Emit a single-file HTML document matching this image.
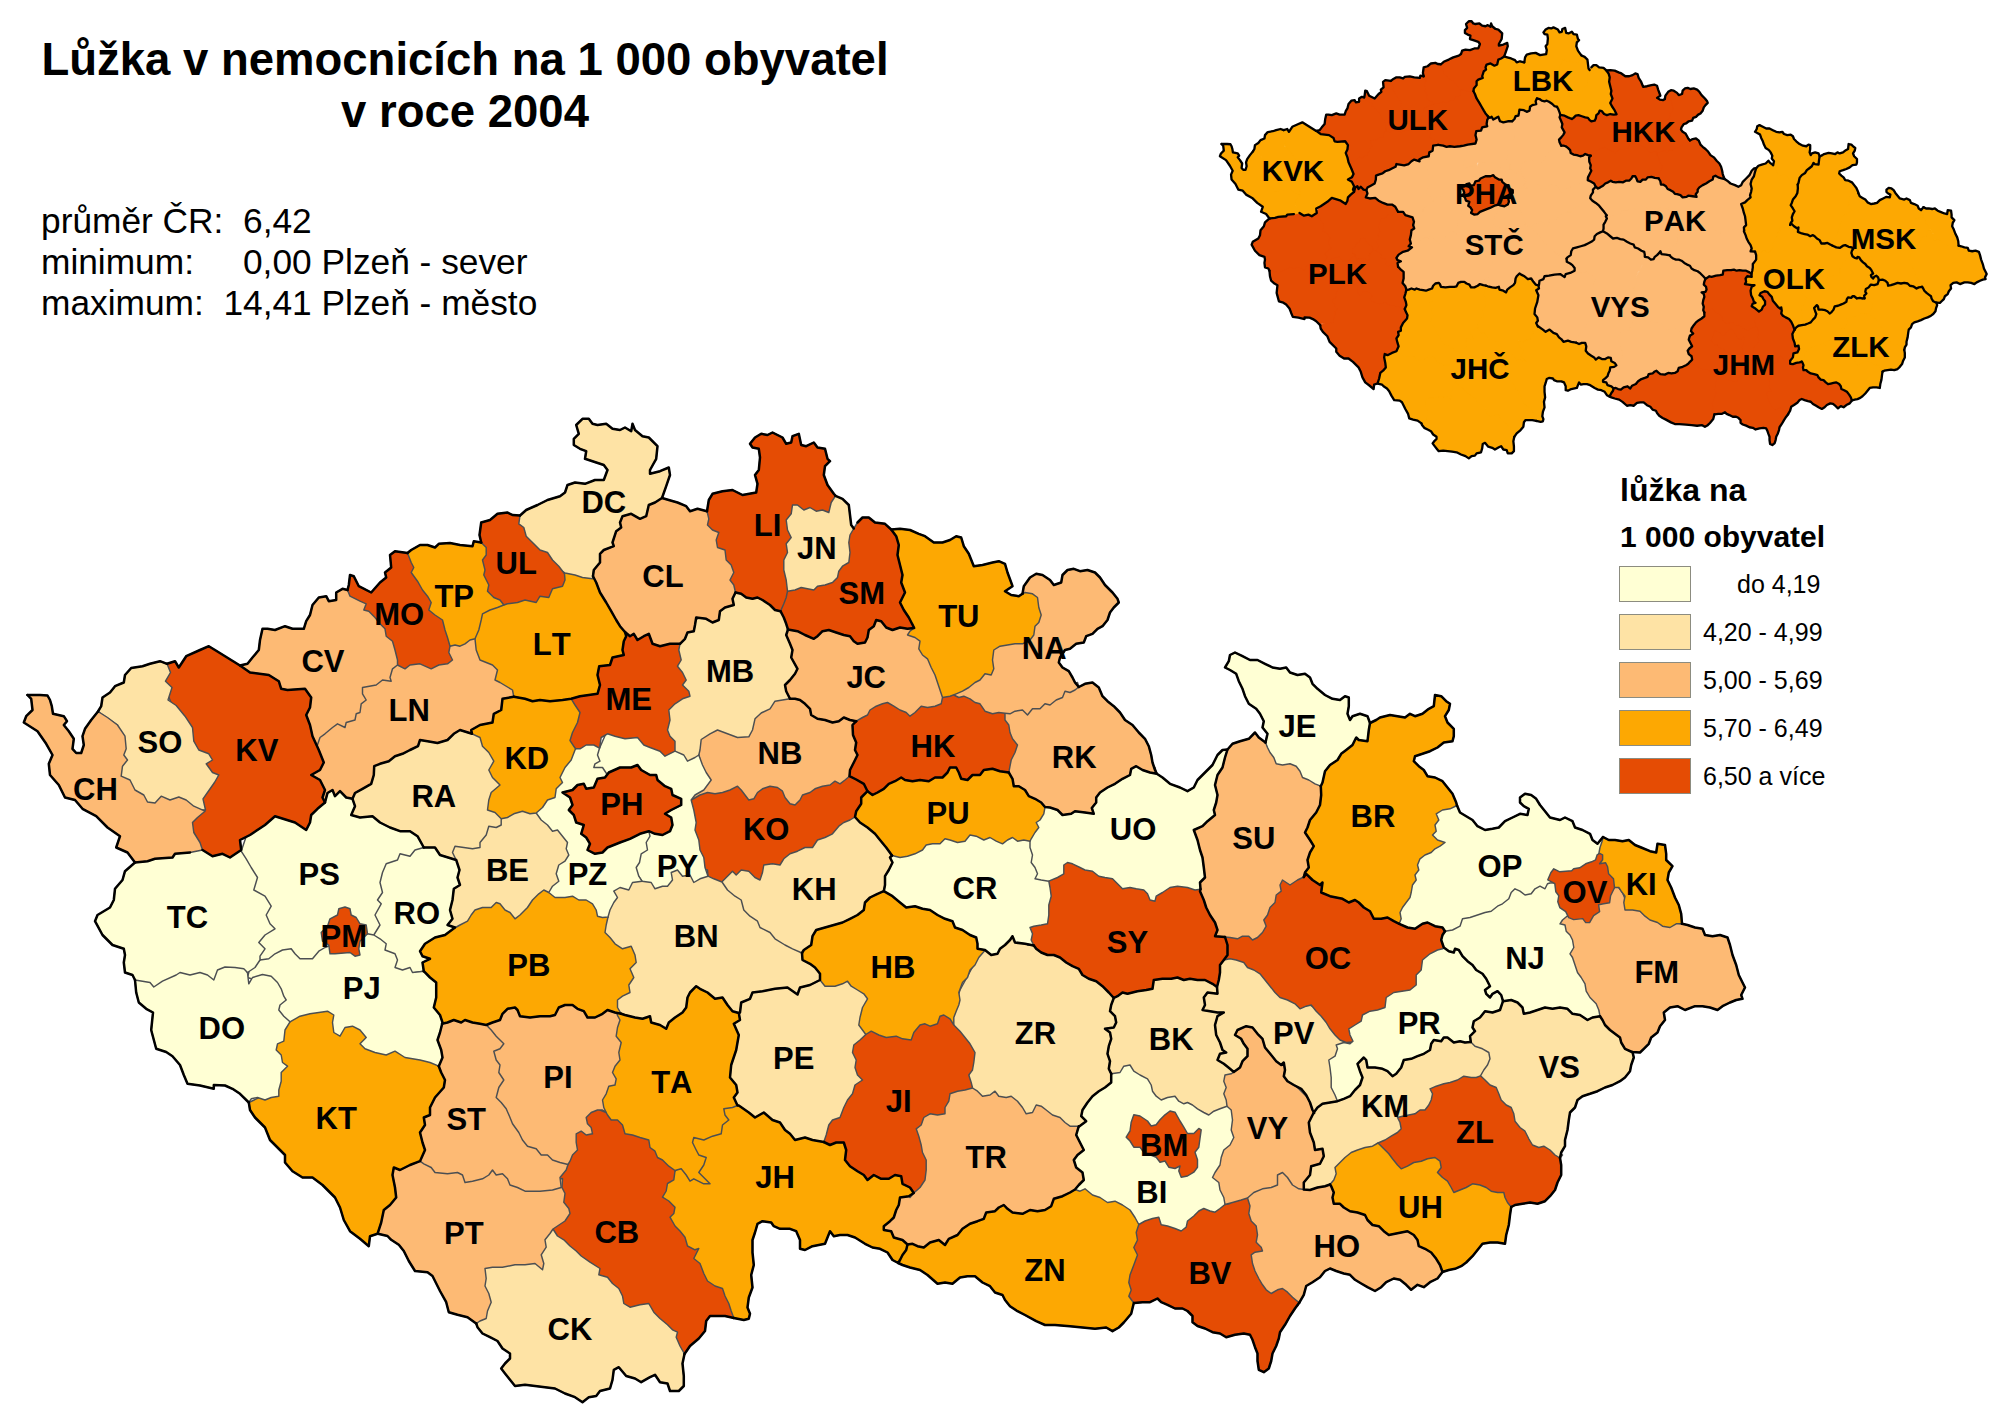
<!DOCTYPE html>
<html><head><meta charset="utf-8"><title>Lůžka v nemocnicích</title>
<style>
html,body{margin:0;padding:0;background:#fff;}
body{font-kerning:none;width:2008px;height:1415px;position:relative;overflow:hidden;font-family:"Liberation Sans",sans-serif;color:#000;}
#title{position:absolute;left:0;top:34.2px;width:930px;text-align:center;font-weight:bold;font-size:45.5px;line-height:52px;}
#info{position:absolute;left:41px;top:200px;font-size:35.3px;line-height:41px;white-space:pre;}
svg{position:absolute;left:0;top:0;}
.d{stroke:#4c4f52;stroke-width:1.45;stroke-linejoin:round;}
.k{fill:none;stroke:#000;stroke-width:2.5;stroke-linejoin:round;stroke-linecap:round;}
text{font-family:"Liberation Sans",sans-serif;font-weight:bold;text-anchor:middle;fill:#000;font-kerning:none;}
.k2{fill:none;stroke:#000;stroke-width:5.2;stroke-linejoin:round;stroke-linecap:round;}
.lt{position:absolute;left:1620px;font-weight:bold;white-space:pre;}
.sw{position:absolute;left:1619px;width:72px;height:36px;border:1px solid #8c8c80;box-sizing:border-box;}
.lb{position:absolute;left:1703px;font-size:25px;line-height:28px;white-space:pre;}
</style></head><body>
<div id="title">Lůžka v nemocnicích na 1 000 obyvatel<br>v roce 2004</div>
<div id="info">průměr ČR:  6,42
minimum:     0,00 Plzeň - sever
maximum:  14,41 Plzeň - město</div>
<svg width="2008" height="1415" viewBox="0 0 2008 1415">
<polygon class="d" fill="#fdba74" points="1299.2,1302.8 1303.8,1294.8 1306.2,1286.0 1312.5,1282.2 1320.0,1277.2 1325.0,1271.0 1330.0,1268.5 1336.2,1271.0 1343.8,1273.5 1350.0,1274.8 1355.0,1279.8 1361.2,1283.5 1367.5,1287.2 1375.0,1291.0 1381.2,1287.2 1386.2,1282.2 1393.8,1278.5 1400.0,1279.8 1406.2,1284.8 1411.2,1289.8 1417.5,1284.8 1423.8,1287.2 1430.0,1282.2 1437.5,1278.5 1442.5,1272.0 1445.0,1268.5 1435.0,1248.5 1422.5,1236.0 1400.0,1226.0 1380.0,1221.0 1362.5,1208.5 1340.0,1198.5 1335.0,1183.5 1325.0,1178.5 1305.0,1183.5 1297.5,1181.0 1282.5,1166.0 1270.0,1181.0 1250.0,1191.0 1245.0,1201.0 1245.0,1223.5 1252.5,1248.5 1247.5,1261.0 1257.5,1286.0 1272.5,1298.5 1287.5,1296.0 1297.5,1306.0"/>
<polygon class="d" fill="#e54c04" points="1138.8,1224.5 1150.0,1211.0 1175.0,1221.0 1200.0,1203.5 1220.0,1201.0 1225.0,1204.5 1237.5,1196.0 1247.5,1198.0 1250.0,1206.0 1248.8,1213.5 1251.2,1221.0 1256.2,1226.0 1257.5,1234.8 1256.2,1242.2 1261.2,1247.2 1262.5,1251.0 1255.0,1252.2 1251.2,1254.8 1252.5,1263.5 1255.0,1271.0 1258.8,1278.5 1262.5,1284.8 1266.2,1289.8 1271.2,1293.5 1277.5,1289.8 1282.5,1288.5 1287.5,1292.2 1292.5,1297.2 1299.2,1302.8 1295.0,1308.5 1290.0,1316.0 1285.0,1324.8 1280.0,1332.2 1278.8,1338.5 1276.2,1346.0 1272.5,1353.5 1271.2,1361.0 1268.8,1368.5 1263.8,1372.2 1258.8,1369.8 1257.5,1361.0 1257.5,1353.5 1255.0,1347.2 1252.5,1339.8 1250.0,1334.8 1243.8,1333.5 1235.0,1334.8 1226.2,1337.2 1220.0,1333.5 1212.5,1332.2 1205.0,1328.5 1197.5,1326.0 1192.5,1322.2 1192.5,1316.0 1187.5,1311.0 1182.5,1308.5 1175.0,1308.5 1167.5,1304.8 1161.2,1302.2 1157.5,1298.5 1150.0,1302.2 1142.5,1302.2 1134.2,1303.0 1125.0,1298.5 1125.0,1273.5 1130.0,1248.5 1132.5,1228.5"/>
<polygon class="d" fill="#ffffd4" points="1138.8,1224.5 1145.0,1221.0 1152.5,1218.5 1158.8,1217.2 1161.2,1224.8 1167.5,1226.0 1175.0,1228.5 1181.2,1231.0 1186.2,1227.2 1187.5,1221.0 1193.8,1216.0 1198.8,1211.0 1203.8,1208.5 1210.0,1211.0 1215.0,1212.2 1220.0,1208.5 1225.0,1204.5 1230.0,1203.5 1225.0,1186.0 1227.5,1161.0 1237.5,1136.0 1235.0,1111.0 1225.0,1101.0 1200.0,1106.0 1175.0,1091.0 1155.0,1086.0 1135.0,1061.0 1112.5,1068.5 1107.5,1071.0 1087.5,1091.0 1075.0,1123.5 1070.0,1136.0 1070.0,1161.0 1072.5,1186.0 1080.0,1196.0 1100.0,1203.5 1120.0,1211.0 1132.5,1223.5"/>
<polygon class="d" fill="#fdba74" points="1227.0,1106.2 1231.2,1110.0 1232.5,1120.0 1231.2,1130.0 1233.8,1137.5 1230.0,1145.0 1223.8,1150.0 1221.2,1157.5 1220.0,1165.0 1215.0,1172.5 1212.5,1177.5 1218.8,1182.5 1220.0,1190.0 1223.8,1197.5 1225.0,1204.5 1232.5,1202.5 1241.2,1200.0 1247.5,1198.0 1253.8,1192.5 1262.5,1188.8 1271.2,1187.5 1277.5,1185.0 1277.5,1175.0 1282.5,1172.5 1287.5,1177.5 1292.5,1185.0 1298.8,1188.8 1303.8,1189.5 1310.0,1187.5 1315.0,1172.5 1325.0,1165.0 1327.5,1152.5 1320.0,1145.0 1315.0,1130.0 1317.5,1115.0 1310.0,1100.0 1290.0,1080.0 1285.0,1060.0 1270.0,1050.0 1260.0,1030.0 1245.0,1022.5 1232.5,1035.0 1240.0,1050.0 1237.5,1062.5 1230.0,1070.0 1220.0,1075.0 1220.0,1105.0"/>
<polygon class="d" fill="#fee3a5" points="1111.2,1073.8 1111.2,1082.5 1105.0,1087.5 1098.8,1091.2 1092.5,1096.2 1087.5,1102.5 1082.5,1110.0 1081.2,1116.2 1086.2,1121.2 1079.5,1126.2 1075.0,1132.5 1050.0,1125.0 1025.0,1115.0 1000.0,1102.5 975.0,1095.0 967.5,1087.5 970.0,1062.5 962.5,1037.5 950.0,1025.0 950.0,1020.0 960.0,990.0 975.0,962.5 980.0,950.0 990.0,948.8 1000.0,942.5 1012.5,930.0 1032.5,940.0 1040.0,945.0 1062.5,955.0 1082.5,967.5 1105.0,982.5 1117.5,995.0 1120.0,1005.0 1120.0,1025.0 1115.0,1050.0 1117.5,1070.0"/>
<polygon class="d" fill="#fee3a5" points="1113.8,998.0 1111.2,1005.0 1110.0,1011.2 1115.0,1016.2 1116.2,1022.5 1113.8,1027.5 1105.0,1028.8 1110.0,1032.5 1111.2,1038.8 1108.8,1046.2 1107.5,1053.8 1110.0,1061.2 1108.8,1068.8 1111.2,1073.8 1120.0,1072.5 1123.8,1066.2 1130.0,1065.0 1133.8,1071.2 1140.0,1075.0 1147.5,1078.8 1151.2,1085.0 1152.5,1091.2 1156.2,1096.2 1161.2,1100.0 1167.5,1097.5 1175.0,1096.2 1178.8,1101.2 1183.8,1103.8 1187.5,1102.5 1192.5,1105.0 1197.5,1108.8 1203.8,1112.5 1208.8,1115.0 1213.8,1111.2 1220.0,1108.8 1227.0,1106.2 1226.2,1100.0 1223.8,1093.8 1226.2,1087.5 1223.8,1081.2 1225.0,1075.0 1231.2,1073.8 1233.8,1072.0 1235.0,1067.5 1230.0,1057.5 1232.5,1050.0 1225.0,1037.5 1222.5,1022.5 1227.5,1013.8 1225.0,1010.0 1212.5,1007.5 1210.0,1000.0 1222.5,995.0 1220.0,985.0 1217.5,982.5 1200.0,975.0 1175.0,973.8 1150.0,975.0 1147.5,986.2 1125.0,988.8 1115.0,993.8"/>
<polygon class="d" fill="#fee3a5" points="1217.0,987.0 1217.5,993.8 1207.5,992.5 1203.8,997.5 1205.0,1005.0 1202.5,1010.0 1210.0,1011.2 1217.5,1012.5 1223.8,1012.5 1217.5,1016.2 1215.0,1025.0 1216.2,1035.0 1220.0,1042.5 1222.5,1050.0 1226.2,1052.5 1220.0,1053.8 1217.5,1060.0 1223.8,1063.8 1230.0,1068.8 1233.8,1072.0 1240.0,1067.5 1242.5,1061.2 1247.5,1056.2 1247.5,1048.8 1243.8,1043.8 1241.2,1038.8 1235.0,1035.0 1237.5,1030.0 1246.2,1026.2 1252.5,1027.5 1257.5,1033.8 1262.5,1038.8 1265.0,1047.5 1271.2,1055.0 1276.2,1061.2 1281.2,1065.0 1283.8,1062.5 1285.0,1070.0 1283.8,1076.2 1287.5,1081.2 1293.8,1085.0 1301.2,1088.8 1306.2,1095.0 1310.0,1102.5 1312.5,1110.0 1314.2,1113.0 1325.0,1110.0 1340.0,1105.0 1342.5,1100.0 1337.5,1075.0 1337.5,1060.0 1345.0,1047.5 1355.0,1045.0 1350.0,1035.0 1325.0,1012.5 1300.0,1000.0 1275.0,985.0 1250.0,962.5 1225.0,955.0 1217.5,960.0 1215.0,985.0"/>
<polygon class="d" fill="#e54c04" points="1223.8,960.0 1230.0,958.8 1236.2,960.0 1243.8,962.5 1247.5,967.5 1253.8,970.0 1260.0,973.8 1265.0,980.0 1270.0,986.2 1275.0,992.5 1280.0,997.5 1287.5,1000.0 1295.0,1003.8 1300.0,1008.8 1306.2,1006.2 1311.2,1005.0 1316.2,1011.2 1321.2,1016.2 1326.2,1022.5 1330.0,1028.8 1335.0,1035.0 1340.0,1040.0 1346.2,1042.5 1353.0,1042.0 1357.5,1042.5 1365.0,1025.0 1390.0,1012.5 1400.0,997.5 1422.5,990.0 1425.0,970.0 1440.0,955.0 1447.5,947.5 1450.0,945.0 1450.0,930.0 1445.0,925.0 1425.0,917.5 1397.5,917.5 1375.0,910.0 1355.0,892.5 1325.0,882.5 1310.0,870.0 1300.0,870.0 1275.0,882.5 1265.0,905.0 1257.5,925.0 1245.0,930.0 1225.0,930.0 1220.0,937.5 1220.0,960.0"/>
<polygon class="d" fill="#e54c04" points="1033.8,945.5 1027.5,945.0 1025.0,930.0 1042.5,920.0 1045.0,900.0 1042.5,882.5 1050.0,875.0 1060.0,865.0 1067.5,857.5 1087.5,865.0 1112.5,872.5 1137.5,882.5 1152.5,892.5 1170.0,882.5 1195.0,885.0 1207.5,887.5 1217.5,912.5 1227.5,930.0 1225.0,937.0 1227.5,945.0 1227.5,955.0 1223.8,960.0 1220.0,965.0 1220.0,972.5 1218.8,980.0 1217.0,987.0 1212.5,983.8 1205.0,980.0 1197.5,980.0 1190.0,978.8 1183.8,980.0 1177.5,977.5 1171.2,978.8 1162.5,978.8 1153.8,980.0 1152.5,988.8 1146.2,990.0 1137.5,991.2 1127.5,993.8 1122.5,992.5 1117.5,996.2 1113.8,998.0 1108.8,992.5 1102.5,986.2 1096.2,981.2 1088.8,978.8 1082.5,975.0 1078.8,968.8 1072.5,966.2 1066.2,962.5 1060.0,957.5 1053.8,955.0 1047.5,955.0 1041.2,952.5 1036.2,948.8 1033.8,945.5"/>
<polygon class="d" fill="#ffffd4" points="1442.5,948.8 1450.0,945.0 1465.0,952.5 1480.0,965.0 1495.0,985.0 1505.0,997.5 1507.5,1007.5 1487.5,1020.0 1480.0,1030.0 1477.5,1042.5 1462.5,1050.0 1437.5,1050.0 1425.0,1065.0 1400.0,1080.0 1375.0,1075.0 1365.0,1075.0 1367.5,1087.5 1350.0,1102.5 1337.5,1105.0 1337.5,1101.2 1335.0,1095.0 1331.2,1087.5 1331.2,1077.5 1330.0,1067.5 1328.8,1060.0 1335.0,1056.2 1337.5,1048.8 1336.2,1045.0 1343.8,1042.5 1350.0,1043.8 1353.0,1041.2 1350.0,1035.0 1348.8,1028.8 1355.0,1025.0 1361.2,1021.2 1362.5,1015.0 1370.0,1011.2 1377.5,1010.0 1385.0,1007.5 1386.2,997.5 1393.8,992.5 1410.0,990.0 1416.2,985.0 1416.2,975.0 1421.2,970.0 1422.5,960.0 1430.0,953.8 1437.5,950.0"/>
<polygon class="d" fill="#fee3a5" points="1470.8,1042.0 1465.0,1042.5 1460.0,1041.2 1453.8,1042.5 1447.5,1037.5 1443.8,1037.5 1441.2,1041.2 1433.8,1040.0 1431.2,1043.8 1430.0,1050.0 1423.8,1053.8 1417.5,1056.2 1411.2,1058.8 1403.8,1060.0 1401.2,1067.5 1396.2,1073.8 1392.5,1076.2 1387.5,1071.2 1382.5,1068.8 1375.0,1067.5 1367.5,1067.5 1366.2,1060.0 1363.8,1057.5 1357.5,1063.8 1360.0,1071.2 1362.5,1077.5 1360.0,1085.0 1355.0,1090.0 1350.0,1096.2 1343.8,1098.8 1337.5,1101.2 1330.0,1102.5 1322.5,1103.8 1317.5,1107.5 1313.8,1112.5 1308.8,1122.5 1310.0,1132.5 1313.8,1142.5 1315.0,1150.0 1322.5,1148.8 1323.8,1156.2 1320.0,1163.8 1311.2,1166.2 1310.0,1175.0 1303.8,1182.5 1303.8,1189.5 1310.0,1190.0 1317.5,1187.5 1325.0,1186.2 1330.0,1184.5 1335.0,1187.5 1342.5,1172.5 1350.0,1160.0 1370.0,1152.5 1380.0,1147.5 1395.0,1142.5 1405.0,1130.0 1407.5,1120.0 1425.0,1115.0 1437.5,1100.0 1440.0,1090.0 1462.5,1082.5 1480.0,1080.0 1487.5,1072.5 1495.0,1057.5 1480.0,1042.5"/>
<polygon class="d" fill="#fda802" points="1378.0,1143.0 1385.0,1142.5 1400.0,1160.0 1412.5,1157.5 1435.0,1152.5 1447.5,1170.0 1455.0,1185.0 1472.5,1178.8 1490.0,1185.0 1507.5,1190.0 1515.0,1205.0 1511.2,1207.0 1510.0,1215.0 1508.8,1225.0 1506.2,1235.0 1505.0,1243.8 1497.5,1242.5 1490.0,1242.5 1482.5,1243.8 1477.5,1250.0 1472.5,1256.2 1466.2,1262.5 1461.2,1266.2 1455.0,1268.8 1448.8,1270.0 1442.5,1272.0 1440.0,1265.0 1436.2,1258.8 1431.2,1252.5 1425.0,1248.8 1418.8,1246.2 1417.5,1240.0 1413.8,1235.0 1407.5,1231.2 1401.2,1232.5 1395.0,1233.8 1388.8,1235.0 1383.8,1231.2 1378.8,1226.2 1372.5,1225.0 1367.5,1220.0 1365.0,1215.0 1357.5,1212.5 1350.0,1211.2 1343.8,1207.5 1340.0,1203.8 1333.8,1203.8 1332.5,1197.5 1333.8,1192.5 1331.2,1186.2 1330.0,1184.5 1333.8,1180.0 1336.2,1173.8 1335.0,1167.5 1340.0,1162.5 1345.0,1157.5 1351.2,1152.5 1357.5,1150.0 1365.0,1147.5 1372.5,1146.2"/>
<polygon class="d" fill="#e54c04" points="1480.5,1075.8 1487.5,1075.0 1505.0,1092.5 1520.0,1110.0 1525.0,1125.0 1537.5,1140.0 1555.0,1147.5 1562.5,1155.0 1560.0,1158.0 1561.2,1165.0 1561.2,1175.0 1557.5,1182.5 1555.0,1190.0 1550.0,1196.2 1545.0,1201.2 1537.5,1203.8 1530.0,1202.5 1522.5,1203.8 1515.0,1205.0 1511.2,1207.0 1507.5,1202.5 1505.0,1197.5 1503.8,1192.5 1497.5,1192.5 1491.2,1191.2 1486.2,1187.5 1480.0,1185.0 1472.5,1183.8 1466.2,1187.5 1460.0,1190.0 1453.8,1192.5 1451.2,1187.5 1447.5,1181.2 1442.5,1177.5 1437.5,1172.5 1441.2,1167.5 1440.0,1161.2 1435.0,1157.5 1427.5,1158.8 1421.2,1161.2 1413.8,1162.5 1407.5,1166.2 1401.2,1168.8 1397.5,1165.0 1392.5,1158.8 1388.8,1153.8 1383.8,1148.8 1378.0,1143.0 1385.0,1140.0 1391.2,1136.2 1397.5,1132.5 1401.2,1128.8 1400.0,1122.5 1397.5,1117.5 1402.5,1116.2 1408.8,1115.0 1415.0,1113.8 1420.0,1110.0 1425.0,1110.0 1428.8,1105.0 1431.2,1100.0 1432.5,1093.8 1430.0,1088.8 1436.2,1086.2 1443.8,1083.8 1450.0,1082.5 1457.5,1080.0 1463.8,1076.2 1471.2,1077.5 1476.2,1077.5"/>
<polygon class="d" fill="#fee3a5" points="1470.8,1042.0 1470.0,1036.2 1475.0,1031.2 1472.5,1027.5 1473.8,1021.2 1480.0,1017.5 1485.0,1011.2 1492.5,1012.5 1500.0,1010.0 1503.0,1001.2 1505.0,995.0 1525.0,1000.0 1550.0,1000.0 1570.0,1005.0 1587.5,1012.5 1600.0,1010.0 1612.5,1025.0 1625.0,1040.0 1632.5,1047.5 1632.5,1052.0 1633.8,1057.5 1631.2,1065.0 1630.0,1071.2 1625.0,1077.5 1620.0,1081.2 1612.5,1085.0 1605.0,1087.5 1597.5,1091.2 1590.0,1093.8 1582.5,1096.2 1577.5,1100.0 1575.0,1107.5 1570.0,1112.5 1568.8,1120.0 1567.5,1130.0 1565.0,1140.0 1565.0,1146.2 1561.2,1152.5 1560.0,1158.0 1555.0,1155.0 1550.0,1150.0 1543.8,1146.2 1538.8,1147.5 1532.5,1145.0 1528.8,1138.8 1525.0,1131.2 1520.0,1127.5 1515.0,1121.2 1513.8,1113.8 1511.2,1107.5 1506.2,1105.0 1501.2,1100.0 1498.8,1093.8 1496.2,1087.5 1490.0,1085.0 1485.0,1080.0 1480.5,1075.8 1483.8,1070.0 1487.5,1065.0 1490.0,1058.8 1488.8,1052.5 1482.5,1048.8 1475.0,1046.2"/>
<polygon class="d" fill="#ffffd4" points="1445.0,931.2 1450.0,922.5 1460.0,912.5 1490.0,905.0 1507.5,890.0 1525.0,887.5 1547.5,877.5 1557.5,885.0 1562.5,900.0 1570.0,910.0 1570.0,920.0 1580.0,950.0 1587.5,975.0 1597.5,995.0 1605.0,1012.5 1600.0,1016.2 1592.5,1017.5 1587.5,1020.0 1580.0,1015.0 1572.5,1013.8 1567.5,1008.8 1560.0,1007.5 1552.5,1008.8 1545.0,1007.5 1537.5,1010.0 1530.0,1012.5 1523.8,1013.8 1522.5,1007.5 1517.5,1002.5 1511.2,1000.0 1503.0,1001.2 1501.2,995.0 1497.5,991.2 1492.5,993.8 1490.0,997.5 1486.2,993.8 1485.0,990.0 1490.0,986.2 1486.2,978.8 1482.5,973.8 1476.2,970.0 1472.5,965.0 1467.5,961.2 1462.5,956.2 1458.8,950.0 1455.0,948.8 1453.8,952.5 1448.8,951.2 1443.8,947.5 1441.2,940.0 1442.5,935.0 1445.0,931.2"/>
<polygon class="d" fill="#fdba74" points="1682.0,923.8 1687.5,925.0 1695.0,927.5 1702.5,928.8 1705.0,935.0 1712.5,936.2 1720.0,935.0 1727.5,937.5 1730.0,945.0 1732.5,955.0 1736.2,965.0 1738.8,975.0 1742.5,982.5 1745.0,987.5 1741.2,995.0 1742.5,998.8 1736.2,1000.0 1730.0,1002.5 1722.5,1006.2 1717.5,1010.0 1710.0,1007.5 1702.5,1006.2 1695.0,1006.2 1685.0,1010.0 1677.5,1006.2 1670.0,1007.5 1663.8,1012.5 1665.0,1020.0 1660.0,1026.2 1657.5,1032.5 1651.2,1037.5 1648.8,1043.8 1643.8,1048.8 1640.0,1052.5 1632.0,1052.0 1625.0,1048.8 1621.2,1042.5 1620.0,1037.5 1615.0,1033.8 1610.0,1030.0 1605.0,1025.0 1602.5,1020.0 1600.0,1016.2 1598.8,1010.0 1596.2,1003.8 1590.0,997.5 1586.2,991.2 1585.0,983.8 1581.2,977.5 1577.5,972.5 1575.0,965.0 1572.5,957.5 1570.0,953.8 1573.8,947.5 1572.5,940.0 1570.0,935.0 1566.2,931.2 1565.0,925.0 1560.0,923.8 1562.5,920.0 1567.0,916.2 1587.5,910.0 1600.0,900.0 1607.5,885.0 1618.8,887.5 1622.5,892.5 1627.5,905.0 1632.5,906.2 1642.5,910.0 1657.5,917.5 1672.5,922.5"/>
<polygon class="d" fill="#fda802" points="1603.0,837.0 1608.8,840.0 1615.0,840.0 1622.5,841.2 1628.8,840.0 1635.0,845.0 1641.2,847.5 1650.0,851.2 1656.2,852.5 1657.5,843.8 1665.0,845.0 1666.2,853.8 1666.2,860.0 1672.5,866.2 1668.8,872.5 1667.5,880.0 1671.2,887.5 1675.0,897.5 1678.8,905.0 1681.2,913.8 1682.0,923.8 1676.2,923.8 1670.0,927.5 1662.5,926.2 1657.5,922.5 1650.0,920.0 1645.0,916.2 1640.0,911.2 1632.5,910.0 1625.0,910.0 1623.8,902.5 1625.0,896.2 1621.2,891.2 1618.8,887.5 1612.5,887.5 1605.0,875.0 1597.5,862.5 1596.2,845.0"/>
<polygon class="d" fill="#ffffd4" points="1457.0,805.5 1460.0,812.5 1466.2,816.2 1472.5,820.0 1477.5,826.2 1485.0,830.0 1492.5,828.8 1498.8,827.5 1505.0,821.2 1512.5,817.5 1520.0,813.8 1527.5,815.0 1528.8,808.8 1523.8,806.2 1520.0,802.5 1520.0,797.5 1525.0,793.8 1531.2,795.0 1536.2,798.8 1540.0,805.0 1545.0,811.2 1550.0,817.5 1560.0,820.0 1565.0,817.5 1572.5,821.2 1575.0,827.5 1582.5,830.0 1590.0,833.8 1592.5,840.0 1597.5,843.8 1603.0,837.0 1602.5,840.0 1600.0,847.5 1598.8,853.8 1597.5,858.8 1595.0,870.0 1575.0,880.0 1560.0,882.5 1550.0,883.0 1547.5,883.8 1545.0,888.8 1540.0,886.2 1535.0,888.8 1531.2,893.8 1525.0,895.0 1520.0,891.2 1515.0,888.8 1511.2,892.5 1508.8,898.8 1502.5,903.8 1497.5,906.2 1491.2,911.2 1485.0,912.5 1477.5,915.0 1470.0,917.5 1462.5,918.8 1460.0,926.2 1452.5,930.0 1445.0,931.2 1442.5,927.5 1435.0,926.2 1427.5,922.5 1422.5,923.8 1415.0,928.8 1407.5,927.5 1399.2,923.8 1396.2,922.5 1396.2,910.0 1405.0,895.0 1411.2,880.0 1415.0,860.0 1430.0,845.0 1431.2,832.5 1432.5,812.5 1447.5,806.2"/>
<polygon class="d" fill="#fda802" points="1370.0,723.0 1376.2,720.0 1380.0,717.5 1390.0,715.0 1397.5,716.2 1405.0,717.5 1410.0,713.8 1415.0,716.2 1422.5,713.8 1428.8,708.8 1433.8,706.2 1435.0,695.0 1441.2,696.2 1446.2,701.2 1450.0,703.8 1448.8,710.0 1445.0,716.2 1447.5,722.5 1453.8,728.8 1453.8,736.2 1452.5,741.2 1443.8,742.5 1437.5,747.5 1430.0,751.2 1422.5,753.8 1415.0,756.2 1413.8,761.2 1418.8,766.2 1423.8,770.0 1427.5,776.2 1435.0,777.5 1442.5,781.2 1447.5,787.5 1452.5,793.8 1456.2,802.5 1457.0,805.5 1450.0,808.8 1442.5,810.0 1436.2,813.8 1438.8,820.0 1435.0,825.0 1436.2,831.2 1432.5,835.0 1437.5,840.0 1445.0,842.5 1440.0,846.2 1435.0,848.8 1431.2,852.5 1425.0,855.0 1420.0,858.8 1417.5,865.0 1418.8,870.0 1415.0,875.0 1416.2,880.0 1412.5,885.0 1411.2,892.5 1410.0,897.5 1406.2,902.5 1402.5,907.5 1400.0,912.5 1401.2,918.8 1399.2,923.8 1393.8,921.2 1387.5,917.5 1381.2,918.8 1373.8,918.8 1370.0,911.2 1363.8,907.5 1358.8,902.5 1355.0,900.0 1348.8,902.5 1342.5,898.8 1336.2,897.5 1330.0,896.2 1321.2,892.5 1322.5,882.5 1320.0,885.0 1312.5,880.0 1306.2,873.8 1303.8,877.0 1300.0,875.0 1302.5,857.5 1305.0,845.0 1300.0,832.5 1307.5,815.0 1315.0,800.0 1317.5,787.5 1317.5,780.0 1322.5,767.5 1335.0,755.0 1350.0,740.0 1362.5,735.0 1365.0,725.0"/>
<polygon class="d" fill="#fdba74" points="1227.5,749.5 1232.5,743.8 1240.0,741.2 1248.8,738.8 1255.0,732.5 1258.8,737.5 1265.5,742.5 1272.5,745.0 1280.0,757.5 1297.5,760.0 1307.5,772.5 1320.0,780.0 1320.8,786.2 1321.2,795.0 1320.0,805.0 1316.2,812.5 1310.0,820.0 1307.5,827.5 1305.0,832.5 1310.0,840.0 1313.8,846.2 1310.0,852.5 1307.5,860.0 1308.8,867.5 1305.0,872.5 1303.8,877.0 1297.5,880.0 1290.0,885.0 1282.5,880.0 1280.0,885.0 1281.2,891.2 1276.2,895.0 1275.0,902.5 1270.0,907.5 1267.5,915.0 1263.8,920.0 1266.2,926.2 1262.5,932.5 1257.5,937.5 1252.5,940.0 1248.8,936.2 1242.5,936.2 1237.5,938.8 1230.0,937.5 1225.0,937.0 1215.0,936.2 1217.5,930.0 1215.0,922.5 1210.0,915.0 1206.2,907.5 1203.8,900.0 1200.0,891.2 1200.5,889.2 1197.5,885.0 1198.8,870.0 1195.0,845.0 1190.0,831.2 1205.0,817.5 1210.0,805.0 1210.0,785.0 1217.5,765.0 1223.8,752.5"/>
<polygon class="d" fill="#ffffd4" points="1265.5,742.5 1267.5,733.8 1262.5,727.5 1263.8,721.2 1260.0,713.8 1256.2,708.8 1248.8,703.8 1245.0,696.2 1242.5,688.8 1238.8,681.2 1236.2,673.8 1230.0,670.0 1225.0,667.5 1228.8,661.2 1230.0,655.0 1235.0,652.5 1242.5,656.2 1250.0,660.0 1257.5,660.0 1265.0,663.8 1272.5,667.5 1280.0,668.8 1286.2,667.5 1290.0,672.5 1297.5,675.0 1305.0,673.8 1310.0,677.5 1312.5,683.8 1317.5,688.8 1325.0,695.0 1332.5,698.8 1340.0,700.0 1345.0,696.2 1348.8,697.5 1348.8,706.2 1347.5,713.8 1350.0,720.0 1352.5,716.2 1360.0,713.8 1367.5,716.2 1370.0,723.0 1368.8,730.0 1367.5,741.2 1358.8,740.0 1356.2,737.5 1352.5,745.0 1346.2,750.0 1341.2,753.8 1337.5,760.0 1330.0,765.0 1325.0,771.2 1322.5,782.5 1320.8,786.2 1315.0,783.8 1308.8,780.0 1302.5,777.5 1300.0,771.2 1296.2,766.2 1290.0,763.8 1282.5,765.0 1276.2,763.8 1273.8,757.5 1270.0,752.5 1267.5,747.5"/>
<polygon class="d" fill="#e54c04" points="687.5,797.5 725.0,785.0 750.0,785.0 775.0,780.0 800.0,790.0 825.0,780.0 850.0,772.5 870.0,785.0 870.0,800.0 862.5,817.5 850.0,830.0 825.0,847.5 800.0,860.0 775.0,875.0 760.0,887.5 745.0,880.0 725.0,887.5 712.5,885.0 700.0,875.0 695.0,850.0 690.0,825.0"/>
<polygon class="d" fill="#fdba74" points="698.8,755.0 695.0,750.0 697.5,735.0 715.0,725.0 735.0,730.0 747.5,725.0 750.0,715.0 767.5,700.0 787.5,693.8 800.0,695.0 815.0,710.0 837.5,715.0 856.2,716.2 860.0,725.0 862.5,755.0 855.0,775.0 849.5,776.2 845.0,780.0 840.0,783.8 835.0,781.2 830.0,785.0 822.5,786.2 815.0,788.8 810.0,792.5 802.5,795.0 800.0,800.0 795.0,805.0 790.0,803.8 785.0,797.5 782.5,791.2 777.5,787.5 770.0,786.2 762.5,788.8 757.5,792.5 753.8,798.8 748.8,800.0 745.0,795.0 741.2,790.0 737.5,786.2 730.0,790.0 722.5,792.5 715.0,793.8 707.5,792.5 700.0,795.0 691.2,800.0 687.5,797.5 700.0,787.5 706.2,780.0 700.0,765.0 696.2,757.5"/>
<polygon class="d" fill="#fda802" points="802.0,953.0 800.0,947.5 807.5,932.5 825.0,922.5 850.0,912.5 860.0,902.5 875.0,890.0 885.0,887.5 900.0,897.5 925.0,905.0 950.0,915.0 962.5,925.0 980.0,935.0 987.5,947.5 984.2,951.2 978.8,957.5 975.0,965.0 970.0,970.0 967.5,977.5 962.5,982.5 958.8,992.5 960.0,1000.0 958.8,1005.0 956.2,1011.2 953.8,1017.5 953.8,1025.0 950.0,1032.5 925.0,1037.5 912.5,1047.5 875.0,1045.0 862.5,1040.0 855.0,1025.0 860.0,1005.0 850.0,992.5 825.0,992.5 817.5,985.0 812.5,975.0 797.5,957.5"/>
<polygon class="d" fill="#fee3a5" points="855.0,817.0 862.5,817.5 880.0,830.0 895.0,850.0 897.5,860.0 892.5,875.0 890.0,890.0 883.8,891.2 877.5,893.8 870.0,897.5 865.0,902.5 863.8,910.0 857.5,915.0 850.0,918.8 842.5,922.5 833.8,925.0 825.0,927.5 816.2,930.0 812.5,936.2 811.2,945.0 803.8,950.0 802.0,953.0 787.5,952.5 765.0,937.5 745.0,920.0 735.0,902.5 720.0,887.5 722.5,881.2 727.5,876.2 732.5,871.2 736.2,875.0 741.2,870.0 748.8,871.2 755.0,877.5 760.0,880.0 762.5,872.5 763.8,865.0 772.5,863.8 780.0,865.0 783.8,858.8 790.0,853.8 797.5,851.2 805.0,847.5 812.5,847.5 817.5,840.0 825.0,837.5 832.5,833.8 838.8,826.2 843.8,822.5 850.0,820.0"/>
<polygon class="d" fill="#ffffd4" points="1156.8,773.8 1162.5,777.5 1170.0,783.8 1180.0,787.5 1187.5,791.2 1193.8,787.5 1197.5,780.0 1205.0,772.5 1212.5,765.0 1217.5,755.0 1222.5,750.0 1227.5,749.5 1225.0,757.5 1222.5,767.5 1217.5,775.0 1215.0,785.0 1217.5,795.0 1216.2,802.5 1213.8,810.0 1215.0,815.0 1207.5,821.2 1202.5,826.2 1193.8,830.0 1197.5,840.0 1200.0,850.0 1202.5,857.5 1203.8,867.5 1205.0,877.5 1200.0,882.5 1200.5,889.2 1195.0,890.0 1187.5,887.5 1177.5,886.2 1170.0,887.5 1162.5,892.5 1156.2,896.2 1155.0,901.2 1150.0,900.0 1147.5,893.8 1143.8,890.0 1136.2,888.8 1130.0,887.5 1122.5,888.8 1117.5,883.8 1112.5,878.8 1105.0,877.5 1098.8,876.2 1092.5,871.2 1085.0,870.0 1080.0,867.5 1072.5,863.8 1067.5,862.5 1063.8,865.0 1063.8,873.8 1057.5,877.5 1048.8,881.2 1047.5,885.0 1032.5,882.5 1027.5,870.0 1025.0,850.0 1025.0,840.0 1032.5,825.0 1037.5,810.0 1047.5,802.5 1062.5,810.0 1085.0,807.5 1090.0,797.5 1105.0,785.0 1125.0,772.5 1135.0,760.0 1155.0,767.5"/>
<polygon class="d" fill="#ffffd4" points="892.0,855.5 912.5,847.5 950.0,832.5 1000.0,832.5 1027.5,835.0 1030.0,841.2 1030.0,847.5 1032.5,855.0 1031.2,862.5 1035.0,867.5 1037.5,873.8 1035.0,878.8 1041.2,880.0 1048.8,881.2 1050.0,887.5 1051.2,896.2 1048.8,905.0 1048.8,915.0 1047.5,923.8 1041.2,925.0 1033.8,926.2 1030.0,927.5 1032.5,933.8 1031.2,940.0 1033.8,945.5 1025.0,943.8 1015.0,942.5 1012.5,936.2 1010.0,940.0 1005.0,945.0 1000.0,948.8 997.5,953.8 991.2,955.0 985.0,950.0 977.5,948.8 977.5,943.8 976.2,937.5 970.0,935.0 962.5,930.0 955.0,927.5 952.5,921.2 945.0,918.8 937.5,915.0 930.0,910.0 922.5,908.8 915.0,906.2 906.2,907.5 900.0,902.5 892.5,896.2 883.8,891.2 885.0,885.0 885.0,876.2 888.8,870.0 892.5,862.5 890.0,857.5 892.0,855.5"/>
<polygon class="d" fill="#fda802" points="867.5,791.2 875.0,790.0 890.0,777.5 905.0,775.0 925.0,776.2 942.5,772.5 952.5,762.5 965.0,773.8 982.5,765.0 1000.0,766.2 1010.0,767.5 1017.5,775.0 1027.5,785.0 1037.5,795.0 1047.5,802.5 1045.0,807.0 1043.8,813.8 1040.0,820.0 1036.2,822.5 1038.8,827.5 1035.0,832.5 1031.2,838.8 1030.0,841.2 1023.8,840.0 1017.5,841.2 1012.5,837.5 1007.5,840.0 1002.5,843.8 996.2,841.2 990.0,837.5 983.8,840.0 976.2,836.2 970.0,835.0 965.0,841.2 957.5,842.5 950.0,840.0 945.0,838.8 940.0,843.8 932.5,843.8 926.2,845.0 922.5,850.0 915.0,853.8 907.5,856.2 900.0,857.5 892.0,855.5 886.2,847.5 880.0,840.0 875.0,833.8 867.5,827.5 860.0,822.5 855.0,817.0 856.2,811.2 861.2,803.8 861.2,797.5 867.5,791.2"/>
<polygon class="d" fill="#fdba74" points="1078.8,687.0 1085.0,683.8 1092.5,682.5 1098.8,687.5 1102.5,696.2 1107.5,701.2 1113.8,706.2 1120.0,712.5 1125.0,720.0 1132.5,725.0 1138.8,732.5 1145.0,738.8 1148.8,746.2 1151.2,755.0 1152.5,762.5 1155.0,770.0 1156.8,773.8 1150.0,772.5 1142.5,770.0 1136.2,766.2 1131.2,768.8 1130.0,775.0 1122.5,778.8 1115.0,783.8 1107.5,787.5 1100.0,792.5 1096.2,797.5 1096.2,802.5 1091.8,808.0 1093.8,813.8 1085.0,812.5 1075.0,811.2 1071.2,813.8 1062.5,815.0 1057.5,810.0 1050.0,807.5 1045.0,807.0 1041.2,802.5 1035.0,798.8 1028.8,796.2 1025.0,790.0 1018.8,786.2 1013.8,786.2 1012.5,778.8 1008.8,772.5 1002.5,770.0 1007.5,750.0 1002.5,725.0 1000.0,712.5 1005.0,707.5 1025.0,705.0 1050.0,697.5 1065.0,686.2 1077.5,682.5"/>
<polygon class="d" fill="#e54c04" points="856.2,721.2 860.0,715.0 875.0,700.0 890.0,697.5 910.0,710.0 925.0,702.5 940.0,692.5 957.5,690.0 975.0,697.5 987.5,707.5 1000.0,707.5 1005.0,713.2 1005.0,720.0 1008.8,725.0 1010.0,732.5 1012.5,738.8 1017.5,745.0 1015.0,752.5 1011.2,760.0 1010.0,766.2 1008.8,772.5 1000.0,771.2 992.5,768.8 983.8,770.0 980.0,775.0 972.5,775.0 967.5,780.0 961.2,778.8 958.8,772.5 956.2,767.5 950.0,767.5 947.5,772.5 942.5,777.5 935.0,777.5 928.8,781.2 920.0,780.0 912.5,781.2 905.0,780.0 901.2,777.5 895.0,781.2 888.8,783.8 883.8,788.8 877.5,792.5 872.5,795.0 867.5,791.2 863.8,783.8 856.2,779.5 849.5,776.2 850.0,770.0 853.8,762.5 857.5,755.0 855.0,750.0 856.2,742.5 853.0,735.0 852.5,725.0 856.2,721.2"/>
<polygon class="d" fill="#fdba74" points="1022.5,593.8 1023.8,586.2 1030.0,577.5 1036.2,573.8 1042.5,575.0 1050.0,580.0 1053.8,585.0 1061.2,582.5 1062.5,575.0 1067.5,570.0 1073.8,568.8 1080.0,571.2 1087.5,570.0 1095.0,572.5 1100.0,577.5 1105.0,585.0 1112.5,592.5 1117.5,598.8 1118.8,602.5 1113.8,607.5 1110.0,612.5 1107.5,620.0 1102.5,626.2 1097.5,628.8 1092.5,633.8 1086.2,636.2 1083.8,642.5 1076.2,643.8 1070.0,648.8 1065.0,650.0 1060.0,657.5 1058.8,662.5 1062.5,667.5 1068.8,671.2 1072.5,677.5 1075.0,682.5 1078.8,687.0 1075.0,690.0 1070.0,692.5 1065.0,691.2 1062.5,697.5 1056.2,700.0 1050.0,705.0 1045.0,703.8 1040.0,708.8 1032.5,708.8 1027.5,715.0 1022.5,710.0 1015.0,711.2 1010.0,713.8 1005.0,713.2 998.8,712.5 992.5,713.8 985.0,711.2 980.0,703.8 975.0,702.5 970.0,698.8 963.8,696.2 958.8,697.5 953.8,695.0 955.0,690.0 975.0,675.0 985.0,665.0 987.5,647.5 1012.5,637.5 1027.5,632.5 1032.5,615.0 1030.0,600.0 1020.0,597.5"/>
<polygon class="d" fill="#fda802" points="891.2,529.5 900.0,528.8 910.0,530.0 918.8,533.8 925.0,536.2 933.8,542.5 942.5,542.5 950.0,540.0 956.2,536.2 961.2,537.5 963.8,546.2 968.8,553.8 973.8,566.2 982.5,565.0 992.5,562.5 998.8,561.2 1005.0,563.8 1007.5,572.5 1011.2,582.5 1012.5,586.2 1005.0,591.2 1011.2,595.0 1018.8,596.2 1022.5,593.8 1025.0,592.5 1032.5,593.8 1037.5,597.5 1038.8,607.5 1041.2,615.0 1038.8,622.5 1035.0,626.2 1033.8,635.0 1030.0,640.0 1022.5,643.8 1015.0,643.8 1007.5,645.0 1000.0,646.2 993.8,650.0 992.5,660.0 993.8,668.8 991.2,675.0 985.0,673.8 980.0,680.0 975.0,682.5 968.8,687.5 962.5,691.2 956.2,693.8 950.0,696.2 942.5,697.5 937.5,697.5 930.0,677.5 915.0,650.0 905.0,635.0 907.5,625.0 897.5,607.5 897.5,575.0 892.5,550.0 887.5,532.5"/>
<polygon class="d" fill="#fdba74" points="788.0,629.5 797.5,625.0 812.5,632.5 825.0,625.0 850.0,630.0 862.5,635.0 870.0,622.5 882.5,615.0 900.0,622.5 912.5,623.8 914.2,628.0 910.0,631.2 907.5,635.0 915.0,637.5 920.0,641.2 918.8,648.8 922.5,655.0 927.5,658.8 931.2,667.5 935.0,675.0 937.5,682.5 940.0,690.0 942.5,697.5 941.2,703.8 935.0,706.2 927.5,707.5 921.2,706.2 915.0,712.5 910.0,716.2 906.2,712.5 900.0,710.0 893.8,706.2 887.5,702.5 882.5,703.8 876.2,706.2 870.0,710.0 867.5,715.0 862.5,717.5 856.2,721.2 850.0,720.0 843.8,717.5 838.8,721.2 832.5,722.5 825.0,720.0 817.5,718.8 811.2,715.0 810.0,708.8 805.0,703.8 800.0,700.0 795.0,698.8 790.0,698.8 785.0,697.5 780.0,685.0 790.0,670.0 786.2,650.0 782.5,632.5"/>
<polygon class="d" fill="#fee3a5" points="680.0,643.8 677.5,637.5 690.0,622.5 710.0,612.5 725.0,600.0 732.5,590.0 737.5,587.5 757.5,592.5 770.0,600.0 780.0,605.0 786.2,615.0 790.0,625.0 788.0,629.5 786.2,635.0 790.0,643.8 792.5,650.0 791.2,657.5 797.5,668.8 795.0,673.8 790.0,680.0 785.0,685.0 786.2,691.2 790.0,698.8 782.5,700.0 775.0,701.2 770.0,708.8 761.2,713.0 755.0,718.8 752.5,730.0 748.8,736.8 737.5,737.5 727.5,733.8 717.5,730.0 710.0,733.8 701.2,739.5 700.0,750.0 698.8,755.0 700.0,760.0 692.5,765.0 680.0,760.0 672.5,750.0 665.0,735.0 665.0,712.5 675.0,697.5 680.0,690.0 675.0,670.0 675.0,650.0"/>
<polygon class="d" fill="#e54c04" points="853.8,528.5 857.5,522.5 862.5,517.5 868.8,517.5 875.0,522.5 885.0,523.8 891.2,529.5 896.2,536.2 898.8,545.0 897.5,555.0 900.0,565.0 902.5,575.0 901.2,582.5 905.0,592.5 900.0,602.5 903.8,610.0 908.8,617.5 914.2,628.0 907.5,628.8 900.0,627.5 892.5,630.0 886.2,627.5 881.2,621.2 876.2,620.0 873.8,626.2 868.8,630.0 867.5,637.5 865.0,642.5 857.5,643.8 853.8,641.2 850.0,636.2 843.8,635.0 836.2,632.5 828.8,630.0 822.5,631.2 817.5,636.2 813.8,638.8 805.0,635.0 797.5,631.2 788.0,629.5 786.2,623.8 783.8,617.5 780.5,611.2 777.5,610.0 780.0,595.0 782.5,587.5 800.0,585.0 820.0,580.0 835.0,572.5 845.0,560.0 845.0,535.0 850.0,527.5"/>
<polygon class="d" fill="#fee3a5" points="835.5,495.8 842.5,498.8 848.8,505.0 850.0,515.0 851.2,525.0 853.8,528.5 850.0,535.0 848.8,542.5 850.0,552.5 848.8,562.5 842.5,566.2 838.8,571.2 837.5,577.5 832.5,582.5 825.0,585.0 817.5,586.2 813.8,590.0 807.5,588.8 801.2,587.5 795.0,590.0 787.5,591.2 782.5,590.0 780.0,562.5 782.5,530.0 787.5,505.0 800.0,500.0 812.5,503.8 825.0,506.2 830.0,497.5"/>
<polygon class="d" fill="#e54c04" points="707.0,511.2 708.8,500.0 712.5,493.8 722.5,491.2 732.5,490.0 742.5,495.0 756.2,492.5 757.5,483.8 755.0,475.0 758.8,470.0 760.0,457.5 758.8,448.8 752.5,447.5 750.0,443.8 755.0,437.5 761.2,433.8 767.5,435.0 772.5,432.5 782.5,437.5 786.2,443.8 791.2,442.5 792.5,436.2 798.8,433.8 801.2,445.0 806.2,446.2 813.8,442.5 817.5,447.5 825.0,448.8 827.5,458.8 830.0,461.2 825.0,466.2 823.8,475.0 827.5,485.0 833.8,493.8 835.5,495.8 831.2,502.5 828.8,512.5 822.5,510.0 816.2,511.2 810.0,507.5 803.8,510.0 797.5,505.0 792.5,505.0 791.2,513.8 786.2,520.0 787.5,530.0 791.2,537.5 786.2,543.8 787.5,552.5 783.8,560.0 783.8,570.0 786.2,580.0 787.5,591.2 786.2,597.5 783.8,603.8 780.5,611.2 775.0,610.0 770.0,605.0 762.5,600.0 757.5,597.5 752.5,598.8 746.2,597.5 741.2,593.8 735.5,592.5 727.5,592.5 725.0,575.0 720.0,557.5 711.2,545.0 710.0,535.0 702.5,525.0 702.5,512.5"/>
<polygon class="d" fill="#fdba74" points="662.0,498.0 668.8,500.0 677.5,502.5 686.2,506.2 690.0,511.2 697.5,508.8 707.0,511.2 708.8,518.8 707.5,525.0 712.5,530.0 718.8,532.5 716.2,540.0 717.5,547.5 725.0,550.0 726.2,560.0 731.2,565.0 733.8,572.5 730.0,580.0 733.8,585.0 735.5,592.5 732.5,598.8 733.8,605.0 725.0,607.5 720.0,611.2 718.8,620.0 712.5,622.5 706.2,618.8 696.2,617.5 695.0,625.0 693.8,631.2 687.5,632.5 685.0,638.8 680.0,643.8 675.0,650.0 650.0,650.0 630.0,642.5 617.5,632.5 600.0,605.0 587.5,577.5 590.0,570.0 595.0,550.0 610.0,535.0 615.0,517.5 635.0,507.5 650.0,497.5"/>
<polygon class="d" fill="#fda802" points="1075.0,1189.5 1080.0,1191.2 1085.0,1188.8 1092.5,1195.0 1100.0,1197.5 1107.5,1202.5 1115.0,1201.2 1122.5,1205.0 1130.0,1210.0 1135.0,1217.5 1138.8,1224.5 1136.2,1232.5 1137.5,1240.0 1133.8,1247.5 1137.5,1255.0 1133.8,1265.0 1130.0,1275.0 1128.8,1282.5 1131.2,1290.0 1128.8,1296.2 1133.8,1303.0 1131.2,1313.8 1123.8,1322.5 1118.8,1327.5 1112.5,1331.2 1106.2,1327.5 1095.0,1328.8 1082.5,1327.5 1070.0,1326.2 1055.0,1325.0 1045.0,1325.0 1036.2,1321.2 1025.0,1315.0 1017.5,1311.2 1010.0,1306.2 1005.0,1300.0 1002.5,1295.0 995.0,1292.5 990.0,1286.2 982.5,1282.5 975.0,1276.2 967.5,1276.2 960.0,1277.5 952.5,1283.8 945.0,1282.5 937.5,1283.8 927.5,1275.0 920.0,1270.0 910.0,1267.5 902.5,1265.0 898.2,1263.0 895.0,1255.0 900.0,1240.0 907.5,1237.5 925.0,1237.5 945.0,1235.0 960.0,1222.5 982.5,1210.0 1000.0,1200.0 1025.0,1205.0 1050.0,1195.0 1072.5,1185.0"/>
<polygon class="d" fill="#fdba74" points="972.5,1088.0 977.5,1091.2 982.5,1096.2 990.0,1095.0 995.0,1091.2 998.8,1096.2 1006.2,1097.5 1011.2,1096.2 1017.5,1101.2 1022.5,1107.5 1026.2,1113.8 1032.5,1112.5 1036.2,1105.0 1041.2,1106.2 1046.2,1110.0 1052.5,1115.0 1060.0,1117.5 1065.0,1122.5 1070.0,1126.2 1078.8,1126.2 1076.2,1135.0 1080.0,1142.5 1083.8,1150.0 1077.5,1155.0 1073.8,1160.0 1076.2,1167.5 1082.5,1172.5 1083.8,1180.0 1078.8,1185.0 1075.0,1189.5 1070.0,1192.5 1062.5,1196.2 1053.8,1198.8 1051.2,1206.2 1045.0,1210.0 1037.5,1211.2 1030.0,1210.0 1022.5,1213.8 1012.5,1212.5 1007.5,1208.8 1003.8,1205.0 998.8,1207.5 995.0,1211.2 986.2,1212.5 983.8,1218.8 977.5,1221.2 970.0,1223.8 962.5,1228.8 957.5,1235.0 948.8,1238.8 945.0,1245.0 938.8,1240.0 930.0,1242.5 923.8,1247.5 917.5,1246.2 912.5,1243.8 907.5,1244.5 900.0,1247.5 887.5,1240.0 875.0,1227.5 890.0,1207.5 895.0,1195.0 910.0,1190.0 917.5,1182.5 920.0,1162.5 912.5,1130.0 925.0,1110.0 942.5,1105.0 945.0,1090.0 970.0,1082.5"/>
<polygon class="d" fill="#e54c04" points="865.8,1034.5 871.2,1031.2 878.8,1035.0 886.2,1037.5 896.2,1036.2 902.5,1038.8 911.2,1040.0 913.8,1032.5 920.0,1025.0 925.0,1023.8 930.0,1026.2 937.5,1023.8 940.0,1016.2 943.8,1015.0 950.0,1018.8 953.8,1025.0 960.0,1031.2 965.0,1037.5 970.0,1043.8 975.0,1052.5 973.8,1062.5 972.5,1070.0 968.8,1075.0 971.2,1082.5 972.5,1088.0 965.0,1090.0 957.5,1091.2 950.0,1093.8 948.8,1101.2 945.0,1107.5 945.0,1113.8 937.5,1115.0 930.0,1113.8 923.8,1117.5 921.2,1125.0 916.2,1128.8 918.8,1136.2 921.2,1145.0 922.5,1152.5 926.2,1160.0 926.2,1170.0 925.0,1180.0 920.0,1187.5 913.8,1193.0 910.0,1197.5 900.0,1187.5 875.0,1186.2 862.5,1182.5 842.5,1170.0 840.0,1155.0 825.0,1150.0 820.0,1140.0 825.0,1120.0 837.5,1110.0 845.0,1095.0 850.0,1075.0 850.0,1050.0 860.0,1032.5"/>
<polygon class="d" fill="#fda802" points="737.5,1105.5 750.0,1105.0 765.0,1107.5 785.0,1120.0 800.0,1132.5 822.5,1135.0 823.8,1142.0 830.0,1145.0 836.2,1142.5 843.8,1142.5 846.2,1150.0 845.0,1160.0 850.0,1166.2 857.5,1171.2 863.8,1175.0 867.5,1180.0 873.8,1175.0 881.2,1178.8 888.8,1178.8 895.0,1175.0 901.2,1176.2 902.5,1183.8 910.0,1187.5 913.8,1193.0 908.8,1196.2 900.0,1197.5 898.8,1205.0 896.2,1210.0 893.8,1217.5 890.0,1221.2 883.8,1226.2 883.8,1230.0 891.2,1231.2 893.8,1237.5 902.5,1240.0 907.5,1244.5 906.2,1250.0 902.5,1255.0 900.0,1260.0 898.2,1263.0 892.5,1260.0 887.5,1252.5 880.0,1248.8 872.5,1247.5 865.0,1243.8 855.0,1237.5 847.5,1235.0 840.0,1235.0 833.8,1236.2 830.0,1231.2 827.5,1237.5 825.0,1243.8 812.5,1246.2 805.0,1250.0 800.0,1248.8 800.0,1240.0 796.2,1231.2 790.0,1228.8 780.0,1228.8 773.8,1226.2 771.2,1222.5 762.5,1221.2 757.5,1223.8 755.0,1232.5 752.5,1240.0 752.5,1252.5 753.8,1265.0 751.2,1275.0 752.5,1287.5 748.8,1297.5 747.5,1307.5 750.0,1313.8 748.8,1318.8 743.8,1320.0 733.8,1318.0 725.0,1312.5 715.0,1295.0 695.0,1272.5 680.0,1245.0 665.0,1220.0 657.5,1195.0 665.0,1175.0 675.0,1171.0 682.5,1165.0 695.0,1162.5 690.0,1140.0 712.5,1130.0 717.5,1112.5 735.0,1102.5"/>
<polygon class="d" fill="#fee3a5" points="476.2,1323.5 475.0,1318.5 480.0,1298.5 480.0,1266.0 500.0,1258.5 535.0,1256.0 540.0,1241.0 547.5,1226.0 565.0,1233.5 590.0,1256.0 612.5,1276.0 625.0,1298.5 650.0,1298.5 675.0,1326.0 686.2,1346.0 684.5,1354.0 682.5,1363.5 683.8,1376.0 683.8,1386.0 678.8,1391.0 670.0,1391.0 667.5,1383.5 660.0,1382.2 655.0,1374.8 650.0,1377.2 641.2,1382.2 635.0,1378.5 626.2,1376.0 618.8,1367.2 613.8,1369.8 612.5,1379.8 610.0,1388.5 600.0,1391.0 596.2,1396.0 588.8,1397.2 582.5,1402.2 575.0,1397.2 565.0,1393.5 555.0,1388.5 545.0,1387.2 535.0,1386.0 525.0,1384.8 515.0,1386.0 510.0,1379.8 505.0,1373.5 501.2,1368.5 505.0,1363.5 510.0,1358.5 510.0,1353.5 502.5,1348.5 497.5,1341.0 490.0,1337.2 482.5,1333.5 477.5,1327.2 476.2,1323.5"/>
<polygon class="d" fill="#e54c04" points="606.2,1112.5 610.0,1108.5 625.0,1126.0 650.0,1136.0 662.5,1156.0 677.5,1166.0 675.0,1171.0 673.8,1179.8 667.5,1183.5 666.2,1191.0 662.5,1197.2 668.8,1201.0 675.0,1207.2 673.8,1213.5 670.0,1217.2 675.0,1226.0 680.0,1231.0 685.0,1237.2 687.5,1246.0 695.0,1249.8 698.8,1248.5 693.8,1258.5 700.0,1263.5 703.8,1273.5 707.5,1281.0 715.0,1286.0 722.5,1288.5 725.0,1296.0 728.8,1303.5 731.2,1311.0 733.8,1318.0 725.0,1316.0 710.0,1316.0 706.2,1321.0 705.0,1331.0 698.8,1338.5 690.0,1346.0 684.5,1354.0 680.0,1346.0 676.2,1337.2 677.5,1332.2 672.5,1329.8 667.5,1324.8 660.0,1318.5 653.8,1312.2 648.8,1303.5 640.0,1304.8 630.0,1307.2 623.8,1303.5 622.5,1296.0 618.8,1288.5 612.5,1283.5 607.5,1277.2 598.8,1274.8 600.0,1268.5 590.0,1262.2 581.2,1256.0 576.2,1251.0 570.0,1246.0 563.8,1239.8 557.5,1236.0 553.0,1229.0 550.0,1226.0 560.0,1216.0 557.5,1206.0 555.0,1191.0 555.0,1178.5 560.0,1166.0 565.0,1161.0 570.0,1146.0 572.5,1128.5 582.5,1123.5 582.5,1111.0 600.0,1103.5"/>
<polygon class="d" fill="#fdba74" points="420.0,1161.2 425.0,1156.0 450.0,1161.0 462.5,1166.0 490.0,1161.0 512.5,1176.0 537.5,1181.0 562.5,1178.5 562.0,1187.5 565.0,1193.5 563.8,1202.2 568.8,1208.5 570.0,1213.5 565.0,1221.0 557.5,1226.0 553.0,1229.0 550.0,1233.5 545.0,1239.8 546.2,1247.2 541.2,1254.8 543.8,1263.5 542.5,1269.8 535.0,1263.5 525.0,1264.8 515.0,1264.8 502.5,1267.2 492.5,1267.2 485.0,1268.5 486.2,1278.5 485.0,1286.0 488.8,1293.5 491.2,1302.2 487.5,1311.0 486.2,1318.5 480.0,1321.0 476.2,1323.5 467.5,1317.2 457.5,1314.8 448.8,1312.2 446.2,1302.2 440.0,1291.0 432.5,1276.0 427.5,1272.2 415.0,1271.0 408.8,1261.0 403.8,1251.0 398.8,1244.8 391.2,1239.8 387.5,1236.0 378.0,1233.8 372.5,1231.0 375.0,1211.0 385.0,1196.0 387.5,1171.0 407.5,1158.5"/>
<polygon class="d" fill="#fee3a5" points="820.0,980.0 825.0,986.2 835.0,986.2 842.5,983.8 847.5,981.2 851.2,986.2 857.5,990.0 863.8,993.8 867.5,998.8 862.5,1007.5 860.0,1017.5 858.8,1025.0 862.5,1030.0 865.8,1034.5 860.0,1040.0 853.8,1045.0 852.5,1052.5 856.2,1060.0 855.0,1067.5 857.5,1075.0 862.5,1080.0 855.0,1085.0 852.5,1093.8 847.5,1100.0 843.8,1107.5 840.0,1117.5 832.5,1120.0 828.8,1125.0 826.2,1135.0 823.8,1142.0 812.5,1140.0 805.0,1137.5 795.0,1140.0 790.0,1133.8 785.0,1130.0 780.0,1122.5 772.5,1120.0 763.8,1112.5 755.0,1117.5 748.8,1112.5 738.8,1105.5 727.5,1100.0 725.0,1075.0 730.0,1050.0 730.0,1025.0 735.0,1010.0 737.5,1000.0 750.0,990.0 775.0,982.5 797.5,985.0 810.0,977.5"/>
<polygon class="d" fill="#fee3a5" points="608.0,917.0 600.0,915.0 605.0,895.0 615.0,882.5 632.5,875.0 650.0,875.0 662.5,877.5 670.0,865.0 690.0,867.5 707.5,870.0 708.0,876.2 713.8,878.8 722.0,882.0 727.5,890.0 735.0,896.2 741.2,900.0 743.8,910.0 750.0,916.2 757.5,921.2 760.0,927.5 770.0,932.5 775.0,938.8 785.0,945.0 792.5,948.8 802.0,953.0 802.5,960.0 810.0,963.8 815.0,967.5 820.0,973.8 820.0,980.0 810.0,985.0 800.0,987.5 797.5,994.5 787.5,987.5 775.0,988.8 762.5,991.2 752.5,992.5 750.0,998.8 741.2,1002.5 740.0,1012.5 738.8,1013.0 725.0,1010.0 697.5,995.0 675.0,1035.0 650.0,1032.5 621.2,1017.5 612.5,1010.0 612.5,997.5 622.5,987.5 625.0,970.0 627.5,955.0 615.0,950.0 600.0,935.0 602.5,920.0"/>
<polygon class="d" fill="#fda802" points="621.2,1013.8 625.0,1015.0 635.0,1017.5 642.5,1018.8 650.0,1016.2 651.2,1022.5 660.0,1025.0 666.2,1028.8 668.8,1022.5 675.0,1017.5 682.5,1012.5 686.2,1007.5 687.5,997.5 690.0,992.5 696.2,986.2 700.0,988.8 707.5,992.5 715.0,998.8 722.5,997.5 727.5,1005.0 732.5,1011.2 738.8,1013.0 740.0,1020.0 733.8,1023.8 738.8,1035.0 736.2,1050.0 731.2,1065.0 730.0,1077.5 736.2,1085.0 737.5,1092.5 733.8,1097.5 737.5,1105.5 732.5,1107.5 723.8,1108.8 725.0,1115.0 728.8,1120.0 722.5,1125.0 721.2,1133.8 712.5,1136.2 703.8,1140.0 693.8,1137.5 692.5,1142.5 696.2,1150.0 698.8,1155.0 706.2,1157.5 703.8,1165.0 698.8,1172.5 703.8,1177.5 710.0,1183.8 703.8,1183.8 693.8,1178.8 690.0,1181.2 686.2,1175.0 681.2,1168.8 675.0,1170.5 668.8,1166.2 662.5,1160.0 657.5,1157.5 655.0,1151.2 650.0,1147.5 648.8,1140.0 640.0,1137.5 632.5,1135.0 625.0,1133.8 622.5,1125.0 617.5,1120.0 611.2,1120.0 607.5,1115.0 606.2,1112.5 600.0,1110.0 597.5,1095.0 605.0,1082.5 610.0,1072.5 612.5,1050.0 612.5,1025.0 615.0,1010.0"/>
<polygon class="d" fill="#fdba74" points="487.5,1026.2 487.5,1017.5 500.0,1007.5 517.5,1002.5 540.0,1010.0 562.5,997.5 587.5,1005.0 615.0,1005.0 617.5,1015.5 620.0,1020.0 617.5,1027.5 616.2,1036.2 621.2,1042.5 618.8,1052.5 620.0,1060.0 615.0,1066.2 612.5,1072.5 616.2,1078.8 615.0,1085.0 608.8,1086.2 606.2,1093.8 602.5,1100.0 603.8,1107.5 606.2,1112.5 602.5,1110.0 597.5,1110.0 591.2,1112.5 586.2,1117.5 587.5,1123.8 591.2,1127.5 592.5,1133.8 586.2,1135.0 581.2,1131.2 576.2,1133.8 576.2,1142.5 577.5,1150.0 572.5,1155.0 570.0,1161.2 568.0,1164.5 555.0,1167.5 525.0,1152.5 510.0,1130.0 500.0,1110.0 490.0,1095.0 492.5,1075.0 490.0,1052.5 495.0,1042.5 490.0,1032.5"/>
<polygon class="d" fill="#fdba74" points="442.0,1023.8 462.5,1015.0 485.0,1017.5 487.5,1026.2 491.2,1030.0 496.2,1036.2 500.0,1040.0 503.8,1043.8 500.0,1048.8 493.8,1051.2 496.2,1060.0 500.0,1065.0 498.8,1072.5 503.8,1080.0 498.8,1087.5 496.2,1097.5 501.2,1102.5 506.2,1108.8 510.0,1117.5 512.5,1123.8 518.8,1132.5 522.5,1140.0 527.5,1146.2 536.2,1148.8 541.2,1155.0 547.5,1155.0 552.5,1160.0 560.0,1162.5 568.0,1164.5 566.2,1170.0 560.0,1177.5 561.2,1187.5 552.5,1190.0 540.0,1191.2 525.0,1191.2 517.5,1187.5 510.0,1185.0 507.5,1178.8 502.5,1173.8 496.2,1175.0 492.5,1170.0 488.8,1175.0 482.5,1178.8 472.5,1181.2 465.0,1182.5 462.5,1175.0 457.5,1172.5 447.5,1173.8 435.0,1172.5 431.2,1167.5 423.8,1163.8 420.0,1161.2 415.0,1160.0 417.5,1137.5 420.0,1115.0 427.5,1095.0 437.5,1080.0 435.0,1067.5 432.5,1040.0 435.0,1025.0"/>
<polygon class="d" fill="#fda802" points="455.5,927.5 457.5,920.0 470.0,907.5 495.0,897.5 515.0,910.0 530.0,895.0 547.5,887.5 562.5,890.0 590.0,895.0 600.0,910.0 608.0,912.5 608.0,917.0 606.2,925.0 605.0,932.5 610.0,937.5 615.0,943.8 622.5,948.8 631.2,946.2 635.0,955.0 636.2,962.5 630.0,968.8 633.8,977.5 628.8,985.0 630.0,992.5 622.5,996.2 617.5,1000.0 617.5,1007.5 621.2,1013.8 615.0,1012.5 607.5,1010.0 602.5,1013.8 595.0,1017.5 587.5,1017.5 583.8,1011.2 577.5,1008.8 572.5,1005.0 565.0,1005.0 558.8,1007.5 555.0,1015.0 550.0,1016.2 540.0,1016.2 530.0,1017.5 520.0,1016.2 517.5,1010.0 515.0,1007.5 507.5,1008.8 502.5,1013.8 500.0,1020.0 492.5,1022.5 486.2,1025.0 480.0,1023.8 472.5,1022.5 465.0,1020.0 461.2,1022.5 453.8,1020.0 447.5,1022.5 442.0,1023.8 435.0,1022.5 430.0,1010.0 430.0,985.0 420.0,972.5 417.5,967.5 415.0,950.0 430.0,935.0 450.0,925.0"/>
<polygon class="d" fill="#fee3a5" points="501.2,818.8 512.5,810.0 535.0,810.0 550.0,817.5 565.0,832.5 575.0,850.0 570.0,867.5 562.5,882.5 553.8,891.2 548.8,892.5 543.8,890.0 538.8,893.8 532.5,900.0 527.5,907.5 520.0,915.0 515.0,918.8 510.0,912.5 505.0,910.0 500.0,903.8 496.2,902.5 491.2,907.5 482.5,907.5 475.0,910.0 471.2,915.0 467.5,921.2 460.0,925.0 455.5,927.5 442.5,925.0 445.0,900.0 450.0,875.0 447.5,855.0 450.0,845.0 475.0,842.5 482.5,830.0 497.5,817.5"/>
<polygon class="d" fill="#ffffd4" points="599.5,748.2 607.5,730.0 637.5,732.5 662.5,747.5 675.0,751.2 683.8,755.0 687.5,761.2 695.0,757.5 698.8,755.0 702.5,765.0 706.2,772.5 711.2,780.0 707.5,785.0 703.8,790.0 695.0,795.0 691.2,800.0 693.8,810.0 696.2,822.5 695.0,830.0 698.8,840.0 700.0,850.0 703.8,857.5 705.0,867.5 708.0,876.2 700.0,878.8 693.8,882.5 690.0,875.0 682.5,876.2 677.5,870.0 671.2,872.5 672.5,880.0 667.5,886.2 662.5,886.2 655.0,888.8 651.2,882.5 642.0,881.2 632.5,867.5 640.0,847.5 640.0,835.0 625.0,812.5 612.5,780.0 592.5,770.0 590.0,760.0 592.5,748.8"/>
<polygon class="d" fill="#ffffd4" points="575.5,748.8 587.5,740.0 600.0,742.5 599.5,748.2 597.5,755.0 600.0,761.2 595.0,763.8 593.8,767.5 602.5,767.5 607.5,775.0 625.0,800.0 648.8,831.2 650.0,836.2 646.2,842.5 647.5,850.0 641.2,853.8 639.5,862.5 636.2,867.5 638.8,876.2 642.0,881.2 632.5,882.5 628.8,890.0 620.0,887.5 613.8,891.2 617.5,897.5 613.8,902.5 610.0,910.0 608.0,917.0 602.5,917.5 597.5,916.2 596.2,910.0 592.5,903.8 586.2,900.0 578.8,900.0 572.5,896.2 565.0,897.5 555.0,897.5 548.8,892.5 552.5,886.2 558.8,881.2 556.2,873.8 558.8,865.0 565.0,861.2 568.8,855.0 566.2,848.8 567.5,842.5 562.5,836.2 557.5,830.0 552.5,831.2 547.5,825.0 541.2,820.0 536.2,813.0 532.5,810.0 545.0,795.0 552.5,782.5 557.5,767.5 567.5,752.5"/>
<polygon class="d" fill="#e54c04" points="625.0,632.0 630.0,636.2 633.8,633.8 637.5,640.0 643.8,636.2 648.8,633.8 652.5,643.8 660.0,646.2 670.0,643.8 680.0,643.8 678.8,650.0 681.2,660.0 677.5,666.2 682.5,672.5 686.2,680.0 682.5,685.0 688.8,691.2 690.0,696.2 682.5,698.8 675.0,703.8 668.8,710.0 670.0,720.0 667.5,730.0 670.0,736.2 675.0,741.2 675.0,751.2 665.0,756.2 660.0,751.2 650.0,747.5 643.8,745.0 637.5,737.5 625.0,738.8 615.0,736.2 607.5,733.8 601.2,737.5 599.5,748.2 593.8,745.0 586.2,745.0 580.0,748.8 575.5,748.8 567.5,740.0 570.0,725.0 567.5,702.5 575.0,692.5 592.5,690.0 592.5,667.5 605.0,657.5 617.5,650.0 620.0,635.0"/>
<polygon class="d" fill="#fda802" points="571.2,698.8 575.0,705.0 580.0,712.5 577.5,722.5 572.5,732.5 570.0,740.5 575.5,748.8 571.2,760.0 565.0,767.5 560.0,777.5 562.5,782.5 556.2,788.8 555.0,797.5 547.5,800.0 542.5,807.5 536.2,813.0 530.0,813.8 522.5,811.2 513.8,813.8 507.5,817.5 501.2,818.8 482.5,810.0 482.5,775.0 475.0,750.0 467.5,730.0 487.5,717.5 497.5,697.5 513.8,692.5 540.0,695.0 571.2,695.0"/>
<polygon class="d" fill="#fee3a5" points="472.0,733.8 480.0,737.5 482.5,746.2 488.8,752.5 493.8,761.2 488.8,770.0 492.5,777.5 500.0,785.0 491.2,792.5 488.8,800.0 487.5,810.0 495.0,812.5 501.2,818.8 501.2,825.0 496.2,827.5 488.8,826.2 486.2,835.0 480.0,842.5 480.0,847.5 472.5,848.8 463.8,847.5 455.0,846.2 452.5,852.5 456.2,860.0 450.0,865.0 425.0,855.0 415.0,845.0 400.0,837.5 375.0,825.0 350.0,820.0 347.5,805.0 350.0,790.0 367.5,775.0 375.0,757.5 400.0,747.5 425.0,735.0 450.0,725.0"/>
<polygon class="d" fill="#fdba74" points="513.8,696.8 502.5,698.8 501.2,710.0 493.8,713.8 492.5,722.5 480.0,725.0 471.2,730.0 472.0,733.8 460.0,730.0 453.8,733.8 447.5,740.0 437.5,743.0 427.5,741.2 420.0,740.0 418.0,746.2 410.0,750.0 402.5,753.8 395.0,756.2 388.8,761.2 380.0,763.8 374.2,766.2 373.8,775.0 371.2,783.8 362.5,788.8 355.0,793.0 352.5,798.8 340.0,805.0 325.0,807.5 312.5,800.0 307.5,750.0 325.0,725.0 350.0,705.0 357.5,682.5 385.0,672.5 395.0,660.0 412.5,657.5 445.0,655.0 450.0,642.5 462.5,637.5 475.0,635.0 485.0,650.0 500.0,665.0 505.0,680.0 515.0,690.0"/>
<polygon class="d" fill="#fda802" points="593.0,576.2 596.2,582.5 600.0,592.5 606.2,602.5 611.2,611.2 616.2,620.0 620.0,626.2 625.0,632.0 626.2,636.2 623.8,641.2 622.5,650.0 623.8,655.0 612.5,657.5 610.0,665.0 599.2,666.2 597.5,675.0 600.0,685.0 597.5,693.8 580.0,696.2 571.2,698.8 562.5,700.0 550.0,701.2 540.0,700.0 532.5,701.2 525.0,698.8 513.8,696.8 512.5,690.0 500.0,682.5 495.0,680.0 497.5,670.0 492.5,665.0 480.0,660.0 476.2,650.0 475.0,638.8 475.0,625.0 480.0,610.0 500.0,600.0 525.0,595.0 550.0,582.5 562.5,571.2 575.0,570.0 592.5,572.5"/>
<polygon class="d" fill="#fee3a5" points="520.0,515.5 526.2,510.0 537.5,505.0 547.5,500.0 560.0,496.2 565.0,492.5 567.5,485.0 575.0,482.5 585.0,483.8 595.0,480.0 603.8,480.0 607.5,470.0 603.8,465.0 592.5,461.2 585.0,458.8 586.2,451.2 580.0,448.8 573.8,445.0 573.8,438.8 578.8,433.8 576.2,425.0 582.5,418.8 588.8,418.8 592.5,423.8 597.5,425.0 606.2,423.8 612.5,428.8 620.0,430.0 625.0,427.5 631.2,431.2 632.5,423.8 635.0,430.0 642.5,436.2 648.8,437.5 657.5,446.2 656.2,458.8 650.0,470.0 650.0,473.8 660.0,471.2 668.8,467.5 670.0,475.0 666.2,486.2 662.0,498.0 655.0,502.5 648.8,505.0 646.2,516.2 640.0,518.8 631.2,513.8 622.5,516.2 620.0,522.5 621.2,527.5 616.2,531.2 612.5,542.5 613.8,546.2 603.8,550.0 600.0,553.8 600.0,562.5 593.8,570.0 593.0,576.2 592.5,578.8 582.5,577.5 575.0,575.0 565.0,573.0 550.0,565.0 522.5,540.0 515.0,520.0"/>
<polygon class="d" fill="#e54c04" points="481.2,542.5 479.5,535.0 481.2,522.5 490.0,520.0 497.5,513.8 507.5,512.5 512.5,515.0 520.0,515.5 518.8,523.8 523.8,527.5 526.2,536.2 532.5,542.5 540.0,550.0 547.5,552.5 552.5,560.0 558.8,566.2 564.5,573.8 565.0,580.0 562.5,586.2 552.5,588.8 548.8,597.5 540.0,596.2 536.2,602.5 525.0,600.0 517.5,602.5 507.5,603.8 503.8,605.0 497.5,605.0 485.0,597.5 480.0,575.0 478.8,560.0 482.5,547.5"/>
<polygon class="d" fill="#fda802" points="407.5,553.0 411.2,550.0 420.0,545.0 427.5,545.0 435.0,547.5 438.8,543.8 450.0,543.0 460.0,545.0 472.5,546.2 473.8,541.2 481.2,542.5 486.2,547.5 486.2,555.0 482.5,560.0 485.0,570.0 483.8,575.0 488.8,585.0 487.5,591.2 493.8,597.5 500.0,600.0 503.8,605.0 497.5,607.5 490.0,610.0 482.5,613.8 481.2,620.0 478.8,630.0 475.0,638.8 470.0,640.0 465.0,643.8 460.0,646.2 455.0,645.0 450.0,646.2 442.5,635.0 425.0,610.0 410.0,580.0 407.5,562.5"/>
<polygon class="d" fill="#e54c04" points="347.5,590.0 348.8,585.0 350.0,575.0 353.8,576.2 358.8,586.2 371.2,592.5 380.0,582.5 386.2,577.5 385.0,572.5 391.2,567.5 390.0,555.0 395.0,551.2 407.5,553.0 411.2,562.5 413.8,567.5 411.2,572.5 417.5,581.2 422.5,590.0 427.5,596.2 431.2,602.5 428.8,610.0 435.0,615.0 442.5,620.0 445.0,630.0 447.5,637.5 450.0,646.2 448.8,652.5 452.5,660.0 447.5,663.8 438.8,665.0 431.2,668.8 420.0,663.8 410.0,665.0 405.0,668.8 397.5,665.0 385.0,650.0 375.0,630.0 357.5,610.0 347.5,597.5"/>
<polygon class="d" fill="#fdba74" points="240.0,665.5 247.5,663.8 252.5,657.5 258.8,650.0 260.0,640.0 262.5,628.8 267.5,628.8 275.0,630.0 285.0,626.2 292.5,628.8 303.8,628.8 306.2,621.2 310.0,615.0 312.5,605.0 318.8,597.5 326.2,596.2 328.8,601.2 336.2,600.0 336.2,592.5 342.5,588.8 347.5,590.0 350.0,596.2 360.0,601.2 366.2,603.8 363.8,610.0 368.8,611.2 375.0,617.5 380.0,623.8 385.0,628.8 386.2,636.2 392.5,641.2 395.0,650.0 397.5,660.0 397.5,665.0 392.5,668.8 390.0,677.5 391.2,681.2 382.5,680.0 376.2,685.0 362.5,687.5 362.5,693.8 366.2,700.0 361.2,703.8 360.0,712.5 356.2,713.8 355.0,720.0 346.2,722.5 345.0,727.5 337.5,723.8 332.5,727.5 325.0,733.8 320.0,737.5 317.0,746.2 300.0,725.0 300.0,700.0 275.0,687.5 245.0,675.0"/>
<polygon class="d" fill="#ffffd4" points="423.8,847.5 435.0,847.5 440.0,855.0 456.2,860.0 459.5,870.0 457.5,877.5 460.0,885.0 453.8,888.8 452.5,900.0 450.0,910.0 452.5,918.8 447.5,925.0 455.0,927.5 445.0,935.0 435.0,937.5 425.0,943.8 420.0,951.2 422.5,956.2 430.0,958.8 422.5,962.5 423.8,971.2 400.0,975.0 380.0,950.0 370.0,935.0 370.0,900.0 375.0,870.0 400.0,847.5"/>
<polygon class="d" fill="#ffffd4" points="241.2,851.2 250.0,825.0 275.0,810.0 303.8,822.5 320.0,800.0 325.0,802.5 327.5,793.0 332.5,790.0 335.0,796.2 340.0,791.2 346.2,797.5 352.5,798.8 355.0,806.2 351.2,815.0 360.0,817.5 372.5,816.2 380.0,822.5 390.0,827.5 400.0,831.2 410.0,831.2 417.5,836.2 423.8,847.5 415.0,850.0 410.0,856.2 400.0,853.8 397.5,860.0 386.2,863.8 382.5,872.5 380.0,882.5 382.5,892.5 377.5,900.0 381.2,903.8 375.0,915.0 380.0,925.0 373.8,935.0 350.0,950.0 312.5,965.0 275.0,962.5 260.0,960.0 250.0,925.0 245.0,875.0"/>
<polygon class="d" fill="#ffffd4" points="260.0,960.0 268.8,958.8 275.0,953.8 282.5,950.0 291.2,948.8 295.0,953.8 300.0,958.8 312.5,958.8 318.8,951.2 325.0,947.5 350.0,937.5 367.5,933.8 373.8,935.0 380.0,938.8 386.2,943.8 385.0,950.0 395.0,953.8 397.5,960.0 395.0,967.5 402.5,970.0 410.0,967.5 412.5,972.5 423.8,971.2 430.0,977.5 436.2,982.5 436.2,997.5 433.8,1007.5 440.0,1015.0 442.5,1022.5 440.0,1032.5 437.5,1040.0 441.2,1050.0 442.5,1057.5 438.8,1066.2 400.0,1065.0 362.5,1055.0 350.0,1040.0 336.2,1042.5 325.0,1020.0 300.0,1022.5 290.0,1025.0 275.0,1017.5 272.5,995.0 262.5,982.5 247.5,977.5 250.0,967.5"/>
<polygon class="d" fill="#fda802" points="290.0,1021.8 300.0,1016.2 310.0,1013.8 318.8,1012.5 327.5,1011.2 333.8,1015.0 332.5,1022.5 333.8,1032.5 340.0,1036.2 345.0,1027.5 352.5,1026.2 360.0,1030.0 366.2,1037.5 360.0,1043.8 365.0,1048.8 375.0,1052.5 386.2,1055.0 395.0,1051.2 405.0,1057.5 420.0,1060.0 430.0,1062.5 438.8,1066.2 441.2,1072.5 445.0,1080.0 443.8,1087.5 435.0,1097.5 430.0,1107.5 430.0,1115.0 423.8,1117.5 425.0,1125.0 420.0,1132.5 422.5,1142.5 425.0,1150.0 420.0,1161.2 410.0,1165.0 400.0,1170.0 393.8,1167.5 392.5,1175.0 395.0,1187.5 396.2,1197.5 390.0,1205.0 383.8,1210.0 381.2,1222.5 377.5,1233.8 370.0,1236.2 368.8,1246.2 360.0,1238.8 350.0,1231.2 343.8,1220.0 340.0,1207.5 335.0,1197.5 322.5,1185.0 312.5,1177.5 302.5,1177.5 292.5,1171.2 285.0,1162.5 285.0,1155.0 270.0,1140.0 265.0,1127.5 255.0,1117.5 250.0,1110.0 248.8,1102.5 270.0,1092.5 272.5,1050.0 282.5,1025.0"/>
<polygon class="d" fill="#ffffd4" points="135.0,980.0 150.0,975.0 175.0,967.5 215.0,965.0 243.8,966.2 247.5,973.0 248.8,983.8 252.5,977.5 262.5,974.5 271.2,976.2 277.5,982.5 281.2,988.8 283.8,996.2 286.2,1000.0 280.0,1005.0 278.8,1010.0 283.8,1016.2 290.0,1021.8 285.0,1030.0 283.8,1041.2 277.5,1043.8 276.2,1050.0 281.2,1055.0 282.5,1062.5 287.5,1066.2 281.2,1072.5 281.2,1081.2 278.8,1090.0 278.8,1096.2 271.2,1097.5 265.0,1100.0 257.5,1097.5 251.2,1098.8 248.8,1102.5 240.0,1093.8 232.5,1088.8 225.0,1085.5 213.8,1085.0 213.8,1088.8 200.0,1085.5 187.5,1083.8 183.8,1075.0 180.0,1065.0 172.5,1056.2 166.2,1052.0 156.2,1048.8 152.5,1035.0 151.2,1030.0 153.0,1012.5 146.2,1008.8 138.8,1002.5 136.2,992.5 135.0,980.0"/>
<polygon class="d" fill="#ffffd4" points="135.0,862.5 150.0,850.0 200.0,845.0 225.0,847.5 241.2,851.2 246.2,858.8 251.2,867.5 257.5,877.5 253.8,890.0 265.0,896.2 271.2,906.2 266.2,915.0 270.0,923.8 275.0,928.8 265.0,935.0 258.8,942.5 265.0,948.8 260.0,956.2 260.0,960.0 255.0,967.5 247.5,972.5 243.8,968.8 235.0,967.5 225.0,967.0 217.5,970.0 213.8,980.0 207.5,975.0 200.0,972.5 190.0,975.0 180.0,972.5 176.2,975.0 162.5,981.2 153.8,987.0 150.0,982.5 135.0,980.0 132.5,975.0 125.0,972.5 123.8,962.5 125.0,955.0 123.8,948.8 112.5,945.0 102.5,935.0 95.0,921.2 97.5,915.0 110.0,907.5 113.8,900.0 115.0,888.8 122.5,880.0 125.0,871.2 135.0,862.5"/>
<polygon class="d" fill="#e54c04" points="167.0,663.8 175.0,661.2 178.8,667.5 186.2,656.2 200.0,650.0 208.8,646.2 215.0,650.0 240.0,665.5 250.0,672.5 268.8,675.0 278.8,681.2 281.2,688.8 287.5,690.0 305.0,688.8 311.2,697.5 310.0,707.5 306.2,715.0 310.0,725.0 312.5,736.2 318.8,750.0 323.8,762.5 320.0,770.0 311.2,775.0 320.0,780.0 325.0,790.0 322.5,797.5 325.0,802.5 317.5,808.8 311.2,815.0 310.0,822.5 306.2,830.0 295.0,822.5 275.0,816.2 265.0,825.0 250.0,835.0 240.0,840.0 241.2,850.0 230.0,857.5 222.5,853.8 212.5,856.2 202.5,850.0 190.0,825.0 200.0,800.0 197.5,755.0 175.0,712.5 160.0,675.0"/>
<polygon class="d" fill="#fee3a5" points="98.0,711.5 101.2,706.2 102.5,697.5 110.0,692.5 115.0,686.2 123.8,682.5 125.0,675.0 131.2,668.0 142.5,666.2 150.0,663.8 160.0,661.2 167.0,663.8 170.5,672.5 165.5,681.2 172.0,687.5 168.0,700.0 176.2,705.5 185.0,716.2 192.5,727.5 193.8,741.2 198.8,750.0 208.8,753.8 212.5,760.0 206.2,763.8 212.5,772.5 218.8,775.0 214.5,782.5 207.5,792.5 203.0,798.8 205.5,810.0 175.0,810.0 140.0,805.0 115.0,775.0 117.5,725.0"/>
<polygon class="d" fill="#fdba74" points="27.5,695.0 40.0,695.0 47.5,695.5 50.0,700.0 51.8,706.2 53.0,713.8 63.8,716.2 67.0,721.2 63.8,725.0 68.8,731.2 73.8,738.8 72.5,748.8 76.2,753.0 81.2,753.0 83.8,745.0 82.5,736.2 85.0,728.8 91.2,720.0 98.0,711.5 107.5,717.5 117.5,725.0 125.0,736.2 126.2,748.8 123.8,755.0 127.5,760.0 122.5,766.2 121.2,776.2 130.0,780.0 135.0,790.0 143.8,795.0 147.5,802.0 155.0,803.0 161.2,796.2 170.0,800.0 178.8,797.0 186.2,800.0 193.8,806.2 200.0,808.8 205.0,811.2 197.5,817.5 192.5,822.5 193.8,832.5 200.0,842.5 202.5,850.0 190.0,852.5 175.0,853.8 172.5,857.5 155.0,858.8 147.5,861.2 135.0,862.5 127.5,852.5 116.2,847.5 120.0,836.2 107.5,827.5 96.2,816.2 82.5,808.8 75.0,800.0 65.0,797.5 58.8,785.0 50.0,775.0 48.8,763.8 52.5,755.0 46.2,743.8 37.5,731.2 23.8,722.5 26.2,716.2 32.5,710.0 31.2,698.8 27.5,695.0"/>
<polygon class="d" fill="#e54c04" points="321.2,932.5 327.5,926.2 330.0,918.8 337.5,915.0 338.8,908.8 345.0,907.0 350.0,908.8 351.2,915.0 356.2,917.5 360.0,923.8 366.2,925.0 367.5,933.8 360.0,941.2 358.8,948.8 360.0,955.0 355.0,956.2 350.0,952.5 335.0,953.8 330.0,953.8 328.8,945.0 322.5,941.2"/>
<polygon class="d" fill="#e54c04" points="562.5,792.5 572.5,790.0 577.5,785.0 583.8,783.8 586.2,788.8 593.8,787.5 597.5,778.8 605.0,777.5 608.8,772.5 620.0,767.5 631.2,767.5 637.5,765.0 641.2,770.0 650.0,775.0 656.2,775.0 657.5,780.0 665.0,786.2 671.2,788.8 672.5,795.0 681.2,798.8 681.2,805.0 671.2,810.0 665.0,813.8 671.2,817.5 672.5,825.0 670.0,831.2 662.5,835.0 655.0,833.8 648.8,831.2 640.0,833.8 630.0,838.8 620.0,842.5 607.5,847.5 602.5,852.5 595.0,853.8 587.5,850.0 590.0,843.8 586.2,837.5 581.2,833.8 583.8,825.0 576.2,822.5 573.8,815.0 568.8,810.0 572.5,805.0 570.0,797.5 562.5,792.5"/>
<polygon class="d" fill="#e54c04" points="1547.8,879.8 1550.8,872.8 1553.8,868.8 1559.8,871.8 1571.7,870.8 1573.7,868.8 1579.7,867.8 1585.7,863.8 1591.6,861.8 1595.6,859.8 1597.1,854.9 1599.6,853.4 1602.6,854.9 1602.6,859.8 1599.6,863.8 1605.6,862.8 1607.6,866.8 1608.6,873.8 1613.5,878.8 1614.5,887.7 1610.6,895.7 1609.6,902.7 1603.6,903.7 1598.6,904.7 1599.6,911.6 1593.6,915.6 1589.6,922.6 1585.7,922.6 1582.7,918.6 1573.7,919.6 1568.7,917.6 1565.7,911.6 1559.8,907.6 1557.8,901.7 1558.8,895.7 1555.8,891.7 1554.8,883.7"/>
<polygon class="d" fill="#e54c04" points="1126.2,1137.2 1130.0,1131.0 1131.2,1122.2 1133.8,1114.8 1140.0,1116.0 1147.5,1121.0 1151.2,1126.0 1156.2,1124.8 1160.0,1119.8 1165.0,1114.8 1170.0,1111.0 1175.0,1112.2 1180.0,1121.0 1183.8,1127.2 1187.5,1133.5 1193.8,1133.5 1198.8,1128.5 1201.2,1129.8 1200.0,1138.5 1198.8,1147.2 1195.0,1152.2 1197.5,1159.8 1197.5,1167.2 1193.8,1172.2 1187.5,1176.0 1181.2,1177.2 1178.8,1171.0 1180.0,1166.0 1175.0,1168.5 1168.8,1167.2 1165.0,1161.0 1160.0,1162.2 1156.2,1157.2 1150.0,1154.8 1143.8,1152.2 1140.0,1147.2 1133.8,1147.2 1130.0,1141.0"/>
<polyline class="k" points="562.5,792.5 572.5,790.0 577.5,785.0 583.8,783.8 586.2,788.8 593.8,787.5 597.5,778.8 605.0,777.5 608.8,772.5 620.0,767.5 631.2,767.5 637.5,765.0 641.2,770.0 650.0,775.0 656.2,775.0 657.5,780.0 665.0,786.2 671.2,788.8 672.5,795.0 681.2,798.8 681.2,805.0 671.2,810.0 665.0,813.8 671.2,817.5 672.5,825.0 670.0,831.2 662.5,835.0 655.0,833.8 648.8,831.2 640.0,833.8 630.0,838.8 620.0,842.5 607.5,847.5 602.5,852.5 595.0,853.8 587.5,850.0 590.0,843.8 586.2,837.5 581.2,833.8 583.8,825.0 576.2,822.5 573.8,815.0 568.8,810.0 572.5,805.0 570.0,797.5 562.5,792.5"/>
<polyline class="k" points="27.5,695.0 40.0,695.0 47.5,695.5 50.0,700.0 51.8,706.2 53.0,713.8 63.8,716.2 67.0,721.2 63.8,725.0 68.8,731.2 73.8,738.8 72.5,748.8 76.2,753.0 81.2,753.0 83.8,745.0 82.5,736.2 85.0,728.8 91.2,720.0 98.0,711.5"/>
<polyline class="k" points="190.0,852.5 175.0,853.8 172.5,857.5 155.0,858.8 147.5,861.2 135.0,862.5 127.5,852.5 116.2,847.5 120.0,836.2 107.5,827.5 96.2,816.2 82.5,808.8 75.0,800.0 65.0,797.5 58.8,785.0 50.0,775.0 48.8,763.8 52.5,755.0 46.2,743.8 37.5,731.2 23.8,722.5 26.2,716.2 32.5,710.0 31.2,698.8 27.5,695.0"/>
<polyline class="k" points="98.0,711.5 101.2,706.2 102.5,697.5 110.0,692.5 115.0,686.2 123.8,682.5 125.0,675.0 131.2,668.0 142.5,666.2 150.0,663.8 160.0,661.2 167.0,663.8"/>
<polyline class="k" points="167.0,663.8 175.0,661.2 178.8,667.5 186.2,656.2 200.0,650.0 208.8,646.2 215.0,650.0 240.0,665.5 250.0,672.5 268.8,675.0 278.8,681.2 281.2,688.8 287.5,690.0 305.0,688.8 311.2,697.5 310.0,707.5 306.2,715.0 310.0,725.0 312.5,736.2 318.8,750.0 323.8,762.5 320.0,770.0 311.2,775.0 320.0,780.0 325.0,790.0 322.5,797.5 325.0,802.5 317.5,808.8 311.2,815.0 310.0,822.5 306.2,830.0 295.0,822.5 275.0,816.2 265.0,825.0 250.0,835.0 240.0,840.0 241.2,850.0 230.0,857.5 222.5,853.8 212.5,856.2 202.5,850.0"/>
<polyline class="k" points="135.0,980.0 132.5,975.0 125.0,972.5 123.8,962.5 125.0,955.0 123.8,948.8 112.5,945.0 102.5,935.0 95.0,921.2 97.5,915.0 110.0,907.5 113.8,900.0 115.0,888.8 122.5,880.0 125.0,871.2 135.0,862.5"/>
<polyline class="k" points="248.8,1102.5 240.0,1093.8 232.5,1088.8 225.0,1085.5 213.8,1085.0 213.8,1088.8 200.0,1085.5 187.5,1083.8 183.8,1075.0 180.0,1065.0 172.5,1056.2 166.2,1052.0 156.2,1048.8 152.5,1035.0 151.2,1030.0 153.0,1012.5 146.2,1008.8 138.8,1002.5 136.2,992.5 135.0,980.0"/>
<polyline class="k" points="438.8,1066.2 441.2,1072.5 445.0,1080.0 443.8,1087.5 435.0,1097.5 430.0,1107.5 430.0,1115.0 423.8,1117.5 425.0,1125.0 420.0,1132.5 422.5,1142.5 425.0,1150.0 420.0,1161.2 410.0,1165.0 400.0,1170.0 393.8,1167.5 392.5,1175.0 395.0,1187.5 396.2,1197.5 390.0,1205.0 383.8,1210.0 381.2,1222.5 377.5,1233.8 370.0,1236.2 368.8,1246.2 360.0,1238.8 350.0,1231.2 343.8,1220.0 340.0,1207.5 335.0,1197.5 322.5,1185.0 312.5,1177.5 302.5,1177.5 292.5,1171.2 285.0,1162.5 285.0,1155.0 270.0,1140.0 265.0,1127.5 255.0,1117.5 250.0,1110.0 248.8,1102.5"/>
<polyline class="k" points="423.8,971.2 430.0,977.5 436.2,982.5 436.2,997.5 433.8,1007.5 440.0,1015.0 442.5,1022.5 440.0,1032.5 437.5,1040.0 441.2,1050.0 442.5,1057.5 438.8,1066.2"/>
<polyline class="k" points="325.0,802.5 327.5,793.0 332.5,790.0 335.0,796.2 340.0,791.2 346.2,797.5 352.5,798.8 355.0,806.2 351.2,815.0 360.0,817.5 372.5,816.2 380.0,822.5 390.0,827.5 400.0,831.2 410.0,831.2 417.5,836.2 423.8,847.5"/>
<polyline class="k" points="423.8,847.5 435.0,847.5 440.0,855.0 456.2,860.0 459.5,870.0 457.5,877.5 460.0,885.0 453.8,888.8 452.5,900.0 450.0,910.0 452.5,918.8 447.5,925.0 455.0,927.5 445.0,935.0 435.0,937.5 425.0,943.8 420.0,951.2 422.5,956.2 430.0,958.8 422.5,962.5 423.8,971.2"/>
<polyline class="k" points="240.0,665.5 247.5,663.8 252.5,657.5 258.8,650.0 260.0,640.0 262.5,628.8 267.5,628.8 275.0,630.0 285.0,626.2 292.5,628.8 303.8,628.8 306.2,621.2 310.0,615.0 312.5,605.0 318.8,597.5 326.2,596.2 328.8,601.2 336.2,600.0 336.2,592.5 342.5,588.8 347.5,590.0"/>
<polyline class="k" points="347.5,590.0 348.8,585.0 350.0,575.0 353.8,576.2 358.8,586.2 371.2,592.5 380.0,582.5 386.2,577.5 385.0,572.5 391.2,567.5 390.0,555.0 395.0,551.2 407.5,553.0"/>
<polyline class="k" points="407.5,553.0 411.2,550.0 420.0,545.0 427.5,545.0 435.0,547.5 438.8,543.8 450.0,543.0 460.0,545.0 472.5,546.2 473.8,541.2 481.2,542.5"/>
<polyline class="k" points="481.2,542.5 479.5,535.0 481.2,522.5 490.0,520.0 497.5,513.8 507.5,512.5 512.5,515.0 520.0,515.5"/>
<polyline class="k" points="520.0,515.5 526.2,510.0 537.5,505.0 547.5,500.0 560.0,496.2 565.0,492.5 567.5,485.0 575.0,482.5 585.0,483.8 595.0,480.0 603.8,480.0 607.5,470.0 603.8,465.0 592.5,461.2 585.0,458.8 586.2,451.2 580.0,448.8 573.8,445.0 573.8,438.8 578.8,433.8 576.2,425.0 582.5,418.8 588.8,418.8 592.5,423.8 597.5,425.0 606.2,423.8 612.5,428.8 620.0,430.0 625.0,427.5 631.2,431.2 632.5,423.8 635.0,430.0 642.5,436.2 648.8,437.5 657.5,446.2 656.2,458.8 650.0,470.0 650.0,473.8 660.0,471.2 668.8,467.5 670.0,475.0 666.2,486.2 662.0,498.0 655.0,502.5 648.8,505.0 646.2,516.2 640.0,518.8 631.2,513.8 622.5,516.2 620.0,522.5 621.2,527.5 616.2,531.2 612.5,542.5 613.8,546.2 603.8,550.0 600.0,553.8 600.0,562.5 593.8,570.0 593.0,576.2"/>
<polyline class="k" points="593.0,576.2 596.2,582.5 600.0,592.5 606.2,602.5 611.2,611.2 616.2,620.0 620.0,626.2 625.0,632.0 626.2,636.2 623.8,641.2 622.5,650.0 623.8,655.0 612.5,657.5 610.0,665.0 599.2,666.2 597.5,675.0 600.0,685.0 597.5,693.8 580.0,696.2 571.2,698.8 562.5,700.0 550.0,701.2 540.0,700.0 532.5,701.2 525.0,698.8 513.8,696.8"/>
<polyline class="k" points="513.8,696.8 502.5,698.8 501.2,710.0 493.8,713.8 492.5,722.5 480.0,725.0 471.2,730.0 472.0,733.8 460.0,730.0 453.8,733.8 447.5,740.0 437.5,743.0 427.5,741.2 420.0,740.0 418.0,746.2 410.0,750.0 402.5,753.8 395.0,756.2 388.8,761.2 380.0,763.8 374.2,766.2 373.8,775.0 371.2,783.8 362.5,788.8 355.0,793.0 352.5,798.8"/>
<polyline class="k" points="625.0,632.0 630.0,636.2 633.8,633.8 637.5,640.0 643.8,636.2 648.8,633.8 652.5,643.8 660.0,646.2 670.0,643.8 680.0,643.8"/>
<polyline class="k" points="621.2,1013.8 615.0,1012.5 607.5,1010.0 602.5,1013.8 595.0,1017.5 587.5,1017.5 583.8,1011.2 577.5,1008.8 572.5,1005.0 565.0,1005.0 558.8,1007.5 555.0,1015.0 550.0,1016.2 540.0,1016.2 530.0,1017.5 520.0,1016.2 517.5,1010.0 515.0,1007.5 507.5,1008.8 502.5,1013.8 500.0,1020.0 492.5,1022.5 486.2,1025.0 480.0,1023.8 472.5,1022.5 465.0,1020.0 461.2,1022.5 453.8,1020.0 447.5,1022.5 442.0,1023.8"/>
<polyline class="k" points="621.2,1013.8 625.0,1015.0 635.0,1017.5 642.5,1018.8 650.0,1016.2 651.2,1022.5 660.0,1025.0 666.2,1028.8 668.8,1022.5 675.0,1017.5 682.5,1012.5 686.2,1007.5 687.5,997.5 690.0,992.5 696.2,986.2 700.0,988.8 707.5,992.5 715.0,998.8 722.5,997.5 727.5,1005.0 732.5,1011.2 738.8,1013.0 740.0,1020.0 733.8,1023.8 738.8,1035.0 736.2,1050.0 731.2,1065.0 730.0,1077.5 736.2,1085.0 737.5,1092.5 733.8,1097.5 737.5,1105.5"/>
<polyline class="k" points="802.0,953.0 802.5,960.0 810.0,963.8 815.0,967.5 820.0,973.8 820.0,980.0 810.0,985.0 800.0,987.5 797.5,994.5 787.5,987.5 775.0,988.8 762.5,991.2 752.5,992.5 750.0,998.8 741.2,1002.5 740.0,1012.5 738.8,1013.0"/>
<polyline class="k" points="823.8,1142.0 812.5,1140.0 805.0,1137.5 795.0,1140.0 790.0,1133.8 785.0,1130.0 780.0,1122.5 772.5,1120.0 763.8,1112.5 755.0,1117.5 748.8,1112.5 738.8,1105.5"/>
<polyline class="k" points="476.2,1323.5 467.5,1317.2 457.5,1314.8 448.8,1312.2 446.2,1302.2 440.0,1291.0 432.5,1276.0 427.5,1272.2 415.0,1271.0 408.8,1261.0 403.8,1251.0 398.8,1244.8 391.2,1239.8 387.5,1236.0 378.0,1233.8"/>
<polyline class="k" points="733.8,1318.0 725.0,1316.0 710.0,1316.0 706.2,1321.0 705.0,1331.0 698.8,1338.5 690.0,1346.0 684.5,1354.0"/>
<polyline class="k" points="684.5,1354.0 682.5,1363.5 683.8,1376.0 683.8,1386.0 678.8,1391.0 670.0,1391.0 667.5,1383.5 660.0,1382.2 655.0,1374.8 650.0,1377.2 641.2,1382.2 635.0,1378.5 626.2,1376.0 618.8,1367.2 613.8,1369.8 612.5,1379.8 610.0,1388.5 600.0,1391.0 596.2,1396.0 588.8,1397.2 582.5,1402.2 575.0,1397.2 565.0,1393.5 555.0,1388.5 545.0,1387.2 535.0,1386.0 525.0,1384.8 515.0,1386.0 510.0,1379.8 505.0,1373.5 501.2,1368.5 505.0,1363.5 510.0,1358.5 510.0,1353.5 502.5,1348.5 497.5,1341.0 490.0,1337.2 482.5,1333.5 477.5,1327.2 476.2,1323.5"/>
<polyline class="k" points="823.8,1142.0 830.0,1145.0 836.2,1142.5 843.8,1142.5 846.2,1150.0 845.0,1160.0 850.0,1166.2 857.5,1171.2 863.8,1175.0 867.5,1180.0 873.8,1175.0 881.2,1178.8 888.8,1178.8 895.0,1175.0 901.2,1176.2 902.5,1183.8 910.0,1187.5 913.8,1193.0 908.8,1196.2 900.0,1197.5 898.8,1205.0 896.2,1210.0 893.8,1217.5 890.0,1221.2 883.8,1226.2 883.8,1230.0 891.2,1231.2 893.8,1237.5 902.5,1240.0 907.5,1244.5 906.2,1250.0 902.5,1255.0 900.0,1260.0 898.2,1263.0 892.5,1260.0 887.5,1252.5 880.0,1248.8 872.5,1247.5 865.0,1243.8 855.0,1237.5 847.5,1235.0 840.0,1235.0 833.8,1236.2 830.0,1231.2 827.5,1237.5 825.0,1243.8 812.5,1246.2 805.0,1250.0 800.0,1248.8 800.0,1240.0 796.2,1231.2 790.0,1228.8 780.0,1228.8 773.8,1226.2 771.2,1222.5 762.5,1221.2 757.5,1223.8 755.0,1232.5 752.5,1240.0 752.5,1252.5 753.8,1265.0 751.2,1275.0 752.5,1287.5 748.8,1297.5 747.5,1307.5 750.0,1313.8 748.8,1318.8 743.8,1320.0 733.8,1318.0"/>
<polyline class="k" points="1078.8,1126.2 1076.2,1135.0 1080.0,1142.5 1083.8,1150.0 1077.5,1155.0 1073.8,1160.0 1076.2,1167.5 1082.5,1172.5 1083.8,1180.0 1078.8,1185.0 1075.0,1189.5 1070.0,1192.5 1062.5,1196.2 1053.8,1198.8 1051.2,1206.2 1045.0,1210.0 1037.5,1211.2 1030.0,1210.0 1022.5,1213.8 1012.5,1212.5 1007.5,1208.8 1003.8,1205.0 998.8,1207.5 995.0,1211.2 986.2,1212.5 983.8,1218.8 977.5,1221.2 970.0,1223.8 962.5,1228.8 957.5,1235.0 948.8,1238.8 945.0,1245.0 938.8,1240.0 930.0,1242.5 923.8,1247.5 917.5,1246.2 912.5,1243.8 907.5,1244.5"/>
<polyline class="k" points="1133.8,1303.0 1131.2,1313.8 1123.8,1322.5 1118.8,1327.5 1112.5,1331.2 1106.2,1327.5 1095.0,1328.8 1082.5,1327.5 1070.0,1326.2 1055.0,1325.0 1045.0,1325.0 1036.2,1321.2 1025.0,1315.0 1017.5,1311.2 1010.0,1306.2 1005.0,1300.0 1002.5,1295.0 995.0,1292.5 990.0,1286.2 982.5,1282.5 975.0,1276.2 967.5,1276.2 960.0,1277.5 952.5,1283.8 945.0,1282.5 937.5,1283.8 927.5,1275.0 920.0,1270.0 910.0,1267.5 902.5,1265.0 898.2,1263.0"/>
<polyline class="k" points="662.0,498.0 668.8,500.0 677.5,502.5 686.2,506.2 690.0,511.2 697.5,508.8 707.0,511.2"/>
<polyline class="k" points="735.5,592.5 732.5,598.8 733.8,605.0 725.0,607.5 720.0,611.2 718.8,620.0 712.5,622.5 706.2,618.8 696.2,617.5 695.0,625.0 693.8,631.2 687.5,632.5 685.0,638.8 680.0,643.8"/>
<polyline class="k" points="707.0,511.2 708.8,500.0 712.5,493.8 722.5,491.2 732.5,490.0 742.5,495.0 756.2,492.5 757.5,483.8 755.0,475.0 758.8,470.0 760.0,457.5 758.8,448.8 752.5,447.5 750.0,443.8 755.0,437.5 761.2,433.8 767.5,435.0 772.5,432.5 782.5,437.5 786.2,443.8 791.2,442.5 792.5,436.2 798.8,433.8 801.2,445.0 806.2,446.2 813.8,442.5 817.5,447.5 825.0,448.8 827.5,458.8 830.0,461.2 825.0,466.2 823.8,475.0 827.5,485.0 833.8,493.8 835.5,495.8"/>
<polyline class="k" points="780.5,611.2 775.0,610.0 770.0,605.0 762.5,600.0 757.5,597.5 752.5,598.8 746.2,597.5 741.2,593.8 735.5,592.5"/>
<polyline class="k" points="835.5,495.8 842.5,498.8 848.8,505.0 850.0,515.0 851.2,525.0 853.8,528.5"/>
<polyline class="k" points="857.5,522.5 862.5,517.5 868.8,517.5 875.0,522.5 885.0,523.8 891.2,529.5 896.2,536.2 898.8,545.0 897.5,555.0 900.0,565.0 902.5,575.0 901.2,582.5 905.0,592.5 900.0,602.5 903.8,610.0 908.8,617.5 914.2,628.0 907.5,628.8 900.0,627.5 892.5,630.0 886.2,627.5 881.2,621.2 876.2,620.0 873.8,626.2 868.8,630.0 867.5,637.5 865.0,642.5 857.5,643.8 853.8,641.2 850.0,636.2 843.8,635.0 836.2,632.5 828.8,630.0 822.5,631.2 817.5,636.2 813.8,638.8 805.0,635.0 797.5,631.2 788.0,629.5 786.2,623.8 783.8,617.5 780.5,611.2"/>
<polyline class="k" points="788.0,629.5 786.2,635.0 790.0,643.8 792.5,650.0 791.2,657.5 797.5,668.8 795.0,673.8 790.0,680.0 785.0,685.0 786.2,691.2 790.0,698.8"/>
<polyline class="k" points="856.2,721.2 850.0,720.0 843.8,717.5 838.8,721.2 832.5,722.5 825.0,720.0 817.5,718.8 811.2,715.0 810.0,708.8 805.0,703.8 800.0,700.0 795.0,698.8 790.0,698.8"/>
<polyline class="k" points="891.2,529.5 900.0,528.8 910.0,530.0 918.8,533.8 925.0,536.2 933.8,542.5 942.5,542.5 950.0,540.0 956.2,536.2 961.2,537.5 963.8,546.2 968.8,553.8 973.8,566.2 982.5,565.0 992.5,562.5 998.8,561.2 1005.0,563.8 1007.5,572.5 1011.2,582.5 1012.5,586.2 1005.0,591.2 1011.2,595.0 1018.8,596.2 1022.5,593.8"/>
<polyline class="k" points="1022.5,593.8 1023.8,586.2 1030.0,577.5 1036.2,573.8 1042.5,575.0 1050.0,580.0 1053.8,585.0 1061.2,582.5 1062.5,575.0 1067.5,570.0 1073.8,568.8 1080.0,571.2 1087.5,570.0 1095.0,572.5 1100.0,577.5 1105.0,585.0 1112.5,592.5 1117.5,598.8 1118.8,602.5 1113.8,607.5 1110.0,612.5 1107.5,620.0 1102.5,626.2 1097.5,628.8 1092.5,633.8 1086.2,636.2 1083.8,642.5 1076.2,643.8 1070.0,648.8 1065.0,650.0 1060.0,657.5 1058.8,662.5 1062.5,667.5 1068.8,671.2 1072.5,677.5 1075.0,682.5 1078.8,687.0"/>
<polyline class="k" points="1008.8,772.5 1000.0,771.2 992.5,768.8 983.8,770.0 980.0,775.0 972.5,775.0 967.5,780.0 961.2,778.8 958.8,772.5 956.2,767.5 950.0,767.5 947.5,772.5 942.5,777.5 935.0,777.5 928.8,781.2 920.0,780.0 912.5,781.2 905.0,780.0 901.2,777.5 895.0,781.2 888.8,783.8 883.8,788.8 877.5,792.5 872.5,795.0 867.5,791.2 863.8,783.8 856.2,779.5 849.5,776.2 850.0,770.0 853.8,762.5 857.5,755.0 855.0,750.0 856.2,742.5 853.0,735.0 852.5,725.0 856.2,721.2"/>
<polyline class="k" points="1078.8,687.0 1085.0,683.8 1092.5,682.5 1098.8,687.5 1102.5,696.2 1107.5,701.2 1113.8,706.2 1120.0,712.5 1125.0,720.0 1132.5,725.0 1138.8,732.5 1145.0,738.8 1148.8,746.2 1151.2,755.0 1152.5,762.5 1155.0,770.0 1156.8,773.8 1150.0,772.5 1142.5,770.0 1136.2,766.2 1131.2,768.8 1130.0,775.0 1122.5,778.8 1115.0,783.8 1107.5,787.5 1100.0,792.5 1096.2,797.5 1096.2,802.5 1091.8,808.0 1093.8,813.8 1085.0,812.5 1075.0,811.2 1071.2,813.8 1062.5,815.0 1057.5,810.0 1050.0,807.5 1045.0,807.0 1041.2,802.5 1035.0,798.8 1028.8,796.2 1025.0,790.0 1018.8,786.2 1013.8,786.2 1012.5,778.8 1008.8,772.5"/>
<polyline class="k" points="892.0,855.5 886.2,847.5 880.0,840.0 875.0,833.8 867.5,827.5 860.0,822.5 855.0,817.0 856.2,811.2 861.2,803.8 861.2,797.5 867.5,791.2"/>
<polyline class="k" points="1033.8,945.5 1025.0,943.8 1015.0,942.5 1012.5,936.2 1010.0,940.0 1005.0,945.0 1000.0,948.8 997.5,953.8 991.2,955.0 985.0,950.0 977.5,948.8 977.5,943.8 976.2,937.5 970.0,935.0 962.5,930.0 955.0,927.5 952.5,921.2 945.0,918.8 937.5,915.0 930.0,910.0 922.5,908.8 915.0,906.2 906.2,907.5 900.0,902.5 892.5,896.2 883.8,891.2 885.0,885.0 885.0,876.2 888.8,870.0 892.5,862.5 890.0,857.5 892.0,855.5"/>
<polyline class="k" points="1156.8,773.8 1162.5,777.5 1170.0,783.8 1180.0,787.5 1187.5,791.2 1193.8,787.5 1197.5,780.0 1205.0,772.5 1212.5,765.0 1217.5,755.0 1222.5,750.0 1227.5,749.5 1225.0,757.5 1222.5,767.5 1217.5,775.0 1215.0,785.0 1217.5,795.0 1216.2,802.5 1213.8,810.0 1215.0,815.0 1207.5,821.2 1202.5,826.2 1193.8,830.0 1197.5,840.0 1200.0,850.0 1202.5,857.5 1203.8,867.5 1205.0,877.5 1200.0,882.5 1200.5,889.2"/>
<polyline class="k" points="883.8,891.2 877.5,893.8 870.0,897.5 865.0,902.5 863.8,910.0 857.5,915.0 850.0,918.8 842.5,922.5 833.8,925.0 825.0,927.5 816.2,930.0 812.5,936.2 811.2,945.0 803.8,950.0 802.0,953.0"/>
<polyline class="k" points="1265.5,742.5 1267.5,733.8 1262.5,727.5 1263.8,721.2 1260.0,713.8 1256.2,708.8 1248.8,703.8 1245.0,696.2 1242.5,688.8 1238.8,681.2 1236.2,673.8 1230.0,670.0 1225.0,667.5 1228.8,661.2 1230.0,655.0 1235.0,652.5 1242.5,656.2 1250.0,660.0 1257.5,660.0 1265.0,663.8 1272.5,667.5 1280.0,668.8 1286.2,667.5 1290.0,672.5 1297.5,675.0 1305.0,673.8 1310.0,677.5 1312.5,683.8 1317.5,688.8 1325.0,695.0 1332.5,698.8 1340.0,700.0 1345.0,696.2 1348.8,697.5 1348.8,706.2 1347.5,713.8 1350.0,720.0 1352.5,716.2 1360.0,713.8 1367.5,716.2 1370.0,723.0 1368.8,730.0 1367.5,741.2 1358.8,740.0 1356.2,737.5 1352.5,745.0 1346.2,750.0 1341.2,753.8 1337.5,760.0 1330.0,765.0 1325.0,771.2 1322.5,782.5 1320.8,786.2"/>
<polyline class="k" points="1227.5,749.5 1232.5,743.8 1240.0,741.2 1248.8,738.8 1255.0,732.5 1258.8,737.5 1265.5,742.5"/>
<polyline class="k" points="1320.8,786.2 1321.2,795.0 1320.0,805.0 1316.2,812.5 1310.0,820.0 1307.5,827.5 1305.0,832.5 1310.0,840.0 1313.8,846.2 1310.0,852.5 1307.5,860.0 1308.8,867.5 1305.0,872.5 1303.8,877.0"/>
<polyline class="k" points="1225.0,937.0 1215.0,936.2 1217.5,930.0 1215.0,922.5 1210.0,915.0 1206.2,907.5 1203.8,900.0 1200.0,891.2 1200.5,889.2"/>
<polyline class="k" points="1370.0,723.0 1376.2,720.0 1380.0,717.5 1390.0,715.0 1397.5,716.2 1405.0,717.5 1410.0,713.8 1415.0,716.2 1422.5,713.8 1428.8,708.8 1433.8,706.2 1435.0,695.0 1441.2,696.2 1446.2,701.2 1450.0,703.8 1448.8,710.0 1445.0,716.2 1447.5,722.5 1453.8,728.8 1453.8,736.2 1452.5,741.2 1443.8,742.5 1437.5,747.5 1430.0,751.2 1422.5,753.8 1415.0,756.2 1413.8,761.2 1418.8,766.2 1423.8,770.0 1427.5,776.2 1435.0,777.5 1442.5,781.2 1447.5,787.5 1452.5,793.8 1456.2,802.5 1457.0,805.5"/>
<polyline class="k" points="1399.2,923.8 1393.8,921.2 1387.5,917.5 1381.2,918.8 1373.8,918.8 1370.0,911.2 1363.8,907.5 1358.8,902.5 1355.0,900.0 1348.8,902.5 1342.5,898.8 1336.2,897.5 1330.0,896.2 1321.2,892.5 1322.5,882.5 1320.0,885.0 1312.5,880.0 1306.2,873.8 1303.8,877.0"/>
<polyline class="k" points="1457.0,805.5 1460.0,812.5 1466.2,816.2 1472.5,820.0 1477.5,826.2 1485.0,830.0 1492.5,828.8 1498.8,827.5 1505.0,821.2 1512.5,817.5 1520.0,813.8 1527.5,815.0 1528.8,808.8 1523.8,806.2 1520.0,802.5 1520.0,797.5 1525.0,793.8 1531.2,795.0 1536.2,798.8 1540.0,805.0 1545.0,811.2 1550.0,817.5 1560.0,820.0 1565.0,817.5 1572.5,821.2 1575.0,827.5 1582.5,830.0 1590.0,833.8 1592.5,840.0 1597.5,843.8 1603.0,837.0"/>
<polyline class="k" points="1445.0,931.2 1442.5,927.5 1435.0,926.2 1427.5,922.5 1422.5,923.8 1415.0,928.8 1407.5,927.5 1399.2,923.8"/>
<polyline class="k" points="1603.0,837.0 1608.8,840.0 1615.0,840.0 1622.5,841.2 1628.8,840.0 1635.0,845.0 1641.2,847.5 1650.0,851.2 1656.2,852.5 1657.5,843.8 1665.0,845.0 1666.2,853.8 1666.2,860.0 1672.5,866.2 1668.8,872.5 1667.5,880.0 1671.2,887.5 1675.0,897.5 1678.8,905.0 1681.2,913.8 1682.0,923.8"/>
<polyline class="k" points="1682.0,923.8 1687.5,925.0 1695.0,927.5 1702.5,928.8 1705.0,935.0 1712.5,936.2 1720.0,935.0 1727.5,937.5 1730.0,945.0 1732.5,955.0 1736.2,965.0 1738.8,975.0 1742.5,982.5 1745.0,987.5 1741.2,995.0 1742.5,998.8 1736.2,1000.0 1730.0,1002.5 1722.5,1006.2 1717.5,1010.0 1710.0,1007.5 1702.5,1006.2 1695.0,1006.2 1685.0,1010.0 1677.5,1006.2 1670.0,1007.5 1663.8,1012.5 1665.0,1020.0 1660.0,1026.2 1657.5,1032.5 1651.2,1037.5 1648.8,1043.8 1643.8,1048.8 1640.0,1052.5 1632.0,1052.0 1625.0,1048.8 1621.2,1042.5 1620.0,1037.5 1615.0,1033.8 1610.0,1030.0 1605.0,1025.0 1602.5,1020.0 1600.0,1016.2"/>
<polyline class="k" points="1600.0,1016.2 1592.5,1017.5 1587.5,1020.0 1580.0,1015.0 1572.5,1013.8 1567.5,1008.8 1560.0,1007.5 1552.5,1008.8 1545.0,1007.5 1537.5,1010.0 1530.0,1012.5 1523.8,1013.8 1522.5,1007.5 1517.5,1002.5 1511.2,1000.0 1503.0,1001.2 1501.2,995.0 1497.5,991.2 1492.5,993.8 1490.0,997.5 1486.2,993.8 1485.0,990.0 1490.0,986.2 1486.2,978.8 1482.5,973.8 1476.2,970.0 1472.5,965.0 1467.5,961.2 1462.5,956.2 1458.8,950.0 1455.0,948.8 1453.8,952.5 1448.8,951.2 1443.8,947.5 1441.2,940.0 1442.5,935.0 1445.0,931.2"/>
<polyline class="k" points="1470.8,1042.0 1470.0,1036.2 1475.0,1031.2 1472.5,1027.5 1473.8,1021.2 1480.0,1017.5 1485.0,1011.2 1492.5,1012.5 1500.0,1010.0 1503.0,1001.2"/>
<polyline class="k" points="1632.5,1052.0 1633.8,1057.5 1631.2,1065.0 1630.0,1071.2 1625.0,1077.5 1620.0,1081.2 1612.5,1085.0 1605.0,1087.5 1597.5,1091.2 1590.0,1093.8 1582.5,1096.2 1577.5,1100.0 1575.0,1107.5 1570.0,1112.5 1568.8,1120.0 1567.5,1130.0 1565.0,1140.0 1565.0,1146.2 1561.2,1152.5 1560.0,1158.0"/>
<polyline class="k" points="1560.0,1158.0 1561.2,1165.0 1561.2,1175.0 1557.5,1182.5 1555.0,1190.0 1550.0,1196.2 1545.0,1201.2 1537.5,1203.8 1530.0,1202.5 1522.5,1203.8 1515.0,1205.0 1511.2,1207.0"/>
<polyline class="k" points="1511.2,1207.0 1510.0,1215.0 1508.8,1225.0 1506.2,1235.0 1505.0,1243.8 1497.5,1242.5 1490.0,1242.5 1482.5,1243.8 1477.5,1250.0 1472.5,1256.2 1466.2,1262.5 1461.2,1266.2 1455.0,1268.8 1448.8,1270.0 1442.5,1272.0 1440.0,1265.0 1436.2,1258.8 1431.2,1252.5 1425.0,1248.8 1418.8,1246.2 1417.5,1240.0 1413.8,1235.0 1407.5,1231.2 1401.2,1232.5 1395.0,1233.8 1388.8,1235.0 1383.8,1231.2 1378.8,1226.2 1372.5,1225.0 1367.5,1220.0 1365.0,1215.0 1357.5,1212.5 1350.0,1211.2 1343.8,1207.5 1340.0,1203.8 1333.8,1203.8 1332.5,1197.5 1333.8,1192.5 1331.2,1186.2 1330.0,1184.5"/>
<polyline class="k" points="1470.8,1042.0 1465.0,1042.5 1460.0,1041.2 1453.8,1042.5 1447.5,1037.5 1443.8,1037.5 1441.2,1041.2 1433.8,1040.0 1431.2,1043.8 1430.0,1050.0 1423.8,1053.8 1417.5,1056.2 1411.2,1058.8 1403.8,1060.0 1401.2,1067.5 1396.2,1073.8 1392.5,1076.2 1387.5,1071.2 1382.5,1068.8 1375.0,1067.5 1367.5,1067.5 1366.2,1060.0 1363.8,1057.5 1357.5,1063.8 1360.0,1071.2 1362.5,1077.5 1360.0,1085.0 1355.0,1090.0 1350.0,1096.2 1343.8,1098.8 1337.5,1101.2 1330.0,1102.5 1322.5,1103.8 1317.5,1107.5 1313.8,1112.5 1308.8,1122.5 1310.0,1132.5 1313.8,1142.5 1315.0,1150.0 1322.5,1148.8 1323.8,1156.2 1320.0,1163.8 1311.2,1166.2 1310.0,1175.0 1303.8,1182.5 1303.8,1189.5 1310.0,1190.0 1317.5,1187.5 1325.0,1186.2 1330.0,1184.5"/>
<polyline class="k" points="1225.0,937.0 1227.5,945.0 1227.5,955.0 1223.8,960.0 1220.0,965.0 1220.0,972.5 1218.8,980.0 1217.0,987.0 1212.5,983.8 1205.0,980.0 1197.5,980.0 1190.0,978.8 1183.8,980.0 1177.5,977.5 1171.2,978.8 1162.5,978.8 1153.8,980.0 1152.5,988.8 1146.2,990.0 1137.5,991.2 1127.5,993.8 1122.5,992.5 1117.5,996.2 1113.8,998.0 1108.8,992.5 1102.5,986.2 1096.2,981.2 1088.8,978.8 1082.5,975.0 1078.8,968.8 1072.5,966.2 1066.2,962.5 1060.0,957.5 1053.8,955.0 1047.5,955.0 1041.2,952.5 1036.2,948.8 1033.8,945.5"/>
<polyline class="k" points="1217.0,987.0 1217.5,993.8 1207.5,992.5 1203.8,997.5 1205.0,1005.0 1202.5,1010.0 1210.0,1011.2 1217.5,1012.5 1223.8,1012.5 1217.5,1016.2 1215.0,1025.0 1216.2,1035.0 1220.0,1042.5 1222.5,1050.0 1226.2,1052.5 1220.0,1053.8 1217.5,1060.0 1223.8,1063.8 1230.0,1068.8 1233.8,1072.0 1240.0,1067.5 1242.5,1061.2 1247.5,1056.2 1247.5,1048.8 1243.8,1043.8 1241.2,1038.8 1235.0,1035.0 1237.5,1030.0 1246.2,1026.2 1252.5,1027.5 1257.5,1033.8 1262.5,1038.8 1265.0,1047.5 1271.2,1055.0 1276.2,1061.2 1281.2,1065.0 1283.8,1062.5 1285.0,1070.0 1283.8,1076.2 1287.5,1081.2 1293.8,1085.0 1301.2,1088.8 1306.2,1095.0 1310.0,1102.5 1312.5,1110.0 1314.2,1113.0"/>
<polyline class="k" points="1113.8,998.0 1111.2,1005.0 1110.0,1011.2 1115.0,1016.2 1116.2,1022.5 1113.8,1027.5 1105.0,1028.8 1110.0,1032.5 1111.2,1038.8 1108.8,1046.2 1107.5,1053.8 1110.0,1061.2 1108.8,1068.8 1111.2,1073.8"/>
<polyline class="k" points="1111.2,1073.8 1111.2,1082.5 1105.0,1087.5 1098.8,1091.2 1092.5,1096.2 1087.5,1102.5 1082.5,1110.0 1081.2,1116.2 1086.2,1121.2 1079.5,1126.2"/>
<polyline class="k" points="1299.2,1302.8 1295.0,1308.5 1290.0,1316.0 1285.0,1324.8 1280.0,1332.2 1278.8,1338.5 1276.2,1346.0 1272.5,1353.5 1271.2,1361.0 1268.8,1368.5 1263.8,1372.2 1258.8,1369.8 1257.5,1361.0 1257.5,1353.5 1255.0,1347.2 1252.5,1339.8 1250.0,1334.8 1243.8,1333.5 1235.0,1334.8 1226.2,1337.2 1220.0,1333.5 1212.5,1332.2 1205.0,1328.5 1197.5,1326.0 1192.5,1322.2 1192.5,1316.0 1187.5,1311.0 1182.5,1308.5 1175.0,1308.5 1167.5,1304.8 1161.2,1302.2 1157.5,1298.5 1150.0,1302.2 1142.5,1302.2 1134.2,1303.0"/>
<polyline class="k" points="1299.2,1302.8 1303.8,1294.8 1306.2,1286.0 1312.5,1282.2 1320.0,1277.2 1325.0,1271.0 1330.0,1268.5 1336.2,1271.0 1343.8,1273.5 1350.0,1274.8 1355.0,1279.8 1361.2,1283.5 1367.5,1287.2 1375.0,1291.0 1381.2,1287.2 1386.2,1282.2 1393.8,1278.5 1400.0,1279.8 1406.2,1284.8 1411.2,1289.8 1417.5,1284.8 1423.8,1287.2 1430.0,1282.2 1437.5,1278.5 1442.5,1272.0"/>
<g transform="matrix(0.4455 0 0 0.4445 1209.3 -164.9)">
<polygon fill="#e54c04" stroke="#e54c04" stroke-width="2" points="1299.2,1302.8 1303.8,1294.8 1306.2,1286.0 1312.5,1282.2 1320.0,1277.2 1325.0,1271.0 1330.0,1268.5 1336.2,1271.0 1343.8,1273.5 1350.0,1274.8 1355.0,1279.8 1361.2,1283.5 1367.5,1287.2 1375.0,1291.0 1381.2,1287.2 1386.2,1282.2 1393.8,1278.5 1400.0,1279.8 1406.2,1284.8 1411.2,1289.8 1417.5,1284.8 1423.8,1287.2 1430.0,1282.2 1437.5,1278.5 1442.5,1272.0 1445.0,1268.5 1435.0,1248.5 1422.5,1236.0 1400.0,1226.0 1380.0,1221.0 1362.5,1208.5 1340.0,1198.5 1335.0,1183.5 1325.0,1178.5 1305.0,1183.5 1297.5,1181.0 1282.5,1166.0 1270.0,1181.0 1250.0,1191.0 1245.0,1201.0 1245.0,1223.5 1252.5,1248.5 1247.5,1261.0 1257.5,1286.0 1272.5,1298.5 1287.5,1296.0 1297.5,1306.0"/>
<polygon fill="#e54c04" stroke="#e54c04" stroke-width="2" points="1138.8,1224.5 1150.0,1211.0 1175.0,1221.0 1200.0,1203.5 1220.0,1201.0 1225.0,1204.5 1237.5,1196.0 1247.5,1198.0 1250.0,1206.0 1248.8,1213.5 1251.2,1221.0 1256.2,1226.0 1257.5,1234.8 1256.2,1242.2 1261.2,1247.2 1262.5,1251.0 1255.0,1252.2 1251.2,1254.8 1252.5,1263.5 1255.0,1271.0 1258.8,1278.5 1262.5,1284.8 1266.2,1289.8 1271.2,1293.5 1277.5,1289.8 1282.5,1288.5 1287.5,1292.2 1292.5,1297.2 1299.2,1302.8 1295.0,1308.5 1290.0,1316.0 1285.0,1324.8 1280.0,1332.2 1278.8,1338.5 1276.2,1346.0 1272.5,1353.5 1271.2,1361.0 1268.8,1368.5 1263.8,1372.2 1258.8,1369.8 1257.5,1361.0 1257.5,1353.5 1255.0,1347.2 1252.5,1339.8 1250.0,1334.8 1243.8,1333.5 1235.0,1334.8 1226.2,1337.2 1220.0,1333.5 1212.5,1332.2 1205.0,1328.5 1197.5,1326.0 1192.5,1322.2 1192.5,1316.0 1187.5,1311.0 1182.5,1308.5 1175.0,1308.5 1167.5,1304.8 1161.2,1302.2 1157.5,1298.5 1150.0,1302.2 1142.5,1302.2 1134.2,1303.0 1125.0,1298.5 1125.0,1273.5 1130.0,1248.5 1132.5,1228.5"/>
<polygon fill="#e54c04" stroke="#e54c04" stroke-width="2" points="1138.8,1224.5 1145.0,1221.0 1152.5,1218.5 1158.8,1217.2 1161.2,1224.8 1167.5,1226.0 1175.0,1228.5 1181.2,1231.0 1186.2,1227.2 1187.5,1221.0 1193.8,1216.0 1198.8,1211.0 1203.8,1208.5 1210.0,1211.0 1215.0,1212.2 1220.0,1208.5 1225.0,1204.5 1230.0,1203.5 1225.0,1186.0 1227.5,1161.0 1237.5,1136.0 1235.0,1111.0 1225.0,1101.0 1200.0,1106.0 1175.0,1091.0 1155.0,1086.0 1135.0,1061.0 1112.5,1068.5 1107.5,1071.0 1087.5,1091.0 1075.0,1123.5 1070.0,1136.0 1070.0,1161.0 1072.5,1186.0 1080.0,1196.0 1100.0,1203.5 1120.0,1211.0 1132.5,1223.5"/>
<polygon fill="#e54c04" stroke="#e54c04" stroke-width="2" points="1227.0,1106.2 1231.2,1110.0 1232.5,1120.0 1231.2,1130.0 1233.8,1137.5 1230.0,1145.0 1223.8,1150.0 1221.2,1157.5 1220.0,1165.0 1215.0,1172.5 1212.5,1177.5 1218.8,1182.5 1220.0,1190.0 1223.8,1197.5 1225.0,1204.5 1232.5,1202.5 1241.2,1200.0 1247.5,1198.0 1253.8,1192.5 1262.5,1188.8 1271.2,1187.5 1277.5,1185.0 1277.5,1175.0 1282.5,1172.5 1287.5,1177.5 1292.5,1185.0 1298.8,1188.8 1303.8,1189.5 1310.0,1187.5 1315.0,1172.5 1325.0,1165.0 1327.5,1152.5 1320.0,1145.0 1315.0,1130.0 1317.5,1115.0 1310.0,1100.0 1290.0,1080.0 1285.0,1060.0 1270.0,1050.0 1260.0,1030.0 1245.0,1022.5 1232.5,1035.0 1240.0,1050.0 1237.5,1062.5 1230.0,1070.0 1220.0,1075.0 1220.0,1105.0"/>
<polygon fill="#fdba74" stroke="#fdba74" stroke-width="2" points="1111.2,1073.8 1111.2,1082.5 1105.0,1087.5 1098.8,1091.2 1092.5,1096.2 1087.5,1102.5 1082.5,1110.0 1081.2,1116.2 1086.2,1121.2 1079.5,1126.2 1075.0,1132.5 1050.0,1125.0 1025.0,1115.0 1000.0,1102.5 975.0,1095.0 967.5,1087.5 970.0,1062.5 962.5,1037.5 950.0,1025.0 950.0,1020.0 960.0,990.0 975.0,962.5 980.0,950.0 990.0,948.8 1000.0,942.5 1012.5,930.0 1032.5,940.0 1040.0,945.0 1062.5,955.0 1082.5,967.5 1105.0,982.5 1117.5,995.0 1120.0,1005.0 1120.0,1025.0 1115.0,1050.0 1117.5,1070.0"/>
<polygon fill="#e54c04" stroke="#e54c04" stroke-width="2" points="1113.8,998.0 1111.2,1005.0 1110.0,1011.2 1115.0,1016.2 1116.2,1022.5 1113.8,1027.5 1105.0,1028.8 1110.0,1032.5 1111.2,1038.8 1108.8,1046.2 1107.5,1053.8 1110.0,1061.2 1108.8,1068.8 1111.2,1073.8 1120.0,1072.5 1123.8,1066.2 1130.0,1065.0 1133.8,1071.2 1140.0,1075.0 1147.5,1078.8 1151.2,1085.0 1152.5,1091.2 1156.2,1096.2 1161.2,1100.0 1167.5,1097.5 1175.0,1096.2 1178.8,1101.2 1183.8,1103.8 1187.5,1102.5 1192.5,1105.0 1197.5,1108.8 1203.8,1112.5 1208.8,1115.0 1213.8,1111.2 1220.0,1108.8 1227.0,1106.2 1226.2,1100.0 1223.8,1093.8 1226.2,1087.5 1223.8,1081.2 1225.0,1075.0 1231.2,1073.8 1233.8,1072.0 1235.0,1067.5 1230.0,1057.5 1232.5,1050.0 1225.0,1037.5 1222.5,1022.5 1227.5,1013.8 1225.0,1010.0 1212.5,1007.5 1210.0,1000.0 1222.5,995.0 1220.0,985.0 1217.5,982.5 1200.0,975.0 1175.0,973.8 1150.0,975.0 1147.5,986.2 1125.0,988.8 1115.0,993.8"/>
<polygon fill="#fda802" stroke="#fda802" stroke-width="2" points="1217.0,987.0 1217.5,993.8 1207.5,992.5 1203.8,997.5 1205.0,1005.0 1202.5,1010.0 1210.0,1011.2 1217.5,1012.5 1223.8,1012.5 1217.5,1016.2 1215.0,1025.0 1216.2,1035.0 1220.0,1042.5 1222.5,1050.0 1226.2,1052.5 1220.0,1053.8 1217.5,1060.0 1223.8,1063.8 1230.0,1068.8 1233.8,1072.0 1240.0,1067.5 1242.5,1061.2 1247.5,1056.2 1247.5,1048.8 1243.8,1043.8 1241.2,1038.8 1235.0,1035.0 1237.5,1030.0 1246.2,1026.2 1252.5,1027.5 1257.5,1033.8 1262.5,1038.8 1265.0,1047.5 1271.2,1055.0 1276.2,1061.2 1281.2,1065.0 1283.8,1062.5 1285.0,1070.0 1283.8,1076.2 1287.5,1081.2 1293.8,1085.0 1301.2,1088.8 1306.2,1095.0 1310.0,1102.5 1312.5,1110.0 1314.2,1113.0 1325.0,1110.0 1340.0,1105.0 1342.5,1100.0 1337.5,1075.0 1337.5,1060.0 1345.0,1047.5 1355.0,1045.0 1350.0,1035.0 1325.0,1012.5 1300.0,1000.0 1275.0,985.0 1250.0,962.5 1225.0,955.0 1217.5,960.0 1215.0,985.0"/>
<polygon fill="#fda802" stroke="#fda802" stroke-width="2" points="1223.8,960.0 1230.0,958.8 1236.2,960.0 1243.8,962.5 1247.5,967.5 1253.8,970.0 1260.0,973.8 1265.0,980.0 1270.0,986.2 1275.0,992.5 1280.0,997.5 1287.5,1000.0 1295.0,1003.8 1300.0,1008.8 1306.2,1006.2 1311.2,1005.0 1316.2,1011.2 1321.2,1016.2 1326.2,1022.5 1330.0,1028.8 1335.0,1035.0 1340.0,1040.0 1346.2,1042.5 1353.0,1042.0 1357.5,1042.5 1365.0,1025.0 1390.0,1012.5 1400.0,997.5 1422.5,990.0 1425.0,970.0 1440.0,955.0 1447.5,947.5 1450.0,945.0 1450.0,930.0 1445.0,925.0 1425.0,917.5 1397.5,917.5 1375.0,910.0 1355.0,892.5 1325.0,882.5 1310.0,870.0 1300.0,870.0 1275.0,882.5 1265.0,905.0 1257.5,925.0 1245.0,930.0 1225.0,930.0 1220.0,937.5 1220.0,960.0"/>
<polygon fill="#fdba74" stroke="#fdba74" stroke-width="2" points="1033.8,945.5 1027.5,945.0 1025.0,930.0 1042.5,920.0 1045.0,900.0 1042.5,882.5 1050.0,875.0 1060.0,865.0 1067.5,857.5 1087.5,865.0 1112.5,872.5 1137.5,882.5 1152.5,892.5 1170.0,882.5 1195.0,885.0 1207.5,887.5 1217.5,912.5 1227.5,930.0 1225.0,937.0 1227.5,945.0 1227.5,955.0 1223.8,960.0 1220.0,965.0 1220.0,972.5 1218.8,980.0 1217.0,987.0 1212.5,983.8 1205.0,980.0 1197.5,980.0 1190.0,978.8 1183.8,980.0 1177.5,977.5 1171.2,978.8 1162.5,978.8 1153.8,980.0 1152.5,988.8 1146.2,990.0 1137.5,991.2 1127.5,993.8 1122.5,992.5 1117.5,996.2 1113.8,998.0 1108.8,992.5 1102.5,986.2 1096.2,981.2 1088.8,978.8 1082.5,975.0 1078.8,968.8 1072.5,966.2 1066.2,962.5 1060.0,957.5 1053.8,955.0 1047.5,955.0 1041.2,952.5 1036.2,948.8 1033.8,945.5"/>
<polygon fill="#fda802" stroke="#fda802" stroke-width="2" points="1442.5,948.8 1450.0,945.0 1465.0,952.5 1480.0,965.0 1495.0,985.0 1505.0,997.5 1507.5,1007.5 1487.5,1020.0 1480.0,1030.0 1477.5,1042.5 1462.5,1050.0 1437.5,1050.0 1425.0,1065.0 1400.0,1080.0 1375.0,1075.0 1365.0,1075.0 1367.5,1087.5 1350.0,1102.5 1337.5,1105.0 1337.5,1101.2 1335.0,1095.0 1331.2,1087.5 1331.2,1077.5 1330.0,1067.5 1328.8,1060.0 1335.0,1056.2 1337.5,1048.8 1336.2,1045.0 1343.8,1042.5 1350.0,1043.8 1353.0,1041.2 1350.0,1035.0 1348.8,1028.8 1355.0,1025.0 1361.2,1021.2 1362.5,1015.0 1370.0,1011.2 1377.5,1010.0 1385.0,1007.5 1386.2,997.5 1393.8,992.5 1410.0,990.0 1416.2,985.0 1416.2,975.0 1421.2,970.0 1422.5,960.0 1430.0,953.8 1437.5,950.0"/>
<polygon fill="#fda802" stroke="#fda802" stroke-width="2" points="1470.8,1042.0 1465.0,1042.5 1460.0,1041.2 1453.8,1042.5 1447.5,1037.5 1443.8,1037.5 1441.2,1041.2 1433.8,1040.0 1431.2,1043.8 1430.0,1050.0 1423.8,1053.8 1417.5,1056.2 1411.2,1058.8 1403.8,1060.0 1401.2,1067.5 1396.2,1073.8 1392.5,1076.2 1387.5,1071.2 1382.5,1068.8 1375.0,1067.5 1367.5,1067.5 1366.2,1060.0 1363.8,1057.5 1357.5,1063.8 1360.0,1071.2 1362.5,1077.5 1360.0,1085.0 1355.0,1090.0 1350.0,1096.2 1343.8,1098.8 1337.5,1101.2 1330.0,1102.5 1322.5,1103.8 1317.5,1107.5 1313.8,1112.5 1308.8,1122.5 1310.0,1132.5 1313.8,1142.5 1315.0,1150.0 1322.5,1148.8 1323.8,1156.2 1320.0,1163.8 1311.2,1166.2 1310.0,1175.0 1303.8,1182.5 1303.8,1189.5 1310.0,1190.0 1317.5,1187.5 1325.0,1186.2 1330.0,1184.5 1335.0,1187.5 1342.5,1172.5 1350.0,1160.0 1370.0,1152.5 1380.0,1147.5 1395.0,1142.5 1405.0,1130.0 1407.5,1120.0 1425.0,1115.0 1437.5,1100.0 1440.0,1090.0 1462.5,1082.5 1480.0,1080.0 1487.5,1072.5 1495.0,1057.5 1480.0,1042.5"/>
<polygon fill="#fda802" stroke="#fda802" stroke-width="2" points="1378.0,1143.0 1385.0,1142.5 1400.0,1160.0 1412.5,1157.5 1435.0,1152.5 1447.5,1170.0 1455.0,1185.0 1472.5,1178.8 1490.0,1185.0 1507.5,1190.0 1515.0,1205.0 1511.2,1207.0 1510.0,1215.0 1508.8,1225.0 1506.2,1235.0 1505.0,1243.8 1497.5,1242.5 1490.0,1242.5 1482.5,1243.8 1477.5,1250.0 1472.5,1256.2 1466.2,1262.5 1461.2,1266.2 1455.0,1268.8 1448.8,1270.0 1442.5,1272.0 1440.0,1265.0 1436.2,1258.8 1431.2,1252.5 1425.0,1248.8 1418.8,1246.2 1417.5,1240.0 1413.8,1235.0 1407.5,1231.2 1401.2,1232.5 1395.0,1233.8 1388.8,1235.0 1383.8,1231.2 1378.8,1226.2 1372.5,1225.0 1367.5,1220.0 1365.0,1215.0 1357.5,1212.5 1350.0,1211.2 1343.8,1207.5 1340.0,1203.8 1333.8,1203.8 1332.5,1197.5 1333.8,1192.5 1331.2,1186.2 1330.0,1184.5 1333.8,1180.0 1336.2,1173.8 1335.0,1167.5 1340.0,1162.5 1345.0,1157.5 1351.2,1152.5 1357.5,1150.0 1365.0,1147.5 1372.5,1146.2"/>
<polygon fill="#fda802" stroke="#fda802" stroke-width="2" points="1480.5,1075.8 1487.5,1075.0 1505.0,1092.5 1520.0,1110.0 1525.0,1125.0 1537.5,1140.0 1555.0,1147.5 1562.5,1155.0 1560.0,1158.0 1561.2,1165.0 1561.2,1175.0 1557.5,1182.5 1555.0,1190.0 1550.0,1196.2 1545.0,1201.2 1537.5,1203.8 1530.0,1202.5 1522.5,1203.8 1515.0,1205.0 1511.2,1207.0 1507.5,1202.5 1505.0,1197.5 1503.8,1192.5 1497.5,1192.5 1491.2,1191.2 1486.2,1187.5 1480.0,1185.0 1472.5,1183.8 1466.2,1187.5 1460.0,1190.0 1453.8,1192.5 1451.2,1187.5 1447.5,1181.2 1442.5,1177.5 1437.5,1172.5 1441.2,1167.5 1440.0,1161.2 1435.0,1157.5 1427.5,1158.8 1421.2,1161.2 1413.8,1162.5 1407.5,1166.2 1401.2,1168.8 1397.5,1165.0 1392.5,1158.8 1388.8,1153.8 1383.8,1148.8 1378.0,1143.0 1385.0,1140.0 1391.2,1136.2 1397.5,1132.5 1401.2,1128.8 1400.0,1122.5 1397.5,1117.5 1402.5,1116.2 1408.8,1115.0 1415.0,1113.8 1420.0,1110.0 1425.0,1110.0 1428.8,1105.0 1431.2,1100.0 1432.5,1093.8 1430.0,1088.8 1436.2,1086.2 1443.8,1083.8 1450.0,1082.5 1457.5,1080.0 1463.8,1076.2 1471.2,1077.5 1476.2,1077.5"/>
<polygon fill="#fda802" stroke="#fda802" stroke-width="2" points="1470.8,1042.0 1470.0,1036.2 1475.0,1031.2 1472.5,1027.5 1473.8,1021.2 1480.0,1017.5 1485.0,1011.2 1492.5,1012.5 1500.0,1010.0 1503.0,1001.2 1505.0,995.0 1525.0,1000.0 1550.0,1000.0 1570.0,1005.0 1587.5,1012.5 1600.0,1010.0 1612.5,1025.0 1625.0,1040.0 1632.5,1047.5 1632.5,1052.0 1633.8,1057.5 1631.2,1065.0 1630.0,1071.2 1625.0,1077.5 1620.0,1081.2 1612.5,1085.0 1605.0,1087.5 1597.5,1091.2 1590.0,1093.8 1582.5,1096.2 1577.5,1100.0 1575.0,1107.5 1570.0,1112.5 1568.8,1120.0 1567.5,1130.0 1565.0,1140.0 1565.0,1146.2 1561.2,1152.5 1560.0,1158.0 1555.0,1155.0 1550.0,1150.0 1543.8,1146.2 1538.8,1147.5 1532.5,1145.0 1528.8,1138.8 1525.0,1131.2 1520.0,1127.5 1515.0,1121.2 1513.8,1113.8 1511.2,1107.5 1506.2,1105.0 1501.2,1100.0 1498.8,1093.8 1496.2,1087.5 1490.0,1085.0 1485.0,1080.0 1480.5,1075.8 1483.8,1070.0 1487.5,1065.0 1490.0,1058.8 1488.8,1052.5 1482.5,1048.8 1475.0,1046.2"/>
<polygon fill="#fda802" stroke="#fda802" stroke-width="2" points="1445.0,931.2 1450.0,922.5 1460.0,912.5 1490.0,905.0 1507.5,890.0 1525.0,887.5 1547.5,877.5 1557.5,885.0 1562.5,900.0 1570.0,910.0 1570.0,920.0 1580.0,950.0 1587.5,975.0 1597.5,995.0 1605.0,1012.5 1600.0,1016.2 1592.5,1017.5 1587.5,1020.0 1580.0,1015.0 1572.5,1013.8 1567.5,1008.8 1560.0,1007.5 1552.5,1008.8 1545.0,1007.5 1537.5,1010.0 1530.0,1012.5 1523.8,1013.8 1522.5,1007.5 1517.5,1002.5 1511.2,1000.0 1503.0,1001.2 1501.2,995.0 1497.5,991.2 1492.5,993.8 1490.0,997.5 1486.2,993.8 1485.0,990.0 1490.0,986.2 1486.2,978.8 1482.5,973.8 1476.2,970.0 1472.5,965.0 1467.5,961.2 1462.5,956.2 1458.8,950.0 1455.0,948.8 1453.8,952.5 1448.8,951.2 1443.8,947.5 1441.2,940.0 1442.5,935.0 1445.0,931.2"/>
<polygon fill="#fda802" stroke="#fda802" stroke-width="2" points="1682.0,923.8 1687.5,925.0 1695.0,927.5 1702.5,928.8 1705.0,935.0 1712.5,936.2 1720.0,935.0 1727.5,937.5 1730.0,945.0 1732.5,955.0 1736.2,965.0 1738.8,975.0 1742.5,982.5 1745.0,987.5 1741.2,995.0 1742.5,998.8 1736.2,1000.0 1730.0,1002.5 1722.5,1006.2 1717.5,1010.0 1710.0,1007.5 1702.5,1006.2 1695.0,1006.2 1685.0,1010.0 1677.5,1006.2 1670.0,1007.5 1663.8,1012.5 1665.0,1020.0 1660.0,1026.2 1657.5,1032.5 1651.2,1037.5 1648.8,1043.8 1643.8,1048.8 1640.0,1052.5 1632.0,1052.0 1625.0,1048.8 1621.2,1042.5 1620.0,1037.5 1615.0,1033.8 1610.0,1030.0 1605.0,1025.0 1602.5,1020.0 1600.0,1016.2 1598.8,1010.0 1596.2,1003.8 1590.0,997.5 1586.2,991.2 1585.0,983.8 1581.2,977.5 1577.5,972.5 1575.0,965.0 1572.5,957.5 1570.0,953.8 1573.8,947.5 1572.5,940.0 1570.0,935.0 1566.2,931.2 1565.0,925.0 1560.0,923.8 1562.5,920.0 1567.0,916.2 1587.5,910.0 1600.0,900.0 1607.5,885.0 1618.8,887.5 1622.5,892.5 1627.5,905.0 1632.5,906.2 1642.5,910.0 1657.5,917.5 1672.5,922.5"/>
<polygon fill="#fda802" stroke="#fda802" stroke-width="2" points="1603.0,837.0 1608.8,840.0 1615.0,840.0 1622.5,841.2 1628.8,840.0 1635.0,845.0 1641.2,847.5 1650.0,851.2 1656.2,852.5 1657.5,843.8 1665.0,845.0 1666.2,853.8 1666.2,860.0 1672.5,866.2 1668.8,872.5 1667.5,880.0 1671.2,887.5 1675.0,897.5 1678.8,905.0 1681.2,913.8 1682.0,923.8 1676.2,923.8 1670.0,927.5 1662.5,926.2 1657.5,922.5 1650.0,920.0 1645.0,916.2 1640.0,911.2 1632.5,910.0 1625.0,910.0 1623.8,902.5 1625.0,896.2 1621.2,891.2 1618.8,887.5 1612.5,887.5 1605.0,875.0 1597.5,862.5 1596.2,845.0"/>
<polygon fill="#fda802" stroke="#fda802" stroke-width="2" points="1457.0,805.5 1460.0,812.5 1466.2,816.2 1472.5,820.0 1477.5,826.2 1485.0,830.0 1492.5,828.8 1498.8,827.5 1505.0,821.2 1512.5,817.5 1520.0,813.8 1527.5,815.0 1528.8,808.8 1523.8,806.2 1520.0,802.5 1520.0,797.5 1525.0,793.8 1531.2,795.0 1536.2,798.8 1540.0,805.0 1545.0,811.2 1550.0,817.5 1560.0,820.0 1565.0,817.5 1572.5,821.2 1575.0,827.5 1582.5,830.0 1590.0,833.8 1592.5,840.0 1597.5,843.8 1603.0,837.0 1602.5,840.0 1600.0,847.5 1598.8,853.8 1597.5,858.8 1595.0,870.0 1575.0,880.0 1560.0,882.5 1550.0,883.0 1547.5,883.8 1545.0,888.8 1540.0,886.2 1535.0,888.8 1531.2,893.8 1525.0,895.0 1520.0,891.2 1515.0,888.8 1511.2,892.5 1508.8,898.8 1502.5,903.8 1497.5,906.2 1491.2,911.2 1485.0,912.5 1477.5,915.0 1470.0,917.5 1462.5,918.8 1460.0,926.2 1452.5,930.0 1445.0,931.2 1442.5,927.5 1435.0,926.2 1427.5,922.5 1422.5,923.8 1415.0,928.8 1407.5,927.5 1399.2,923.8 1396.2,922.5 1396.2,910.0 1405.0,895.0 1411.2,880.0 1415.0,860.0 1430.0,845.0 1431.2,832.5 1432.5,812.5 1447.5,806.2"/>
<polygon fill="#fda802" stroke="#fda802" stroke-width="2" points="1370.0,723.0 1376.2,720.0 1380.0,717.5 1390.0,715.0 1397.5,716.2 1405.0,717.5 1410.0,713.8 1415.0,716.2 1422.5,713.8 1428.8,708.8 1433.8,706.2 1435.0,695.0 1441.2,696.2 1446.2,701.2 1450.0,703.8 1448.8,710.0 1445.0,716.2 1447.5,722.5 1453.8,728.8 1453.8,736.2 1452.5,741.2 1443.8,742.5 1437.5,747.5 1430.0,751.2 1422.5,753.8 1415.0,756.2 1413.8,761.2 1418.8,766.2 1423.8,770.0 1427.5,776.2 1435.0,777.5 1442.5,781.2 1447.5,787.5 1452.5,793.8 1456.2,802.5 1457.0,805.5 1450.0,808.8 1442.5,810.0 1436.2,813.8 1438.8,820.0 1435.0,825.0 1436.2,831.2 1432.5,835.0 1437.5,840.0 1445.0,842.5 1440.0,846.2 1435.0,848.8 1431.2,852.5 1425.0,855.0 1420.0,858.8 1417.5,865.0 1418.8,870.0 1415.0,875.0 1416.2,880.0 1412.5,885.0 1411.2,892.5 1410.0,897.5 1406.2,902.5 1402.5,907.5 1400.0,912.5 1401.2,918.8 1399.2,923.8 1393.8,921.2 1387.5,917.5 1381.2,918.8 1373.8,918.8 1370.0,911.2 1363.8,907.5 1358.8,902.5 1355.0,900.0 1348.8,902.5 1342.5,898.8 1336.2,897.5 1330.0,896.2 1321.2,892.5 1322.5,882.5 1320.0,885.0 1312.5,880.0 1306.2,873.8 1303.8,877.0 1300.0,875.0 1302.5,857.5 1305.0,845.0 1300.0,832.5 1307.5,815.0 1315.0,800.0 1317.5,787.5 1317.5,780.0 1322.5,767.5 1335.0,755.0 1350.0,740.0 1362.5,735.0 1365.0,725.0"/>
<polygon fill="#fda802" stroke="#fda802" stroke-width="2" points="1227.5,749.5 1232.5,743.8 1240.0,741.2 1248.8,738.8 1255.0,732.5 1258.8,737.5 1265.5,742.5 1272.5,745.0 1280.0,757.5 1297.5,760.0 1307.5,772.5 1320.0,780.0 1320.8,786.2 1321.2,795.0 1320.0,805.0 1316.2,812.5 1310.0,820.0 1307.5,827.5 1305.0,832.5 1310.0,840.0 1313.8,846.2 1310.0,852.5 1307.5,860.0 1308.8,867.5 1305.0,872.5 1303.8,877.0 1297.5,880.0 1290.0,885.0 1282.5,880.0 1280.0,885.0 1281.2,891.2 1276.2,895.0 1275.0,902.5 1270.0,907.5 1267.5,915.0 1263.8,920.0 1266.2,926.2 1262.5,932.5 1257.5,937.5 1252.5,940.0 1248.8,936.2 1242.5,936.2 1237.5,938.8 1230.0,937.5 1225.0,937.0 1215.0,936.2 1217.5,930.0 1215.0,922.5 1210.0,915.0 1206.2,907.5 1203.8,900.0 1200.0,891.2 1200.5,889.2 1197.5,885.0 1198.8,870.0 1195.0,845.0 1190.0,831.2 1205.0,817.5 1210.0,805.0 1210.0,785.0 1217.5,765.0 1223.8,752.5"/>
<polygon fill="#fda802" stroke="#fda802" stroke-width="2" points="1265.5,742.5 1267.5,733.8 1262.5,727.5 1263.8,721.2 1260.0,713.8 1256.2,708.8 1248.8,703.8 1245.0,696.2 1242.5,688.8 1238.8,681.2 1236.2,673.8 1230.0,670.0 1225.0,667.5 1228.8,661.2 1230.0,655.0 1235.0,652.5 1242.5,656.2 1250.0,660.0 1257.5,660.0 1265.0,663.8 1272.5,667.5 1280.0,668.8 1286.2,667.5 1290.0,672.5 1297.5,675.0 1305.0,673.8 1310.0,677.5 1312.5,683.8 1317.5,688.8 1325.0,695.0 1332.5,698.8 1340.0,700.0 1345.0,696.2 1348.8,697.5 1348.8,706.2 1347.5,713.8 1350.0,720.0 1352.5,716.2 1360.0,713.8 1367.5,716.2 1370.0,723.0 1368.8,730.0 1367.5,741.2 1358.8,740.0 1356.2,737.5 1352.5,745.0 1346.2,750.0 1341.2,753.8 1337.5,760.0 1330.0,765.0 1325.0,771.2 1322.5,782.5 1320.8,786.2 1315.0,783.8 1308.8,780.0 1302.5,777.5 1300.0,771.2 1296.2,766.2 1290.0,763.8 1282.5,765.0 1276.2,763.8 1273.8,757.5 1270.0,752.5 1267.5,747.5"/>
<polygon fill="#fdba74" stroke="#fdba74" stroke-width="2" points="687.5,797.5 725.0,785.0 750.0,785.0 775.0,780.0 800.0,790.0 825.0,780.0 850.0,772.5 870.0,785.0 870.0,800.0 862.5,817.5 850.0,830.0 825.0,847.5 800.0,860.0 775.0,875.0 760.0,887.5 745.0,880.0 725.0,887.5 712.5,885.0 700.0,875.0 695.0,850.0 690.0,825.0"/>
<polygon fill="#fdba74" stroke="#fdba74" stroke-width="2" points="698.8,755.0 695.0,750.0 697.5,735.0 715.0,725.0 735.0,730.0 747.5,725.0 750.0,715.0 767.5,700.0 787.5,693.8 800.0,695.0 815.0,710.0 837.5,715.0 856.2,716.2 860.0,725.0 862.5,755.0 855.0,775.0 849.5,776.2 845.0,780.0 840.0,783.8 835.0,781.2 830.0,785.0 822.5,786.2 815.0,788.8 810.0,792.5 802.5,795.0 800.0,800.0 795.0,805.0 790.0,803.8 785.0,797.5 782.5,791.2 777.5,787.5 770.0,786.2 762.5,788.8 757.5,792.5 753.8,798.8 748.8,800.0 745.0,795.0 741.2,790.0 737.5,786.2 730.0,790.0 722.5,792.5 715.0,793.8 707.5,792.5 700.0,795.0 691.2,800.0 687.5,797.5 700.0,787.5 706.2,780.0 700.0,765.0 696.2,757.5"/>
<polygon fill="#fdba74" stroke="#fdba74" stroke-width="2" points="802.0,953.0 800.0,947.5 807.5,932.5 825.0,922.5 850.0,912.5 860.0,902.5 875.0,890.0 885.0,887.5 900.0,897.5 925.0,905.0 950.0,915.0 962.5,925.0 980.0,935.0 987.5,947.5 984.2,951.2 978.8,957.5 975.0,965.0 970.0,970.0 967.5,977.5 962.5,982.5 958.8,992.5 960.0,1000.0 958.8,1005.0 956.2,1011.2 953.8,1017.5 953.8,1025.0 950.0,1032.5 925.0,1037.5 912.5,1047.5 875.0,1045.0 862.5,1040.0 855.0,1025.0 860.0,1005.0 850.0,992.5 825.0,992.5 817.5,985.0 812.5,975.0 797.5,957.5"/>
<polygon fill="#fdba74" stroke="#fdba74" stroke-width="2" points="855.0,817.0 862.5,817.5 880.0,830.0 895.0,850.0 897.5,860.0 892.5,875.0 890.0,890.0 883.8,891.2 877.5,893.8 870.0,897.5 865.0,902.5 863.8,910.0 857.5,915.0 850.0,918.8 842.5,922.5 833.8,925.0 825.0,927.5 816.2,930.0 812.5,936.2 811.2,945.0 803.8,950.0 802.0,953.0 787.5,952.5 765.0,937.5 745.0,920.0 735.0,902.5 720.0,887.5 722.5,881.2 727.5,876.2 732.5,871.2 736.2,875.0 741.2,870.0 748.8,871.2 755.0,877.5 760.0,880.0 762.5,872.5 763.8,865.0 772.5,863.8 780.0,865.0 783.8,858.8 790.0,853.8 797.5,851.2 805.0,847.5 812.5,847.5 817.5,840.0 825.0,837.5 832.5,833.8 838.8,826.2 843.8,822.5 850.0,820.0"/>
<polygon fill="#fdba74" stroke="#fdba74" stroke-width="2" points="1156.8,773.8 1162.5,777.5 1170.0,783.8 1180.0,787.5 1187.5,791.2 1193.8,787.5 1197.5,780.0 1205.0,772.5 1212.5,765.0 1217.5,755.0 1222.5,750.0 1227.5,749.5 1225.0,757.5 1222.5,767.5 1217.5,775.0 1215.0,785.0 1217.5,795.0 1216.2,802.5 1213.8,810.0 1215.0,815.0 1207.5,821.2 1202.5,826.2 1193.8,830.0 1197.5,840.0 1200.0,850.0 1202.5,857.5 1203.8,867.5 1205.0,877.5 1200.0,882.5 1200.5,889.2 1195.0,890.0 1187.5,887.5 1177.5,886.2 1170.0,887.5 1162.5,892.5 1156.2,896.2 1155.0,901.2 1150.0,900.0 1147.5,893.8 1143.8,890.0 1136.2,888.8 1130.0,887.5 1122.5,888.8 1117.5,883.8 1112.5,878.8 1105.0,877.5 1098.8,876.2 1092.5,871.2 1085.0,870.0 1080.0,867.5 1072.5,863.8 1067.5,862.5 1063.8,865.0 1063.8,873.8 1057.5,877.5 1048.8,881.2 1047.5,885.0 1032.5,882.5 1027.5,870.0 1025.0,850.0 1025.0,840.0 1032.5,825.0 1037.5,810.0 1047.5,802.5 1062.5,810.0 1085.0,807.5 1090.0,797.5 1105.0,785.0 1125.0,772.5 1135.0,760.0 1155.0,767.5"/>
<polygon fill="#fdba74" stroke="#fdba74" stroke-width="2" points="892.0,855.5 912.5,847.5 950.0,832.5 1000.0,832.5 1027.5,835.0 1030.0,841.2 1030.0,847.5 1032.5,855.0 1031.2,862.5 1035.0,867.5 1037.5,873.8 1035.0,878.8 1041.2,880.0 1048.8,881.2 1050.0,887.5 1051.2,896.2 1048.8,905.0 1048.8,915.0 1047.5,923.8 1041.2,925.0 1033.8,926.2 1030.0,927.5 1032.5,933.8 1031.2,940.0 1033.8,945.5 1025.0,943.8 1015.0,942.5 1012.5,936.2 1010.0,940.0 1005.0,945.0 1000.0,948.8 997.5,953.8 991.2,955.0 985.0,950.0 977.5,948.8 977.5,943.8 976.2,937.5 970.0,935.0 962.5,930.0 955.0,927.5 952.5,921.2 945.0,918.8 937.5,915.0 930.0,910.0 922.5,908.8 915.0,906.2 906.2,907.5 900.0,902.5 892.5,896.2 883.8,891.2 885.0,885.0 885.0,876.2 888.8,870.0 892.5,862.5 890.0,857.5 892.0,855.5"/>
<polygon fill="#fdba74" stroke="#fdba74" stroke-width="2" points="867.5,791.2 875.0,790.0 890.0,777.5 905.0,775.0 925.0,776.2 942.5,772.5 952.5,762.5 965.0,773.8 982.5,765.0 1000.0,766.2 1010.0,767.5 1017.5,775.0 1027.5,785.0 1037.5,795.0 1047.5,802.5 1045.0,807.0 1043.8,813.8 1040.0,820.0 1036.2,822.5 1038.8,827.5 1035.0,832.5 1031.2,838.8 1030.0,841.2 1023.8,840.0 1017.5,841.2 1012.5,837.5 1007.5,840.0 1002.5,843.8 996.2,841.2 990.0,837.5 983.8,840.0 976.2,836.2 970.0,835.0 965.0,841.2 957.5,842.5 950.0,840.0 945.0,838.8 940.0,843.8 932.5,843.8 926.2,845.0 922.5,850.0 915.0,853.8 907.5,856.2 900.0,857.5 892.0,855.5 886.2,847.5 880.0,840.0 875.0,833.8 867.5,827.5 860.0,822.5 855.0,817.0 856.2,811.2 861.2,803.8 861.2,797.5 867.5,791.2"/>
<polygon fill="#e54c04" stroke="#e54c04" stroke-width="2" points="1078.8,687.0 1085.0,683.8 1092.5,682.5 1098.8,687.5 1102.5,696.2 1107.5,701.2 1113.8,706.2 1120.0,712.5 1125.0,720.0 1132.5,725.0 1138.8,732.5 1145.0,738.8 1148.8,746.2 1151.2,755.0 1152.5,762.5 1155.0,770.0 1156.8,773.8 1150.0,772.5 1142.5,770.0 1136.2,766.2 1131.2,768.8 1130.0,775.0 1122.5,778.8 1115.0,783.8 1107.5,787.5 1100.0,792.5 1096.2,797.5 1096.2,802.5 1091.8,808.0 1093.8,813.8 1085.0,812.5 1075.0,811.2 1071.2,813.8 1062.5,815.0 1057.5,810.0 1050.0,807.5 1045.0,807.0 1041.2,802.5 1035.0,798.8 1028.8,796.2 1025.0,790.0 1018.8,786.2 1013.8,786.2 1012.5,778.8 1008.8,772.5 1002.5,770.0 1007.5,750.0 1002.5,725.0 1000.0,712.5 1005.0,707.5 1025.0,705.0 1050.0,697.5 1065.0,686.2 1077.5,682.5"/>
<polygon fill="#e54c04" stroke="#e54c04" stroke-width="2" points="856.2,721.2 860.0,715.0 875.0,700.0 890.0,697.5 910.0,710.0 925.0,702.5 940.0,692.5 957.5,690.0 975.0,697.5 987.5,707.5 1000.0,707.5 1005.0,713.2 1005.0,720.0 1008.8,725.0 1010.0,732.5 1012.5,738.8 1017.5,745.0 1015.0,752.5 1011.2,760.0 1010.0,766.2 1008.8,772.5 1000.0,771.2 992.5,768.8 983.8,770.0 980.0,775.0 972.5,775.0 967.5,780.0 961.2,778.8 958.8,772.5 956.2,767.5 950.0,767.5 947.5,772.5 942.5,777.5 935.0,777.5 928.8,781.2 920.0,780.0 912.5,781.2 905.0,780.0 901.2,777.5 895.0,781.2 888.8,783.8 883.8,788.8 877.5,792.5 872.5,795.0 867.5,791.2 863.8,783.8 856.2,779.5 849.5,776.2 850.0,770.0 853.8,762.5 857.5,755.0 855.0,750.0 856.2,742.5 853.0,735.0 852.5,725.0 856.2,721.2"/>
<polygon fill="#e54c04" stroke="#e54c04" stroke-width="2" points="1022.5,593.8 1023.8,586.2 1030.0,577.5 1036.2,573.8 1042.5,575.0 1050.0,580.0 1053.8,585.0 1061.2,582.5 1062.5,575.0 1067.5,570.0 1073.8,568.8 1080.0,571.2 1087.5,570.0 1095.0,572.5 1100.0,577.5 1105.0,585.0 1112.5,592.5 1117.5,598.8 1118.8,602.5 1113.8,607.5 1110.0,612.5 1107.5,620.0 1102.5,626.2 1097.5,628.8 1092.5,633.8 1086.2,636.2 1083.8,642.5 1076.2,643.8 1070.0,648.8 1065.0,650.0 1060.0,657.5 1058.8,662.5 1062.5,667.5 1068.8,671.2 1072.5,677.5 1075.0,682.5 1078.8,687.0 1075.0,690.0 1070.0,692.5 1065.0,691.2 1062.5,697.5 1056.2,700.0 1050.0,705.0 1045.0,703.8 1040.0,708.8 1032.5,708.8 1027.5,715.0 1022.5,710.0 1015.0,711.2 1010.0,713.8 1005.0,713.2 998.8,712.5 992.5,713.8 985.0,711.2 980.0,703.8 975.0,702.5 970.0,698.8 963.8,696.2 958.8,697.5 953.8,695.0 955.0,690.0 975.0,675.0 985.0,665.0 987.5,647.5 1012.5,637.5 1027.5,632.5 1032.5,615.0 1030.0,600.0 1020.0,597.5"/>
<polygon fill="#e54c04" stroke="#e54c04" stroke-width="2" points="891.2,529.5 900.0,528.8 910.0,530.0 918.8,533.8 925.0,536.2 933.8,542.5 942.5,542.5 950.0,540.0 956.2,536.2 961.2,537.5 963.8,546.2 968.8,553.8 973.8,566.2 982.5,565.0 992.5,562.5 998.8,561.2 1005.0,563.8 1007.5,572.5 1011.2,582.5 1012.5,586.2 1005.0,591.2 1011.2,595.0 1018.8,596.2 1022.5,593.8 1025.0,592.5 1032.5,593.8 1037.5,597.5 1038.8,607.5 1041.2,615.0 1038.8,622.5 1035.0,626.2 1033.8,635.0 1030.0,640.0 1022.5,643.8 1015.0,643.8 1007.5,645.0 1000.0,646.2 993.8,650.0 992.5,660.0 993.8,668.8 991.2,675.0 985.0,673.8 980.0,680.0 975.0,682.5 968.8,687.5 962.5,691.2 956.2,693.8 950.0,696.2 942.5,697.5 937.5,697.5 930.0,677.5 915.0,650.0 905.0,635.0 907.5,625.0 897.5,607.5 897.5,575.0 892.5,550.0 887.5,532.5"/>
<polygon fill="#e54c04" stroke="#e54c04" stroke-width="2" points="788.0,629.5 797.5,625.0 812.5,632.5 825.0,625.0 850.0,630.0 862.5,635.0 870.0,622.5 882.5,615.0 900.0,622.5 912.5,623.8 914.2,628.0 910.0,631.2 907.5,635.0 915.0,637.5 920.0,641.2 918.8,648.8 922.5,655.0 927.5,658.8 931.2,667.5 935.0,675.0 937.5,682.5 940.0,690.0 942.5,697.5 941.2,703.8 935.0,706.2 927.5,707.5 921.2,706.2 915.0,712.5 910.0,716.2 906.2,712.5 900.0,710.0 893.8,706.2 887.5,702.5 882.5,703.8 876.2,706.2 870.0,710.0 867.5,715.0 862.5,717.5 856.2,721.2 850.0,720.0 843.8,717.5 838.8,721.2 832.5,722.5 825.0,720.0 817.5,718.8 811.2,715.0 810.0,708.8 805.0,703.8 800.0,700.0 795.0,698.8 790.0,698.8 785.0,697.5 780.0,685.0 790.0,670.0 786.2,650.0 782.5,632.5"/>
<polygon fill="#fdba74" stroke="#fdba74" stroke-width="2" points="680.0,643.8 677.5,637.5 690.0,622.5 710.0,612.5 725.0,600.0 732.5,590.0 737.5,587.5 757.5,592.5 770.0,600.0 780.0,605.0 786.2,615.0 790.0,625.0 788.0,629.5 786.2,635.0 790.0,643.8 792.5,650.0 791.2,657.5 797.5,668.8 795.0,673.8 790.0,680.0 785.0,685.0 786.2,691.2 790.0,698.8 782.5,700.0 775.0,701.2 770.0,708.8 761.2,713.0 755.0,718.8 752.5,730.0 748.8,736.8 737.5,737.5 727.5,733.8 717.5,730.0 710.0,733.8 701.2,739.5 700.0,750.0 698.8,755.0 700.0,760.0 692.5,765.0 680.0,760.0 672.5,750.0 665.0,735.0 665.0,712.5 675.0,697.5 680.0,690.0 675.0,670.0 675.0,650.0"/>
<polygon fill="#fda802" stroke="#fda802" stroke-width="2" points="853.8,528.5 857.5,522.5 862.5,517.5 868.8,517.5 875.0,522.5 885.0,523.8 891.2,529.5 896.2,536.2 898.8,545.0 897.5,555.0 900.0,565.0 902.5,575.0 901.2,582.5 905.0,592.5 900.0,602.5 903.8,610.0 908.8,617.5 914.2,628.0 907.5,628.8 900.0,627.5 892.5,630.0 886.2,627.5 881.2,621.2 876.2,620.0 873.8,626.2 868.8,630.0 867.5,637.5 865.0,642.5 857.5,643.8 853.8,641.2 850.0,636.2 843.8,635.0 836.2,632.5 828.8,630.0 822.5,631.2 817.5,636.2 813.8,638.8 805.0,635.0 797.5,631.2 788.0,629.5 786.2,623.8 783.8,617.5 780.5,611.2 777.5,610.0 780.0,595.0 782.5,587.5 800.0,585.0 820.0,580.0 835.0,572.5 845.0,560.0 845.0,535.0 850.0,527.5"/>
<polygon fill="#fda802" stroke="#fda802" stroke-width="2" points="835.5,495.8 842.5,498.8 848.8,505.0 850.0,515.0 851.2,525.0 853.8,528.5 850.0,535.0 848.8,542.5 850.0,552.5 848.8,562.5 842.5,566.2 838.8,571.2 837.5,577.5 832.5,582.5 825.0,585.0 817.5,586.2 813.8,590.0 807.5,588.8 801.2,587.5 795.0,590.0 787.5,591.2 782.5,590.0 780.0,562.5 782.5,530.0 787.5,505.0 800.0,500.0 812.5,503.8 825.0,506.2 830.0,497.5"/>
<polygon fill="#fda802" stroke="#fda802" stroke-width="2" points="707.0,511.2 708.8,500.0 712.5,493.8 722.5,491.2 732.5,490.0 742.5,495.0 756.2,492.5 757.5,483.8 755.0,475.0 758.8,470.0 760.0,457.5 758.8,448.8 752.5,447.5 750.0,443.8 755.0,437.5 761.2,433.8 767.5,435.0 772.5,432.5 782.5,437.5 786.2,443.8 791.2,442.5 792.5,436.2 798.8,433.8 801.2,445.0 806.2,446.2 813.8,442.5 817.5,447.5 825.0,448.8 827.5,458.8 830.0,461.2 825.0,466.2 823.8,475.0 827.5,485.0 833.8,493.8 835.5,495.8 831.2,502.5 828.8,512.5 822.5,510.0 816.2,511.2 810.0,507.5 803.8,510.0 797.5,505.0 792.5,505.0 791.2,513.8 786.2,520.0 787.5,530.0 791.2,537.5 786.2,543.8 787.5,552.5 783.8,560.0 783.8,570.0 786.2,580.0 787.5,591.2 786.2,597.5 783.8,603.8 780.5,611.2 775.0,610.0 770.0,605.0 762.5,600.0 757.5,597.5 752.5,598.8 746.2,597.5 741.2,593.8 735.5,592.5 727.5,592.5 725.0,575.0 720.0,557.5 711.2,545.0 710.0,535.0 702.5,525.0 702.5,512.5"/>
<polygon fill="#fda802" stroke="#fda802" stroke-width="2" points="662.0,498.0 668.8,500.0 677.5,502.5 686.2,506.2 690.0,511.2 697.5,508.8 707.0,511.2 708.8,518.8 707.5,525.0 712.5,530.0 718.8,532.5 716.2,540.0 717.5,547.5 725.0,550.0 726.2,560.0 731.2,565.0 733.8,572.5 730.0,580.0 733.8,585.0 735.5,592.5 732.5,598.8 733.8,605.0 725.0,607.5 720.0,611.2 718.8,620.0 712.5,622.5 706.2,618.8 696.2,617.5 695.0,625.0 693.8,631.2 687.5,632.5 685.0,638.8 680.0,643.8 675.0,650.0 650.0,650.0 630.0,642.5 617.5,632.5 600.0,605.0 587.5,577.5 590.0,570.0 595.0,550.0 610.0,535.0 615.0,517.5 635.0,507.5 650.0,497.5"/>
<polygon fill="#e54c04" stroke="#e54c04" stroke-width="2" points="1075.0,1189.5 1080.0,1191.2 1085.0,1188.8 1092.5,1195.0 1100.0,1197.5 1107.5,1202.5 1115.0,1201.2 1122.5,1205.0 1130.0,1210.0 1135.0,1217.5 1138.8,1224.5 1136.2,1232.5 1137.5,1240.0 1133.8,1247.5 1137.5,1255.0 1133.8,1265.0 1130.0,1275.0 1128.8,1282.5 1131.2,1290.0 1128.8,1296.2 1133.8,1303.0 1131.2,1313.8 1123.8,1322.5 1118.8,1327.5 1112.5,1331.2 1106.2,1327.5 1095.0,1328.8 1082.5,1327.5 1070.0,1326.2 1055.0,1325.0 1045.0,1325.0 1036.2,1321.2 1025.0,1315.0 1017.5,1311.2 1010.0,1306.2 1005.0,1300.0 1002.5,1295.0 995.0,1292.5 990.0,1286.2 982.5,1282.5 975.0,1276.2 967.5,1276.2 960.0,1277.5 952.5,1283.8 945.0,1282.5 937.5,1283.8 927.5,1275.0 920.0,1270.0 910.0,1267.5 902.5,1265.0 898.2,1263.0 895.0,1255.0 900.0,1240.0 907.5,1237.5 925.0,1237.5 945.0,1235.0 960.0,1222.5 982.5,1210.0 1000.0,1200.0 1025.0,1205.0 1050.0,1195.0 1072.5,1185.0"/>
<polygon fill="#fdba74" stroke="#fdba74" stroke-width="2" points="972.5,1088.0 977.5,1091.2 982.5,1096.2 990.0,1095.0 995.0,1091.2 998.8,1096.2 1006.2,1097.5 1011.2,1096.2 1017.5,1101.2 1022.5,1107.5 1026.2,1113.8 1032.5,1112.5 1036.2,1105.0 1041.2,1106.2 1046.2,1110.0 1052.5,1115.0 1060.0,1117.5 1065.0,1122.5 1070.0,1126.2 1078.8,1126.2 1076.2,1135.0 1080.0,1142.5 1083.8,1150.0 1077.5,1155.0 1073.8,1160.0 1076.2,1167.5 1082.5,1172.5 1083.8,1180.0 1078.8,1185.0 1075.0,1189.5 1070.0,1192.5 1062.5,1196.2 1053.8,1198.8 1051.2,1206.2 1045.0,1210.0 1037.5,1211.2 1030.0,1210.0 1022.5,1213.8 1012.5,1212.5 1007.5,1208.8 1003.8,1205.0 998.8,1207.5 995.0,1211.2 986.2,1212.5 983.8,1218.8 977.5,1221.2 970.0,1223.8 962.5,1228.8 957.5,1235.0 948.8,1238.8 945.0,1245.0 938.8,1240.0 930.0,1242.5 923.8,1247.5 917.5,1246.2 912.5,1243.8 907.5,1244.5 900.0,1247.5 887.5,1240.0 875.0,1227.5 890.0,1207.5 895.0,1195.0 910.0,1190.0 917.5,1182.5 920.0,1162.5 912.5,1130.0 925.0,1110.0 942.5,1105.0 945.0,1090.0 970.0,1082.5"/>
<polygon fill="#fdba74" stroke="#fdba74" stroke-width="2" points="865.8,1034.5 871.2,1031.2 878.8,1035.0 886.2,1037.5 896.2,1036.2 902.5,1038.8 911.2,1040.0 913.8,1032.5 920.0,1025.0 925.0,1023.8 930.0,1026.2 937.5,1023.8 940.0,1016.2 943.8,1015.0 950.0,1018.8 953.8,1025.0 960.0,1031.2 965.0,1037.5 970.0,1043.8 975.0,1052.5 973.8,1062.5 972.5,1070.0 968.8,1075.0 971.2,1082.5 972.5,1088.0 965.0,1090.0 957.5,1091.2 950.0,1093.8 948.8,1101.2 945.0,1107.5 945.0,1113.8 937.5,1115.0 930.0,1113.8 923.8,1117.5 921.2,1125.0 916.2,1128.8 918.8,1136.2 921.2,1145.0 922.5,1152.5 926.2,1160.0 926.2,1170.0 925.0,1180.0 920.0,1187.5 913.8,1193.0 910.0,1197.5 900.0,1187.5 875.0,1186.2 862.5,1182.5 842.5,1170.0 840.0,1155.0 825.0,1150.0 820.0,1140.0 825.0,1120.0 837.5,1110.0 845.0,1095.0 850.0,1075.0 850.0,1050.0 860.0,1032.5"/>
<polygon fill="#fda802" stroke="#fda802" stroke-width="2" points="737.5,1105.5 750.0,1105.0 765.0,1107.5 785.0,1120.0 800.0,1132.5 822.5,1135.0 823.8,1142.0 830.0,1145.0 836.2,1142.5 843.8,1142.5 846.2,1150.0 845.0,1160.0 850.0,1166.2 857.5,1171.2 863.8,1175.0 867.5,1180.0 873.8,1175.0 881.2,1178.8 888.8,1178.8 895.0,1175.0 901.2,1176.2 902.5,1183.8 910.0,1187.5 913.8,1193.0 908.8,1196.2 900.0,1197.5 898.8,1205.0 896.2,1210.0 893.8,1217.5 890.0,1221.2 883.8,1226.2 883.8,1230.0 891.2,1231.2 893.8,1237.5 902.5,1240.0 907.5,1244.5 906.2,1250.0 902.5,1255.0 900.0,1260.0 898.2,1263.0 892.5,1260.0 887.5,1252.5 880.0,1248.8 872.5,1247.5 865.0,1243.8 855.0,1237.5 847.5,1235.0 840.0,1235.0 833.8,1236.2 830.0,1231.2 827.5,1237.5 825.0,1243.8 812.5,1246.2 805.0,1250.0 800.0,1248.8 800.0,1240.0 796.2,1231.2 790.0,1228.8 780.0,1228.8 773.8,1226.2 771.2,1222.5 762.5,1221.2 757.5,1223.8 755.0,1232.5 752.5,1240.0 752.5,1252.5 753.8,1265.0 751.2,1275.0 752.5,1287.5 748.8,1297.5 747.5,1307.5 750.0,1313.8 748.8,1318.8 743.8,1320.0 733.8,1318.0 725.0,1312.5 715.0,1295.0 695.0,1272.5 680.0,1245.0 665.0,1220.0 657.5,1195.0 665.0,1175.0 675.0,1171.0 682.5,1165.0 695.0,1162.5 690.0,1140.0 712.5,1130.0 717.5,1112.5 735.0,1102.5"/>
<polygon fill="#fda802" stroke="#fda802" stroke-width="2" points="476.2,1323.5 475.0,1318.5 480.0,1298.5 480.0,1266.0 500.0,1258.5 535.0,1256.0 540.0,1241.0 547.5,1226.0 565.0,1233.5 590.0,1256.0 612.5,1276.0 625.0,1298.5 650.0,1298.5 675.0,1326.0 686.2,1346.0 684.5,1354.0 682.5,1363.5 683.8,1376.0 683.8,1386.0 678.8,1391.0 670.0,1391.0 667.5,1383.5 660.0,1382.2 655.0,1374.8 650.0,1377.2 641.2,1382.2 635.0,1378.5 626.2,1376.0 618.8,1367.2 613.8,1369.8 612.5,1379.8 610.0,1388.5 600.0,1391.0 596.2,1396.0 588.8,1397.2 582.5,1402.2 575.0,1397.2 565.0,1393.5 555.0,1388.5 545.0,1387.2 535.0,1386.0 525.0,1384.8 515.0,1386.0 510.0,1379.8 505.0,1373.5 501.2,1368.5 505.0,1363.5 510.0,1358.5 510.0,1353.5 502.5,1348.5 497.5,1341.0 490.0,1337.2 482.5,1333.5 477.5,1327.2 476.2,1323.5"/>
<polygon fill="#fda802" stroke="#fda802" stroke-width="2" points="606.2,1112.5 610.0,1108.5 625.0,1126.0 650.0,1136.0 662.5,1156.0 677.5,1166.0 675.0,1171.0 673.8,1179.8 667.5,1183.5 666.2,1191.0 662.5,1197.2 668.8,1201.0 675.0,1207.2 673.8,1213.5 670.0,1217.2 675.0,1226.0 680.0,1231.0 685.0,1237.2 687.5,1246.0 695.0,1249.8 698.8,1248.5 693.8,1258.5 700.0,1263.5 703.8,1273.5 707.5,1281.0 715.0,1286.0 722.5,1288.5 725.0,1296.0 728.8,1303.5 731.2,1311.0 733.8,1318.0 725.0,1316.0 710.0,1316.0 706.2,1321.0 705.0,1331.0 698.8,1338.5 690.0,1346.0 684.5,1354.0 680.0,1346.0 676.2,1337.2 677.5,1332.2 672.5,1329.8 667.5,1324.8 660.0,1318.5 653.8,1312.2 648.8,1303.5 640.0,1304.8 630.0,1307.2 623.8,1303.5 622.5,1296.0 618.8,1288.5 612.5,1283.5 607.5,1277.2 598.8,1274.8 600.0,1268.5 590.0,1262.2 581.2,1256.0 576.2,1251.0 570.0,1246.0 563.8,1239.8 557.5,1236.0 553.0,1229.0 550.0,1226.0 560.0,1216.0 557.5,1206.0 555.0,1191.0 555.0,1178.5 560.0,1166.0 565.0,1161.0 570.0,1146.0 572.5,1128.5 582.5,1123.5 582.5,1111.0 600.0,1103.5"/>
<polygon fill="#fda802" stroke="#fda802" stroke-width="2" points="420.0,1161.2 425.0,1156.0 450.0,1161.0 462.5,1166.0 490.0,1161.0 512.5,1176.0 537.5,1181.0 562.5,1178.5 562.0,1187.5 565.0,1193.5 563.8,1202.2 568.8,1208.5 570.0,1213.5 565.0,1221.0 557.5,1226.0 553.0,1229.0 550.0,1233.5 545.0,1239.8 546.2,1247.2 541.2,1254.8 543.8,1263.5 542.5,1269.8 535.0,1263.5 525.0,1264.8 515.0,1264.8 502.5,1267.2 492.5,1267.2 485.0,1268.5 486.2,1278.5 485.0,1286.0 488.8,1293.5 491.2,1302.2 487.5,1311.0 486.2,1318.5 480.0,1321.0 476.2,1323.5 467.5,1317.2 457.5,1314.8 448.8,1312.2 446.2,1302.2 440.0,1291.0 432.5,1276.0 427.5,1272.2 415.0,1271.0 408.8,1261.0 403.8,1251.0 398.8,1244.8 391.2,1239.8 387.5,1236.0 378.0,1233.8 372.5,1231.0 375.0,1211.0 385.0,1196.0 387.5,1171.0 407.5,1158.5"/>
<polygon fill="#fdba74" stroke="#fdba74" stroke-width="2" points="820.0,980.0 825.0,986.2 835.0,986.2 842.5,983.8 847.5,981.2 851.2,986.2 857.5,990.0 863.8,993.8 867.5,998.8 862.5,1007.5 860.0,1017.5 858.8,1025.0 862.5,1030.0 865.8,1034.5 860.0,1040.0 853.8,1045.0 852.5,1052.5 856.2,1060.0 855.0,1067.5 857.5,1075.0 862.5,1080.0 855.0,1085.0 852.5,1093.8 847.5,1100.0 843.8,1107.5 840.0,1117.5 832.5,1120.0 828.8,1125.0 826.2,1135.0 823.8,1142.0 812.5,1140.0 805.0,1137.5 795.0,1140.0 790.0,1133.8 785.0,1130.0 780.0,1122.5 772.5,1120.0 763.8,1112.5 755.0,1117.5 748.8,1112.5 738.8,1105.5 727.5,1100.0 725.0,1075.0 730.0,1050.0 730.0,1025.0 735.0,1010.0 737.5,1000.0 750.0,990.0 775.0,982.5 797.5,985.0 810.0,977.5"/>
<polygon fill="#fdba74" stroke="#fdba74" stroke-width="2" points="608.0,917.0 600.0,915.0 605.0,895.0 615.0,882.5 632.5,875.0 650.0,875.0 662.5,877.5 670.0,865.0 690.0,867.5 707.5,870.0 708.0,876.2 713.8,878.8 722.0,882.0 727.5,890.0 735.0,896.2 741.2,900.0 743.8,910.0 750.0,916.2 757.5,921.2 760.0,927.5 770.0,932.5 775.0,938.8 785.0,945.0 792.5,948.8 802.0,953.0 802.5,960.0 810.0,963.8 815.0,967.5 820.0,973.8 820.0,980.0 810.0,985.0 800.0,987.5 797.5,994.5 787.5,987.5 775.0,988.8 762.5,991.2 752.5,992.5 750.0,998.8 741.2,1002.5 740.0,1012.5 738.8,1013.0 725.0,1010.0 697.5,995.0 675.0,1035.0 650.0,1032.5 621.2,1017.5 612.5,1010.0 612.5,997.5 622.5,987.5 625.0,970.0 627.5,955.0 615.0,950.0 600.0,935.0 602.5,920.0"/>
<polygon fill="#fda802" stroke="#fda802" stroke-width="2" points="621.2,1013.8 625.0,1015.0 635.0,1017.5 642.5,1018.8 650.0,1016.2 651.2,1022.5 660.0,1025.0 666.2,1028.8 668.8,1022.5 675.0,1017.5 682.5,1012.5 686.2,1007.5 687.5,997.5 690.0,992.5 696.2,986.2 700.0,988.8 707.5,992.5 715.0,998.8 722.5,997.5 727.5,1005.0 732.5,1011.2 738.8,1013.0 740.0,1020.0 733.8,1023.8 738.8,1035.0 736.2,1050.0 731.2,1065.0 730.0,1077.5 736.2,1085.0 737.5,1092.5 733.8,1097.5 737.5,1105.5 732.5,1107.5 723.8,1108.8 725.0,1115.0 728.8,1120.0 722.5,1125.0 721.2,1133.8 712.5,1136.2 703.8,1140.0 693.8,1137.5 692.5,1142.5 696.2,1150.0 698.8,1155.0 706.2,1157.5 703.8,1165.0 698.8,1172.5 703.8,1177.5 710.0,1183.8 703.8,1183.8 693.8,1178.8 690.0,1181.2 686.2,1175.0 681.2,1168.8 675.0,1170.5 668.8,1166.2 662.5,1160.0 657.5,1157.5 655.0,1151.2 650.0,1147.5 648.8,1140.0 640.0,1137.5 632.5,1135.0 625.0,1133.8 622.5,1125.0 617.5,1120.0 611.2,1120.0 607.5,1115.0 606.2,1112.5 600.0,1110.0 597.5,1095.0 605.0,1082.5 610.0,1072.5 612.5,1050.0 612.5,1025.0 615.0,1010.0"/>
<polygon fill="#fda802" stroke="#fda802" stroke-width="2" points="487.5,1026.2 487.5,1017.5 500.0,1007.5 517.5,1002.5 540.0,1010.0 562.5,997.5 587.5,1005.0 615.0,1005.0 617.5,1015.5 620.0,1020.0 617.5,1027.5 616.2,1036.2 621.2,1042.5 618.8,1052.5 620.0,1060.0 615.0,1066.2 612.5,1072.5 616.2,1078.8 615.0,1085.0 608.8,1086.2 606.2,1093.8 602.5,1100.0 603.8,1107.5 606.2,1112.5 602.5,1110.0 597.5,1110.0 591.2,1112.5 586.2,1117.5 587.5,1123.8 591.2,1127.5 592.5,1133.8 586.2,1135.0 581.2,1131.2 576.2,1133.8 576.2,1142.5 577.5,1150.0 572.5,1155.0 570.0,1161.2 568.0,1164.5 555.0,1167.5 525.0,1152.5 510.0,1130.0 500.0,1110.0 490.0,1095.0 492.5,1075.0 490.0,1052.5 495.0,1042.5 490.0,1032.5"/>
<polygon fill="#fda802" stroke="#fda802" stroke-width="2" points="442.0,1023.8 462.5,1015.0 485.0,1017.5 487.5,1026.2 491.2,1030.0 496.2,1036.2 500.0,1040.0 503.8,1043.8 500.0,1048.8 493.8,1051.2 496.2,1060.0 500.0,1065.0 498.8,1072.5 503.8,1080.0 498.8,1087.5 496.2,1097.5 501.2,1102.5 506.2,1108.8 510.0,1117.5 512.5,1123.8 518.8,1132.5 522.5,1140.0 527.5,1146.2 536.2,1148.8 541.2,1155.0 547.5,1155.0 552.5,1160.0 560.0,1162.5 568.0,1164.5 566.2,1170.0 560.0,1177.5 561.2,1187.5 552.5,1190.0 540.0,1191.2 525.0,1191.2 517.5,1187.5 510.0,1185.0 507.5,1178.8 502.5,1173.8 496.2,1175.0 492.5,1170.0 488.8,1175.0 482.5,1178.8 472.5,1181.2 465.0,1182.5 462.5,1175.0 457.5,1172.5 447.5,1173.8 435.0,1172.5 431.2,1167.5 423.8,1163.8 420.0,1161.2 415.0,1160.0 417.5,1137.5 420.0,1115.0 427.5,1095.0 437.5,1080.0 435.0,1067.5 432.5,1040.0 435.0,1025.0"/>
<polygon fill="#fdba74" stroke="#fdba74" stroke-width="2" points="455.5,927.5 457.5,920.0 470.0,907.5 495.0,897.5 515.0,910.0 530.0,895.0 547.5,887.5 562.5,890.0 590.0,895.0 600.0,910.0 608.0,912.5 608.0,917.0 606.2,925.0 605.0,932.5 610.0,937.5 615.0,943.8 622.5,948.8 631.2,946.2 635.0,955.0 636.2,962.5 630.0,968.8 633.8,977.5 628.8,985.0 630.0,992.5 622.5,996.2 617.5,1000.0 617.5,1007.5 621.2,1013.8 615.0,1012.5 607.5,1010.0 602.5,1013.8 595.0,1017.5 587.5,1017.5 583.8,1011.2 577.5,1008.8 572.5,1005.0 565.0,1005.0 558.8,1007.5 555.0,1015.0 550.0,1016.2 540.0,1016.2 530.0,1017.5 520.0,1016.2 517.5,1010.0 515.0,1007.5 507.5,1008.8 502.5,1013.8 500.0,1020.0 492.5,1022.5 486.2,1025.0 480.0,1023.8 472.5,1022.5 465.0,1020.0 461.2,1022.5 453.8,1020.0 447.5,1022.5 442.0,1023.8 435.0,1022.5 430.0,1010.0 430.0,985.0 420.0,972.5 417.5,967.5 415.0,950.0 430.0,935.0 450.0,925.0"/>
<polygon fill="#fdba74" stroke="#fdba74" stroke-width="2" points="501.2,818.8 512.5,810.0 535.0,810.0 550.0,817.5 565.0,832.5 575.0,850.0 570.0,867.5 562.5,882.5 553.8,891.2 548.8,892.5 543.8,890.0 538.8,893.8 532.5,900.0 527.5,907.5 520.0,915.0 515.0,918.8 510.0,912.5 505.0,910.0 500.0,903.8 496.2,902.5 491.2,907.5 482.5,907.5 475.0,910.0 471.2,915.0 467.5,921.2 460.0,925.0 455.5,927.5 442.5,925.0 445.0,900.0 450.0,875.0 447.5,855.0 450.0,845.0 475.0,842.5 482.5,830.0 497.5,817.5"/>
<polygon fill="#fdba74" stroke="#fdba74" stroke-width="2" points="599.5,748.2 607.5,730.0 637.5,732.5 662.5,747.5 675.0,751.2 683.8,755.0 687.5,761.2 695.0,757.5 698.8,755.0 702.5,765.0 706.2,772.5 711.2,780.0 707.5,785.0 703.8,790.0 695.0,795.0 691.2,800.0 693.8,810.0 696.2,822.5 695.0,830.0 698.8,840.0 700.0,850.0 703.8,857.5 705.0,867.5 708.0,876.2 700.0,878.8 693.8,882.5 690.0,875.0 682.5,876.2 677.5,870.0 671.2,872.5 672.5,880.0 667.5,886.2 662.5,886.2 655.0,888.8 651.2,882.5 642.0,881.2 632.5,867.5 640.0,847.5 640.0,835.0 625.0,812.5 612.5,780.0 592.5,770.0 590.0,760.0 592.5,748.8"/>
<polygon fill="#fdba74" stroke="#fdba74" stroke-width="2" points="575.5,748.8 587.5,740.0 600.0,742.5 599.5,748.2 597.5,755.0 600.0,761.2 595.0,763.8 593.8,767.5 602.5,767.5 607.5,775.0 625.0,800.0 648.8,831.2 650.0,836.2 646.2,842.5 647.5,850.0 641.2,853.8 639.5,862.5 636.2,867.5 638.8,876.2 642.0,881.2 632.5,882.5 628.8,890.0 620.0,887.5 613.8,891.2 617.5,897.5 613.8,902.5 610.0,910.0 608.0,917.0 602.5,917.5 597.5,916.2 596.2,910.0 592.5,903.8 586.2,900.0 578.8,900.0 572.5,896.2 565.0,897.5 555.0,897.5 548.8,892.5 552.5,886.2 558.8,881.2 556.2,873.8 558.8,865.0 565.0,861.2 568.8,855.0 566.2,848.8 567.5,842.5 562.5,836.2 557.5,830.0 552.5,831.2 547.5,825.0 541.2,820.0 536.2,813.0 532.5,810.0 545.0,795.0 552.5,782.5 557.5,767.5 567.5,752.5"/>
<polygon fill="#fdba74" stroke="#fdba74" stroke-width="2" points="625.0,632.0 630.0,636.2 633.8,633.8 637.5,640.0 643.8,636.2 648.8,633.8 652.5,643.8 660.0,646.2 670.0,643.8 680.0,643.8 678.8,650.0 681.2,660.0 677.5,666.2 682.5,672.5 686.2,680.0 682.5,685.0 688.8,691.2 690.0,696.2 682.5,698.8 675.0,703.8 668.8,710.0 670.0,720.0 667.5,730.0 670.0,736.2 675.0,741.2 675.0,751.2 665.0,756.2 660.0,751.2 650.0,747.5 643.8,745.0 637.5,737.5 625.0,738.8 615.0,736.2 607.5,733.8 601.2,737.5 599.5,748.2 593.8,745.0 586.2,745.0 580.0,748.8 575.5,748.8 567.5,740.0 570.0,725.0 567.5,702.5 575.0,692.5 592.5,690.0 592.5,667.5 605.0,657.5 617.5,650.0 620.0,635.0"/>
<polygon fill="#fdba74" stroke="#fdba74" stroke-width="2" points="571.2,698.8 575.0,705.0 580.0,712.5 577.5,722.5 572.5,732.5 570.0,740.5 575.5,748.8 571.2,760.0 565.0,767.5 560.0,777.5 562.5,782.5 556.2,788.8 555.0,797.5 547.5,800.0 542.5,807.5 536.2,813.0 530.0,813.8 522.5,811.2 513.8,813.8 507.5,817.5 501.2,818.8 482.5,810.0 482.5,775.0 475.0,750.0 467.5,730.0 487.5,717.5 497.5,697.5 513.8,692.5 540.0,695.0 571.2,695.0"/>
<polygon fill="#fdba74" stroke="#fdba74" stroke-width="2" points="472.0,733.8 480.0,737.5 482.5,746.2 488.8,752.5 493.8,761.2 488.8,770.0 492.5,777.5 500.0,785.0 491.2,792.5 488.8,800.0 487.5,810.0 495.0,812.5 501.2,818.8 501.2,825.0 496.2,827.5 488.8,826.2 486.2,835.0 480.0,842.5 480.0,847.5 472.5,848.8 463.8,847.5 455.0,846.2 452.5,852.5 456.2,860.0 450.0,865.0 425.0,855.0 415.0,845.0 400.0,837.5 375.0,825.0 350.0,820.0 347.5,805.0 350.0,790.0 367.5,775.0 375.0,757.5 400.0,747.5 425.0,735.0 450.0,725.0"/>
<polygon fill="#e54c04" stroke="#e54c04" stroke-width="2" points="513.8,696.8 502.5,698.8 501.2,710.0 493.8,713.8 492.5,722.5 480.0,725.0 471.2,730.0 472.0,733.8 460.0,730.0 453.8,733.8 447.5,740.0 437.5,743.0 427.5,741.2 420.0,740.0 418.0,746.2 410.0,750.0 402.5,753.8 395.0,756.2 388.8,761.2 380.0,763.8 374.2,766.2 373.8,775.0 371.2,783.8 362.5,788.8 355.0,793.0 352.5,798.8 340.0,805.0 325.0,807.5 312.5,800.0 307.5,750.0 325.0,725.0 350.0,705.0 357.5,682.5 385.0,672.5 395.0,660.0 412.5,657.5 445.0,655.0 450.0,642.5 462.5,637.5 475.0,635.0 485.0,650.0 500.0,665.0 505.0,680.0 515.0,690.0"/>
<polygon fill="#e54c04" stroke="#e54c04" stroke-width="2" points="593.0,576.2 596.2,582.5 600.0,592.5 606.2,602.5 611.2,611.2 616.2,620.0 620.0,626.2 625.0,632.0 626.2,636.2 623.8,641.2 622.5,650.0 623.8,655.0 612.5,657.5 610.0,665.0 599.2,666.2 597.5,675.0 600.0,685.0 597.5,693.8 580.0,696.2 571.2,698.8 562.5,700.0 550.0,701.2 540.0,700.0 532.5,701.2 525.0,698.8 513.8,696.8 512.5,690.0 500.0,682.5 495.0,680.0 497.5,670.0 492.5,665.0 480.0,660.0 476.2,650.0 475.0,638.8 475.0,625.0 480.0,610.0 500.0,600.0 525.0,595.0 550.0,582.5 562.5,571.2 575.0,570.0 592.5,572.5"/>
<polygon fill="#e54c04" stroke="#e54c04" stroke-width="2" points="520.0,515.5 526.2,510.0 537.5,505.0 547.5,500.0 560.0,496.2 565.0,492.5 567.5,485.0 575.0,482.5 585.0,483.8 595.0,480.0 603.8,480.0 607.5,470.0 603.8,465.0 592.5,461.2 585.0,458.8 586.2,451.2 580.0,448.8 573.8,445.0 573.8,438.8 578.8,433.8 576.2,425.0 582.5,418.8 588.8,418.8 592.5,423.8 597.5,425.0 606.2,423.8 612.5,428.8 620.0,430.0 625.0,427.5 631.2,431.2 632.5,423.8 635.0,430.0 642.5,436.2 648.8,437.5 657.5,446.2 656.2,458.8 650.0,470.0 650.0,473.8 660.0,471.2 668.8,467.5 670.0,475.0 666.2,486.2 662.0,498.0 655.0,502.5 648.8,505.0 646.2,516.2 640.0,518.8 631.2,513.8 622.5,516.2 620.0,522.5 621.2,527.5 616.2,531.2 612.5,542.5 613.8,546.2 603.8,550.0 600.0,553.8 600.0,562.5 593.8,570.0 593.0,576.2 592.5,578.8 582.5,577.5 575.0,575.0 565.0,573.0 550.0,565.0 522.5,540.0 515.0,520.0"/>
<polygon fill="#e54c04" stroke="#e54c04" stroke-width="2" points="481.2,542.5 479.5,535.0 481.2,522.5 490.0,520.0 497.5,513.8 507.5,512.5 512.5,515.0 520.0,515.5 518.8,523.8 523.8,527.5 526.2,536.2 532.5,542.5 540.0,550.0 547.5,552.5 552.5,560.0 558.8,566.2 564.5,573.8 565.0,580.0 562.5,586.2 552.5,588.8 548.8,597.5 540.0,596.2 536.2,602.5 525.0,600.0 517.5,602.5 507.5,603.8 503.8,605.0 497.5,605.0 485.0,597.5 480.0,575.0 478.8,560.0 482.5,547.5"/>
<polygon fill="#e54c04" stroke="#e54c04" stroke-width="2" points="407.5,553.0 411.2,550.0 420.0,545.0 427.5,545.0 435.0,547.5 438.8,543.8 450.0,543.0 460.0,545.0 472.5,546.2 473.8,541.2 481.2,542.5 486.2,547.5 486.2,555.0 482.5,560.0 485.0,570.0 483.8,575.0 488.8,585.0 487.5,591.2 493.8,597.5 500.0,600.0 503.8,605.0 497.5,607.5 490.0,610.0 482.5,613.8 481.2,620.0 478.8,630.0 475.0,638.8 470.0,640.0 465.0,643.8 460.0,646.2 455.0,645.0 450.0,646.2 442.5,635.0 425.0,610.0 410.0,580.0 407.5,562.5"/>
<polygon fill="#e54c04" stroke="#e54c04" stroke-width="2" points="347.5,590.0 348.8,585.0 350.0,575.0 353.8,576.2 358.8,586.2 371.2,592.5 380.0,582.5 386.2,577.5 385.0,572.5 391.2,567.5 390.0,555.0 395.0,551.2 407.5,553.0 411.2,562.5 413.8,567.5 411.2,572.5 417.5,581.2 422.5,590.0 427.5,596.2 431.2,602.5 428.8,610.0 435.0,615.0 442.5,620.0 445.0,630.0 447.5,637.5 450.0,646.2 448.8,652.5 452.5,660.0 447.5,663.8 438.8,665.0 431.2,668.8 420.0,663.8 410.0,665.0 405.0,668.8 397.5,665.0 385.0,650.0 375.0,630.0 357.5,610.0 347.5,597.5"/>
<polygon fill="#e54c04" stroke="#e54c04" stroke-width="2" points="240.0,665.5 247.5,663.8 252.5,657.5 258.8,650.0 260.0,640.0 262.5,628.8 267.5,628.8 275.0,630.0 285.0,626.2 292.5,628.8 303.8,628.8 306.2,621.2 310.0,615.0 312.5,605.0 318.8,597.5 326.2,596.2 328.8,601.2 336.2,600.0 336.2,592.5 342.5,588.8 347.5,590.0 350.0,596.2 360.0,601.2 366.2,603.8 363.8,610.0 368.8,611.2 375.0,617.5 380.0,623.8 385.0,628.8 386.2,636.2 392.5,641.2 395.0,650.0 397.5,660.0 397.5,665.0 392.5,668.8 390.0,677.5 391.2,681.2 382.5,680.0 376.2,685.0 362.5,687.5 362.5,693.8 366.2,700.0 361.2,703.8 360.0,712.5 356.2,713.8 355.0,720.0 346.2,722.5 345.0,727.5 337.5,723.8 332.5,727.5 325.0,733.8 320.0,737.5 317.0,746.2 300.0,725.0 300.0,700.0 275.0,687.5 245.0,675.0"/>
<polygon fill="#e54c04" stroke="#e54c04" stroke-width="2" points="423.8,847.5 435.0,847.5 440.0,855.0 456.2,860.0 459.5,870.0 457.5,877.5 460.0,885.0 453.8,888.8 452.5,900.0 450.0,910.0 452.5,918.8 447.5,925.0 455.0,927.5 445.0,935.0 435.0,937.5 425.0,943.8 420.0,951.2 422.5,956.2 430.0,958.8 422.5,962.5 423.8,971.2 400.0,975.0 380.0,950.0 370.0,935.0 370.0,900.0 375.0,870.0 400.0,847.5"/>
<polygon fill="#e54c04" stroke="#e54c04" stroke-width="2" points="241.2,851.2 250.0,825.0 275.0,810.0 303.8,822.5 320.0,800.0 325.0,802.5 327.5,793.0 332.5,790.0 335.0,796.2 340.0,791.2 346.2,797.5 352.5,798.8 355.0,806.2 351.2,815.0 360.0,817.5 372.5,816.2 380.0,822.5 390.0,827.5 400.0,831.2 410.0,831.2 417.5,836.2 423.8,847.5 415.0,850.0 410.0,856.2 400.0,853.8 397.5,860.0 386.2,863.8 382.5,872.5 380.0,882.5 382.5,892.5 377.5,900.0 381.2,903.8 375.0,915.0 380.0,925.0 373.8,935.0 350.0,950.0 312.5,965.0 275.0,962.5 260.0,960.0 250.0,925.0 245.0,875.0"/>
<polygon fill="#e54c04" stroke="#e54c04" stroke-width="2" points="260.0,960.0 268.8,958.8 275.0,953.8 282.5,950.0 291.2,948.8 295.0,953.8 300.0,958.8 312.5,958.8 318.8,951.2 325.0,947.5 350.0,937.5 367.5,933.8 373.8,935.0 380.0,938.8 386.2,943.8 385.0,950.0 395.0,953.8 397.5,960.0 395.0,967.5 402.5,970.0 410.0,967.5 412.5,972.5 423.8,971.2 430.0,977.5 436.2,982.5 436.2,997.5 433.8,1007.5 440.0,1015.0 442.5,1022.5 440.0,1032.5 437.5,1040.0 441.2,1050.0 442.5,1057.5 438.8,1066.2 400.0,1065.0 362.5,1055.0 350.0,1040.0 336.2,1042.5 325.0,1020.0 300.0,1022.5 290.0,1025.0 275.0,1017.5 272.5,995.0 262.5,982.5 247.5,977.5 250.0,967.5"/>
<polygon fill="#e54c04" stroke="#e54c04" stroke-width="2" points="290.0,1021.8 300.0,1016.2 310.0,1013.8 318.8,1012.5 327.5,1011.2 333.8,1015.0 332.5,1022.5 333.8,1032.5 340.0,1036.2 345.0,1027.5 352.5,1026.2 360.0,1030.0 366.2,1037.5 360.0,1043.8 365.0,1048.8 375.0,1052.5 386.2,1055.0 395.0,1051.2 405.0,1057.5 420.0,1060.0 430.0,1062.5 438.8,1066.2 441.2,1072.5 445.0,1080.0 443.8,1087.5 435.0,1097.5 430.0,1107.5 430.0,1115.0 423.8,1117.5 425.0,1125.0 420.0,1132.5 422.5,1142.5 425.0,1150.0 420.0,1161.2 410.0,1165.0 400.0,1170.0 393.8,1167.5 392.5,1175.0 395.0,1187.5 396.2,1197.5 390.0,1205.0 383.8,1210.0 381.2,1222.5 377.5,1233.8 370.0,1236.2 368.8,1246.2 360.0,1238.8 350.0,1231.2 343.8,1220.0 340.0,1207.5 335.0,1197.5 322.5,1185.0 312.5,1177.5 302.5,1177.5 292.5,1171.2 285.0,1162.5 285.0,1155.0 270.0,1140.0 265.0,1127.5 255.0,1117.5 250.0,1110.0 248.8,1102.5 270.0,1092.5 272.5,1050.0 282.5,1025.0"/>
<polygon fill="#e54c04" stroke="#e54c04" stroke-width="2" points="135.0,980.0 150.0,975.0 175.0,967.5 215.0,965.0 243.8,966.2 247.5,973.0 248.8,983.8 252.5,977.5 262.5,974.5 271.2,976.2 277.5,982.5 281.2,988.8 283.8,996.2 286.2,1000.0 280.0,1005.0 278.8,1010.0 283.8,1016.2 290.0,1021.8 285.0,1030.0 283.8,1041.2 277.5,1043.8 276.2,1050.0 281.2,1055.0 282.5,1062.5 287.5,1066.2 281.2,1072.5 281.2,1081.2 278.8,1090.0 278.8,1096.2 271.2,1097.5 265.0,1100.0 257.5,1097.5 251.2,1098.8 248.8,1102.5 240.0,1093.8 232.5,1088.8 225.0,1085.5 213.8,1085.0 213.8,1088.8 200.0,1085.5 187.5,1083.8 183.8,1075.0 180.0,1065.0 172.5,1056.2 166.2,1052.0 156.2,1048.8 152.5,1035.0 151.2,1030.0 153.0,1012.5 146.2,1008.8 138.8,1002.5 136.2,992.5 135.0,980.0"/>
<polygon fill="#e54c04" stroke="#e54c04" stroke-width="2" points="135.0,862.5 150.0,850.0 200.0,845.0 225.0,847.5 241.2,851.2 246.2,858.8 251.2,867.5 257.5,877.5 253.8,890.0 265.0,896.2 271.2,906.2 266.2,915.0 270.0,923.8 275.0,928.8 265.0,935.0 258.8,942.5 265.0,948.8 260.0,956.2 260.0,960.0 255.0,967.5 247.5,972.5 243.8,968.8 235.0,967.5 225.0,967.0 217.5,970.0 213.8,980.0 207.5,975.0 200.0,972.5 190.0,975.0 180.0,972.5 176.2,975.0 162.5,981.2 153.8,987.0 150.0,982.5 135.0,980.0 132.5,975.0 125.0,972.5 123.8,962.5 125.0,955.0 123.8,948.8 112.5,945.0 102.5,935.0 95.0,921.2 97.5,915.0 110.0,907.5 113.8,900.0 115.0,888.8 122.5,880.0 125.0,871.2 135.0,862.5"/>
<polygon fill="#fda802" stroke="#fda802" stroke-width="2" points="167.0,663.8 175.0,661.2 178.8,667.5 186.2,656.2 200.0,650.0 208.8,646.2 215.0,650.0 240.0,665.5 250.0,672.5 268.8,675.0 278.8,681.2 281.2,688.8 287.5,690.0 305.0,688.8 311.2,697.5 310.0,707.5 306.2,715.0 310.0,725.0 312.5,736.2 318.8,750.0 323.8,762.5 320.0,770.0 311.2,775.0 320.0,780.0 325.0,790.0 322.5,797.5 325.0,802.5 317.5,808.8 311.2,815.0 310.0,822.5 306.2,830.0 295.0,822.5 275.0,816.2 265.0,825.0 250.0,835.0 240.0,840.0 241.2,850.0 230.0,857.5 222.5,853.8 212.5,856.2 202.5,850.0 190.0,825.0 200.0,800.0 197.5,755.0 175.0,712.5 160.0,675.0"/>
<polygon fill="#fda802" stroke="#fda802" stroke-width="2" points="98.0,711.5 101.2,706.2 102.5,697.5 110.0,692.5 115.0,686.2 123.8,682.5 125.0,675.0 131.2,668.0 142.5,666.2 150.0,663.8 160.0,661.2 167.0,663.8 170.5,672.5 165.5,681.2 172.0,687.5 168.0,700.0 176.2,705.5 185.0,716.2 192.5,727.5 193.8,741.2 198.8,750.0 208.8,753.8 212.5,760.0 206.2,763.8 212.5,772.5 218.8,775.0 214.5,782.5 207.5,792.5 203.0,798.8 205.5,810.0 175.0,810.0 140.0,805.0 115.0,775.0 117.5,725.0"/>
<polygon fill="#fda802" stroke="#fda802" stroke-width="2" points="27.5,695.0 40.0,695.0 47.5,695.5 50.0,700.0 51.8,706.2 53.0,713.8 63.8,716.2 67.0,721.2 63.8,725.0 68.8,731.2 73.8,738.8 72.5,748.8 76.2,753.0 81.2,753.0 83.8,745.0 82.5,736.2 85.0,728.8 91.2,720.0 98.0,711.5 107.5,717.5 117.5,725.0 125.0,736.2 126.2,748.8 123.8,755.0 127.5,760.0 122.5,766.2 121.2,776.2 130.0,780.0 135.0,790.0 143.8,795.0 147.5,802.0 155.0,803.0 161.2,796.2 170.0,800.0 178.8,797.0 186.2,800.0 193.8,806.2 200.0,808.8 205.0,811.2 197.5,817.5 192.5,822.5 193.8,832.5 200.0,842.5 202.5,850.0 190.0,852.5 175.0,853.8 172.5,857.5 155.0,858.8 147.5,861.2 135.0,862.5 127.5,852.5 116.2,847.5 120.0,836.2 107.5,827.5 96.2,816.2 82.5,808.8 75.0,800.0 65.0,797.5 58.8,785.0 50.0,775.0 48.8,763.8 52.5,755.0 46.2,743.8 37.5,731.2 23.8,722.5 26.2,716.2 32.5,710.0 31.2,698.8 27.5,695.0"/>
<polygon fill="#e54c04" stroke="#e54c04" stroke-width="2" points="321.2,932.5 327.5,926.2 330.0,918.8 337.5,915.0 338.8,908.8 345.0,907.0 350.0,908.8 351.2,915.0 356.2,917.5 360.0,923.8 366.2,925.0 367.5,933.8 360.0,941.2 358.8,948.8 360.0,955.0 355.0,956.2 350.0,952.5 335.0,953.8 330.0,953.8 328.8,945.0 322.5,941.2"/>
<polygon fill="#e54c04" stroke="#e54c04" stroke-width="2" points="562.5,792.5 572.5,790.0 577.5,785.0 583.8,783.8 586.2,788.8 593.8,787.5 597.5,778.8 605.0,777.5 608.8,772.5 620.0,767.5 631.2,767.5 637.5,765.0 641.2,770.0 650.0,775.0 656.2,775.0 657.5,780.0 665.0,786.2 671.2,788.8 672.5,795.0 681.2,798.8 681.2,805.0 671.2,810.0 665.0,813.8 671.2,817.5 672.5,825.0 670.0,831.2 662.5,835.0 655.0,833.8 648.8,831.2 640.0,833.8 630.0,838.8 620.0,842.5 607.5,847.5 602.5,852.5 595.0,853.8 587.5,850.0 590.0,843.8 586.2,837.5 581.2,833.8 583.8,825.0 576.2,822.5 573.8,815.0 568.8,810.0 572.5,805.0 570.0,797.5 562.5,792.5"/>
<polygon fill="#fda802" stroke="#fda802" stroke-width="2" points="1547.8,879.8 1550.8,872.8 1553.8,868.8 1559.8,871.8 1571.7,870.8 1573.7,868.8 1579.7,867.8 1585.7,863.8 1591.6,861.8 1595.6,859.8 1597.1,854.9 1599.6,853.4 1602.6,854.9 1602.6,859.8 1599.6,863.8 1605.6,862.8 1607.6,866.8 1608.6,873.8 1613.5,878.8 1614.5,887.7 1610.6,895.7 1609.6,902.7 1603.6,903.7 1598.6,904.7 1599.6,911.6 1593.6,915.6 1589.6,922.6 1585.7,922.6 1582.7,918.6 1573.7,919.6 1568.7,917.6 1565.7,911.6 1559.8,907.6 1557.8,901.7 1558.8,895.7 1555.8,891.7 1554.8,883.7"/>
<polygon fill="#e54c04" stroke="#e54c04" stroke-width="2" points="1126.2,1137.2 1130.0,1131.0 1131.2,1122.2 1133.8,1114.8 1140.0,1116.0 1147.5,1121.0 1151.2,1126.0 1156.2,1124.8 1160.0,1119.8 1165.0,1114.8 1170.0,1111.0 1175.0,1112.2 1180.0,1121.0 1183.8,1127.2 1187.5,1133.5 1193.8,1133.5 1198.8,1128.5 1201.2,1129.8 1200.0,1138.5 1198.8,1147.2 1195.0,1152.2 1197.5,1159.8 1197.5,1167.2 1193.8,1172.2 1187.5,1176.0 1181.2,1177.2 1178.8,1171.0 1180.0,1166.0 1175.0,1168.5 1168.8,1167.2 1165.0,1161.0 1160.0,1162.2 1156.2,1157.2 1150.0,1154.8 1143.8,1152.2 1140.0,1147.2 1133.8,1147.2 1130.0,1141.0"/>
<polyline class="k2" points="562.5,792.5 572.5,790.0 577.5,785.0 583.8,783.8 586.2,788.8 593.8,787.5 597.5,778.8 605.0,777.5 608.8,772.5 620.0,767.5 631.2,767.5 637.5,765.0 641.2,770.0 650.0,775.0 656.2,775.0 657.5,780.0 665.0,786.2 671.2,788.8 672.5,795.0 681.2,798.8 681.2,805.0 671.2,810.0 665.0,813.8 671.2,817.5 672.5,825.0 670.0,831.2 662.5,835.0 655.0,833.8 648.8,831.2 640.0,833.8 630.0,838.8 620.0,842.5 607.5,847.5 602.5,852.5 595.0,853.8 587.5,850.0 590.0,843.8 586.2,837.5 581.2,833.8 583.8,825.0 576.2,822.5 573.8,815.0 568.8,810.0 572.5,805.0 570.0,797.5 562.5,792.5"/>
<polyline class="k2" points="27.5,695.0 40.0,695.0 47.5,695.5 50.0,700.0 51.8,706.2 53.0,713.8 63.8,716.2 67.0,721.2 63.8,725.0 68.8,731.2 73.8,738.8 72.5,748.8 76.2,753.0 81.2,753.0 83.8,745.0 82.5,736.2 85.0,728.8 91.2,720.0 98.0,711.5"/>
<polyline class="k2" points="190.0,852.5 175.0,853.8 172.5,857.5 155.0,858.8 147.5,861.2 135.0,862.5 127.5,852.5 116.2,847.5 120.0,836.2 107.5,827.5 96.2,816.2 82.5,808.8 75.0,800.0 65.0,797.5 58.8,785.0 50.0,775.0 48.8,763.8 52.5,755.0 46.2,743.8 37.5,731.2 23.8,722.5 26.2,716.2 32.5,710.0 31.2,698.8 27.5,695.0"/>
<polyline class="k2" points="98.0,711.5 101.2,706.2 102.5,697.5 110.0,692.5 115.0,686.2 123.8,682.5 125.0,675.0 131.2,668.0 142.5,666.2 150.0,663.8 160.0,661.2 167.0,663.8"/>
<polyline class="k2" points="167.0,663.8 175.0,661.2 178.8,667.5 186.2,656.2 200.0,650.0 208.8,646.2 215.0,650.0 240.0,665.5 250.0,672.5 268.8,675.0 278.8,681.2 281.2,688.8 287.5,690.0 305.0,688.8 311.2,697.5 310.0,707.5 306.2,715.0 310.0,725.0 312.5,736.2 318.8,750.0 323.8,762.5 320.0,770.0 311.2,775.0 320.0,780.0 325.0,790.0 322.5,797.5 325.0,802.5 317.5,808.8 311.2,815.0 310.0,822.5 306.2,830.0 295.0,822.5 275.0,816.2 265.0,825.0 250.0,835.0 240.0,840.0 241.2,850.0 230.0,857.5 222.5,853.8 212.5,856.2 202.5,850.0"/>
<polyline class="k2" points="135.0,980.0 132.5,975.0 125.0,972.5 123.8,962.5 125.0,955.0 123.8,948.8 112.5,945.0 102.5,935.0 95.0,921.2 97.5,915.0 110.0,907.5 113.8,900.0 115.0,888.8 122.5,880.0 125.0,871.2 135.0,862.5"/>
<polyline class="k2" points="248.8,1102.5 240.0,1093.8 232.5,1088.8 225.0,1085.5 213.8,1085.0 213.8,1088.8 200.0,1085.5 187.5,1083.8 183.8,1075.0 180.0,1065.0 172.5,1056.2 166.2,1052.0 156.2,1048.8 152.5,1035.0 151.2,1030.0 153.0,1012.5 146.2,1008.8 138.8,1002.5 136.2,992.5 135.0,980.0"/>
<polyline class="k2" points="438.8,1066.2 441.2,1072.5 445.0,1080.0 443.8,1087.5 435.0,1097.5 430.0,1107.5 430.0,1115.0 423.8,1117.5 425.0,1125.0 420.0,1132.5 422.5,1142.5 425.0,1150.0 420.0,1161.2 410.0,1165.0 400.0,1170.0 393.8,1167.5 392.5,1175.0 395.0,1187.5 396.2,1197.5 390.0,1205.0 383.8,1210.0 381.2,1222.5 377.5,1233.8 370.0,1236.2 368.8,1246.2 360.0,1238.8 350.0,1231.2 343.8,1220.0 340.0,1207.5 335.0,1197.5 322.5,1185.0 312.5,1177.5 302.5,1177.5 292.5,1171.2 285.0,1162.5 285.0,1155.0 270.0,1140.0 265.0,1127.5 255.0,1117.5 250.0,1110.0 248.8,1102.5"/>
<polyline class="k2" points="423.8,971.2 430.0,977.5 436.2,982.5 436.2,997.5 433.8,1007.5 440.0,1015.0 442.5,1022.5 440.0,1032.5 437.5,1040.0 441.2,1050.0 442.5,1057.5 438.8,1066.2"/>
<polyline class="k2" points="325.0,802.5 327.5,793.0 332.5,790.0 335.0,796.2 340.0,791.2 346.2,797.5 352.5,798.8 355.0,806.2 351.2,815.0 360.0,817.5 372.5,816.2 380.0,822.5 390.0,827.5 400.0,831.2 410.0,831.2 417.5,836.2 423.8,847.5"/>
<polyline class="k2" points="423.8,847.5 435.0,847.5 440.0,855.0 456.2,860.0 459.5,870.0 457.5,877.5 460.0,885.0 453.8,888.8 452.5,900.0 450.0,910.0 452.5,918.8 447.5,925.0 455.0,927.5 445.0,935.0 435.0,937.5 425.0,943.8 420.0,951.2 422.5,956.2 430.0,958.8 422.5,962.5 423.8,971.2"/>
<polyline class="k2" points="240.0,665.5 247.5,663.8 252.5,657.5 258.8,650.0 260.0,640.0 262.5,628.8 267.5,628.8 275.0,630.0 285.0,626.2 292.5,628.8 303.8,628.8 306.2,621.2 310.0,615.0 312.5,605.0 318.8,597.5 326.2,596.2 328.8,601.2 336.2,600.0 336.2,592.5 342.5,588.8 347.5,590.0"/>
<polyline class="k2" points="347.5,590.0 348.8,585.0 350.0,575.0 353.8,576.2 358.8,586.2 371.2,592.5 380.0,582.5 386.2,577.5 385.0,572.5 391.2,567.5 390.0,555.0 395.0,551.2 407.5,553.0"/>
<polyline class="k2" points="407.5,553.0 411.2,550.0 420.0,545.0 427.5,545.0 435.0,547.5 438.8,543.8 450.0,543.0 460.0,545.0 472.5,546.2 473.8,541.2 481.2,542.5"/>
<polyline class="k2" points="481.2,542.5 479.5,535.0 481.2,522.5 490.0,520.0 497.5,513.8 507.5,512.5 512.5,515.0 520.0,515.5"/>
<polyline class="k2" points="520.0,515.5 526.2,510.0 537.5,505.0 547.5,500.0 560.0,496.2 565.0,492.5 567.5,485.0 575.0,482.5 585.0,483.8 595.0,480.0 603.8,480.0 607.5,470.0 603.8,465.0 592.5,461.2 585.0,458.8 586.2,451.2 580.0,448.8 573.8,445.0 573.8,438.8 578.8,433.8 576.2,425.0 582.5,418.8 588.8,418.8 592.5,423.8 597.5,425.0 606.2,423.8 612.5,428.8 620.0,430.0 625.0,427.5 631.2,431.2 632.5,423.8 635.0,430.0 642.5,436.2 648.8,437.5 657.5,446.2 656.2,458.8 650.0,470.0 650.0,473.8 660.0,471.2 668.8,467.5 670.0,475.0 666.2,486.2 662.0,498.0 655.0,502.5 648.8,505.0 646.2,516.2 640.0,518.8 631.2,513.8 622.5,516.2 620.0,522.5 621.2,527.5 616.2,531.2 612.5,542.5 613.8,546.2 603.8,550.0 600.0,553.8 600.0,562.5 593.8,570.0 593.0,576.2"/>
<polyline class="k2" points="593.0,576.2 596.2,582.5 600.0,592.5 606.2,602.5 611.2,611.2 616.2,620.0 620.0,626.2 625.0,632.0 626.2,636.2 623.8,641.2 622.5,650.0 623.8,655.0 612.5,657.5 610.0,665.0 599.2,666.2 597.5,675.0 600.0,685.0 597.5,693.8 580.0,696.2 571.2,698.8 562.5,700.0 550.0,701.2 540.0,700.0 532.5,701.2 525.0,698.8 513.8,696.8"/>
<polyline class="k2" points="513.8,696.8 502.5,698.8 501.2,710.0 493.8,713.8 492.5,722.5 480.0,725.0 471.2,730.0 472.0,733.8 460.0,730.0 453.8,733.8 447.5,740.0 437.5,743.0 427.5,741.2 420.0,740.0 418.0,746.2 410.0,750.0 402.5,753.8 395.0,756.2 388.8,761.2 380.0,763.8 374.2,766.2 373.8,775.0 371.2,783.8 362.5,788.8 355.0,793.0 352.5,798.8"/>
<polyline class="k2" points="625.0,632.0 630.0,636.2 633.8,633.8 637.5,640.0 643.8,636.2 648.8,633.8 652.5,643.8 660.0,646.2 670.0,643.8 680.0,643.8"/>
<polyline class="k2" points="621.2,1013.8 615.0,1012.5 607.5,1010.0 602.5,1013.8 595.0,1017.5 587.5,1017.5 583.8,1011.2 577.5,1008.8 572.5,1005.0 565.0,1005.0 558.8,1007.5 555.0,1015.0 550.0,1016.2 540.0,1016.2 530.0,1017.5 520.0,1016.2 517.5,1010.0 515.0,1007.5 507.5,1008.8 502.5,1013.8 500.0,1020.0 492.5,1022.5 486.2,1025.0 480.0,1023.8 472.5,1022.5 465.0,1020.0 461.2,1022.5 453.8,1020.0 447.5,1022.5 442.0,1023.8"/>
<polyline class="k2" points="621.2,1013.8 625.0,1015.0 635.0,1017.5 642.5,1018.8 650.0,1016.2 651.2,1022.5 660.0,1025.0 666.2,1028.8 668.8,1022.5 675.0,1017.5 682.5,1012.5 686.2,1007.5 687.5,997.5 690.0,992.5 696.2,986.2 700.0,988.8 707.5,992.5 715.0,998.8 722.5,997.5 727.5,1005.0 732.5,1011.2 738.8,1013.0 740.0,1020.0 733.8,1023.8 738.8,1035.0 736.2,1050.0 731.2,1065.0 730.0,1077.5 736.2,1085.0 737.5,1092.5 733.8,1097.5 737.5,1105.5"/>
<polyline class="k2" points="802.0,953.0 802.5,960.0 810.0,963.8 815.0,967.5 820.0,973.8 820.0,980.0 810.0,985.0 800.0,987.5 797.5,994.5 787.5,987.5 775.0,988.8 762.5,991.2 752.5,992.5 750.0,998.8 741.2,1002.5 740.0,1012.5 738.8,1013.0"/>
<polyline class="k2" points="823.8,1142.0 812.5,1140.0 805.0,1137.5 795.0,1140.0 790.0,1133.8 785.0,1130.0 780.0,1122.5 772.5,1120.0 763.8,1112.5 755.0,1117.5 748.8,1112.5 738.8,1105.5"/>
<polyline class="k2" points="476.2,1323.5 467.5,1317.2 457.5,1314.8 448.8,1312.2 446.2,1302.2 440.0,1291.0 432.5,1276.0 427.5,1272.2 415.0,1271.0 408.8,1261.0 403.8,1251.0 398.8,1244.8 391.2,1239.8 387.5,1236.0 378.0,1233.8"/>
<polyline class="k2" points="733.8,1318.0 725.0,1316.0 710.0,1316.0 706.2,1321.0 705.0,1331.0 698.8,1338.5 690.0,1346.0 684.5,1354.0"/>
<polyline class="k2" points="684.5,1354.0 682.5,1363.5 683.8,1376.0 683.8,1386.0 678.8,1391.0 670.0,1391.0 667.5,1383.5 660.0,1382.2 655.0,1374.8 650.0,1377.2 641.2,1382.2 635.0,1378.5 626.2,1376.0 618.8,1367.2 613.8,1369.8 612.5,1379.8 610.0,1388.5 600.0,1391.0 596.2,1396.0 588.8,1397.2 582.5,1402.2 575.0,1397.2 565.0,1393.5 555.0,1388.5 545.0,1387.2 535.0,1386.0 525.0,1384.8 515.0,1386.0 510.0,1379.8 505.0,1373.5 501.2,1368.5 505.0,1363.5 510.0,1358.5 510.0,1353.5 502.5,1348.5 497.5,1341.0 490.0,1337.2 482.5,1333.5 477.5,1327.2 476.2,1323.5"/>
<polyline class="k2" points="823.8,1142.0 830.0,1145.0 836.2,1142.5 843.8,1142.5 846.2,1150.0 845.0,1160.0 850.0,1166.2 857.5,1171.2 863.8,1175.0 867.5,1180.0 873.8,1175.0 881.2,1178.8 888.8,1178.8 895.0,1175.0 901.2,1176.2 902.5,1183.8 910.0,1187.5 913.8,1193.0 908.8,1196.2 900.0,1197.5 898.8,1205.0 896.2,1210.0 893.8,1217.5 890.0,1221.2 883.8,1226.2 883.8,1230.0 891.2,1231.2 893.8,1237.5 902.5,1240.0 907.5,1244.5 906.2,1250.0 902.5,1255.0 900.0,1260.0 898.2,1263.0 892.5,1260.0 887.5,1252.5 880.0,1248.8 872.5,1247.5 865.0,1243.8 855.0,1237.5 847.5,1235.0 840.0,1235.0 833.8,1236.2 830.0,1231.2 827.5,1237.5 825.0,1243.8 812.5,1246.2 805.0,1250.0 800.0,1248.8 800.0,1240.0 796.2,1231.2 790.0,1228.8 780.0,1228.8 773.8,1226.2 771.2,1222.5 762.5,1221.2 757.5,1223.8 755.0,1232.5 752.5,1240.0 752.5,1252.5 753.8,1265.0 751.2,1275.0 752.5,1287.5 748.8,1297.5 747.5,1307.5 750.0,1313.8 748.8,1318.8 743.8,1320.0 733.8,1318.0"/>
<polyline class="k2" points="1078.8,1126.2 1076.2,1135.0 1080.0,1142.5 1083.8,1150.0 1077.5,1155.0 1073.8,1160.0 1076.2,1167.5 1082.5,1172.5 1083.8,1180.0 1078.8,1185.0 1075.0,1189.5 1070.0,1192.5 1062.5,1196.2 1053.8,1198.8 1051.2,1206.2 1045.0,1210.0 1037.5,1211.2 1030.0,1210.0 1022.5,1213.8 1012.5,1212.5 1007.5,1208.8 1003.8,1205.0 998.8,1207.5 995.0,1211.2 986.2,1212.5 983.8,1218.8 977.5,1221.2 970.0,1223.8 962.5,1228.8 957.5,1235.0 948.8,1238.8 945.0,1245.0 938.8,1240.0 930.0,1242.5 923.8,1247.5 917.5,1246.2 912.5,1243.8 907.5,1244.5"/>
<polyline class="k2" points="1133.8,1303.0 1131.2,1313.8 1123.8,1322.5 1118.8,1327.5 1112.5,1331.2 1106.2,1327.5 1095.0,1328.8 1082.5,1327.5 1070.0,1326.2 1055.0,1325.0 1045.0,1325.0 1036.2,1321.2 1025.0,1315.0 1017.5,1311.2 1010.0,1306.2 1005.0,1300.0 1002.5,1295.0 995.0,1292.5 990.0,1286.2 982.5,1282.5 975.0,1276.2 967.5,1276.2 960.0,1277.5 952.5,1283.8 945.0,1282.5 937.5,1283.8 927.5,1275.0 920.0,1270.0 910.0,1267.5 902.5,1265.0 898.2,1263.0"/>
<polyline class="k2" points="662.0,498.0 668.8,500.0 677.5,502.5 686.2,506.2 690.0,511.2 697.5,508.8 707.0,511.2"/>
<polyline class="k2" points="735.5,592.5 732.5,598.8 733.8,605.0 725.0,607.5 720.0,611.2 718.8,620.0 712.5,622.5 706.2,618.8 696.2,617.5 695.0,625.0 693.8,631.2 687.5,632.5 685.0,638.8 680.0,643.8"/>
<polyline class="k2" points="707.0,511.2 708.8,500.0 712.5,493.8 722.5,491.2 732.5,490.0 742.5,495.0 756.2,492.5 757.5,483.8 755.0,475.0 758.8,470.0 760.0,457.5 758.8,448.8 752.5,447.5 750.0,443.8 755.0,437.5 761.2,433.8 767.5,435.0 772.5,432.5 782.5,437.5 786.2,443.8 791.2,442.5 792.5,436.2 798.8,433.8 801.2,445.0 806.2,446.2 813.8,442.5 817.5,447.5 825.0,448.8 827.5,458.8 830.0,461.2 825.0,466.2 823.8,475.0 827.5,485.0 833.8,493.8 835.5,495.8"/>
<polyline class="k2" points="780.5,611.2 775.0,610.0 770.0,605.0 762.5,600.0 757.5,597.5 752.5,598.8 746.2,597.5 741.2,593.8 735.5,592.5"/>
<polyline class="k2" points="835.5,495.8 842.5,498.8 848.8,505.0 850.0,515.0 851.2,525.0 853.8,528.5"/>
<polyline class="k2" points="857.5,522.5 862.5,517.5 868.8,517.5 875.0,522.5 885.0,523.8 891.2,529.5 896.2,536.2 898.8,545.0 897.5,555.0 900.0,565.0 902.5,575.0 901.2,582.5 905.0,592.5 900.0,602.5 903.8,610.0 908.8,617.5 914.2,628.0 907.5,628.8 900.0,627.5 892.5,630.0 886.2,627.5 881.2,621.2 876.2,620.0 873.8,626.2 868.8,630.0 867.5,637.5 865.0,642.5 857.5,643.8 853.8,641.2 850.0,636.2 843.8,635.0 836.2,632.5 828.8,630.0 822.5,631.2 817.5,636.2 813.8,638.8 805.0,635.0 797.5,631.2 788.0,629.5 786.2,623.8 783.8,617.5 780.5,611.2"/>
<polyline class="k2" points="788.0,629.5 786.2,635.0 790.0,643.8 792.5,650.0 791.2,657.5 797.5,668.8 795.0,673.8 790.0,680.0 785.0,685.0 786.2,691.2 790.0,698.8"/>
<polyline class="k2" points="856.2,721.2 850.0,720.0 843.8,717.5 838.8,721.2 832.5,722.5 825.0,720.0 817.5,718.8 811.2,715.0 810.0,708.8 805.0,703.8 800.0,700.0 795.0,698.8 790.0,698.8"/>
<polyline class="k2" points="891.2,529.5 900.0,528.8 910.0,530.0 918.8,533.8 925.0,536.2 933.8,542.5 942.5,542.5 950.0,540.0 956.2,536.2 961.2,537.5 963.8,546.2 968.8,553.8 973.8,566.2 982.5,565.0 992.5,562.5 998.8,561.2 1005.0,563.8 1007.5,572.5 1011.2,582.5 1012.5,586.2 1005.0,591.2 1011.2,595.0 1018.8,596.2 1022.5,593.8"/>
<polyline class="k2" points="1022.5,593.8 1023.8,586.2 1030.0,577.5 1036.2,573.8 1042.5,575.0 1050.0,580.0 1053.8,585.0 1061.2,582.5 1062.5,575.0 1067.5,570.0 1073.8,568.8 1080.0,571.2 1087.5,570.0 1095.0,572.5 1100.0,577.5 1105.0,585.0 1112.5,592.5 1117.5,598.8 1118.8,602.5 1113.8,607.5 1110.0,612.5 1107.5,620.0 1102.5,626.2 1097.5,628.8 1092.5,633.8 1086.2,636.2 1083.8,642.5 1076.2,643.8 1070.0,648.8 1065.0,650.0 1060.0,657.5 1058.8,662.5 1062.5,667.5 1068.8,671.2 1072.5,677.5 1075.0,682.5 1078.8,687.0"/>
<polyline class="k2" points="1008.8,772.5 1000.0,771.2 992.5,768.8 983.8,770.0 980.0,775.0 972.5,775.0 967.5,780.0 961.2,778.8 958.8,772.5 956.2,767.5 950.0,767.5 947.5,772.5 942.5,777.5 935.0,777.5 928.8,781.2 920.0,780.0 912.5,781.2 905.0,780.0 901.2,777.5 895.0,781.2 888.8,783.8 883.8,788.8 877.5,792.5 872.5,795.0 867.5,791.2 863.8,783.8 856.2,779.5 849.5,776.2 850.0,770.0 853.8,762.5 857.5,755.0 855.0,750.0 856.2,742.5 853.0,735.0 852.5,725.0 856.2,721.2"/>
<polyline class="k2" points="1078.8,687.0 1085.0,683.8 1092.5,682.5 1098.8,687.5 1102.5,696.2 1107.5,701.2 1113.8,706.2 1120.0,712.5 1125.0,720.0 1132.5,725.0 1138.8,732.5 1145.0,738.8 1148.8,746.2 1151.2,755.0 1152.5,762.5 1155.0,770.0 1156.8,773.8 1150.0,772.5 1142.5,770.0 1136.2,766.2 1131.2,768.8 1130.0,775.0 1122.5,778.8 1115.0,783.8 1107.5,787.5 1100.0,792.5 1096.2,797.5 1096.2,802.5 1091.8,808.0 1093.8,813.8 1085.0,812.5 1075.0,811.2 1071.2,813.8 1062.5,815.0 1057.5,810.0 1050.0,807.5 1045.0,807.0 1041.2,802.5 1035.0,798.8 1028.8,796.2 1025.0,790.0 1018.8,786.2 1013.8,786.2 1012.5,778.8 1008.8,772.5"/>
<polyline class="k2" points="892.0,855.5 886.2,847.5 880.0,840.0 875.0,833.8 867.5,827.5 860.0,822.5 855.0,817.0 856.2,811.2 861.2,803.8 861.2,797.5 867.5,791.2"/>
<polyline class="k2" points="1033.8,945.5 1025.0,943.8 1015.0,942.5 1012.5,936.2 1010.0,940.0 1005.0,945.0 1000.0,948.8 997.5,953.8 991.2,955.0 985.0,950.0 977.5,948.8 977.5,943.8 976.2,937.5 970.0,935.0 962.5,930.0 955.0,927.5 952.5,921.2 945.0,918.8 937.5,915.0 930.0,910.0 922.5,908.8 915.0,906.2 906.2,907.5 900.0,902.5 892.5,896.2 883.8,891.2 885.0,885.0 885.0,876.2 888.8,870.0 892.5,862.5 890.0,857.5 892.0,855.5"/>
<polyline class="k2" points="1156.8,773.8 1162.5,777.5 1170.0,783.8 1180.0,787.5 1187.5,791.2 1193.8,787.5 1197.5,780.0 1205.0,772.5 1212.5,765.0 1217.5,755.0 1222.5,750.0 1227.5,749.5 1225.0,757.5 1222.5,767.5 1217.5,775.0 1215.0,785.0 1217.5,795.0 1216.2,802.5 1213.8,810.0 1215.0,815.0 1207.5,821.2 1202.5,826.2 1193.8,830.0 1197.5,840.0 1200.0,850.0 1202.5,857.5 1203.8,867.5 1205.0,877.5 1200.0,882.5 1200.5,889.2"/>
<polyline class="k2" points="883.8,891.2 877.5,893.8 870.0,897.5 865.0,902.5 863.8,910.0 857.5,915.0 850.0,918.8 842.5,922.5 833.8,925.0 825.0,927.5 816.2,930.0 812.5,936.2 811.2,945.0 803.8,950.0 802.0,953.0"/>
<polyline class="k2" points="1265.5,742.5 1267.5,733.8 1262.5,727.5 1263.8,721.2 1260.0,713.8 1256.2,708.8 1248.8,703.8 1245.0,696.2 1242.5,688.8 1238.8,681.2 1236.2,673.8 1230.0,670.0 1225.0,667.5 1228.8,661.2 1230.0,655.0 1235.0,652.5 1242.5,656.2 1250.0,660.0 1257.5,660.0 1265.0,663.8 1272.5,667.5 1280.0,668.8 1286.2,667.5 1290.0,672.5 1297.5,675.0 1305.0,673.8 1310.0,677.5 1312.5,683.8 1317.5,688.8 1325.0,695.0 1332.5,698.8 1340.0,700.0 1345.0,696.2 1348.8,697.5 1348.8,706.2 1347.5,713.8 1350.0,720.0 1352.5,716.2 1360.0,713.8 1367.5,716.2 1370.0,723.0 1368.8,730.0 1367.5,741.2 1358.8,740.0 1356.2,737.5 1352.5,745.0 1346.2,750.0 1341.2,753.8 1337.5,760.0 1330.0,765.0 1325.0,771.2 1322.5,782.5 1320.8,786.2"/>
<polyline class="k2" points="1227.5,749.5 1232.5,743.8 1240.0,741.2 1248.8,738.8 1255.0,732.5 1258.8,737.5 1265.5,742.5"/>
<polyline class="k2" points="1320.8,786.2 1321.2,795.0 1320.0,805.0 1316.2,812.5 1310.0,820.0 1307.5,827.5 1305.0,832.5 1310.0,840.0 1313.8,846.2 1310.0,852.5 1307.5,860.0 1308.8,867.5 1305.0,872.5 1303.8,877.0"/>
<polyline class="k2" points="1225.0,937.0 1215.0,936.2 1217.5,930.0 1215.0,922.5 1210.0,915.0 1206.2,907.5 1203.8,900.0 1200.0,891.2 1200.5,889.2"/>
<polyline class="k2" points="1370.0,723.0 1376.2,720.0 1380.0,717.5 1390.0,715.0 1397.5,716.2 1405.0,717.5 1410.0,713.8 1415.0,716.2 1422.5,713.8 1428.8,708.8 1433.8,706.2 1435.0,695.0 1441.2,696.2 1446.2,701.2 1450.0,703.8 1448.8,710.0 1445.0,716.2 1447.5,722.5 1453.8,728.8 1453.8,736.2 1452.5,741.2 1443.8,742.5 1437.5,747.5 1430.0,751.2 1422.5,753.8 1415.0,756.2 1413.8,761.2 1418.8,766.2 1423.8,770.0 1427.5,776.2 1435.0,777.5 1442.5,781.2 1447.5,787.5 1452.5,793.8 1456.2,802.5 1457.0,805.5"/>
<polyline class="k2" points="1399.2,923.8 1393.8,921.2 1387.5,917.5 1381.2,918.8 1373.8,918.8 1370.0,911.2 1363.8,907.5 1358.8,902.5 1355.0,900.0 1348.8,902.5 1342.5,898.8 1336.2,897.5 1330.0,896.2 1321.2,892.5 1322.5,882.5 1320.0,885.0 1312.5,880.0 1306.2,873.8 1303.8,877.0"/>
<polyline class="k2" points="1457.0,805.5 1460.0,812.5 1466.2,816.2 1472.5,820.0 1477.5,826.2 1485.0,830.0 1492.5,828.8 1498.8,827.5 1505.0,821.2 1512.5,817.5 1520.0,813.8 1527.5,815.0 1528.8,808.8 1523.8,806.2 1520.0,802.5 1520.0,797.5 1525.0,793.8 1531.2,795.0 1536.2,798.8 1540.0,805.0 1545.0,811.2 1550.0,817.5 1560.0,820.0 1565.0,817.5 1572.5,821.2 1575.0,827.5 1582.5,830.0 1590.0,833.8 1592.5,840.0 1597.5,843.8 1603.0,837.0"/>
<polyline class="k2" points="1445.0,931.2 1442.5,927.5 1435.0,926.2 1427.5,922.5 1422.5,923.8 1415.0,928.8 1407.5,927.5 1399.2,923.8"/>
<polyline class="k2" points="1603.0,837.0 1608.8,840.0 1615.0,840.0 1622.5,841.2 1628.8,840.0 1635.0,845.0 1641.2,847.5 1650.0,851.2 1656.2,852.5 1657.5,843.8 1665.0,845.0 1666.2,853.8 1666.2,860.0 1672.5,866.2 1668.8,872.5 1667.5,880.0 1671.2,887.5 1675.0,897.5 1678.8,905.0 1681.2,913.8 1682.0,923.8"/>
<polyline class="k2" points="1682.0,923.8 1687.5,925.0 1695.0,927.5 1702.5,928.8 1705.0,935.0 1712.5,936.2 1720.0,935.0 1727.5,937.5 1730.0,945.0 1732.5,955.0 1736.2,965.0 1738.8,975.0 1742.5,982.5 1745.0,987.5 1741.2,995.0 1742.5,998.8 1736.2,1000.0 1730.0,1002.5 1722.5,1006.2 1717.5,1010.0 1710.0,1007.5 1702.5,1006.2 1695.0,1006.2 1685.0,1010.0 1677.5,1006.2 1670.0,1007.5 1663.8,1012.5 1665.0,1020.0 1660.0,1026.2 1657.5,1032.5 1651.2,1037.5 1648.8,1043.8 1643.8,1048.8 1640.0,1052.5 1632.0,1052.0 1625.0,1048.8 1621.2,1042.5 1620.0,1037.5 1615.0,1033.8 1610.0,1030.0 1605.0,1025.0 1602.5,1020.0 1600.0,1016.2"/>
<polyline class="k2" points="1600.0,1016.2 1592.5,1017.5 1587.5,1020.0 1580.0,1015.0 1572.5,1013.8 1567.5,1008.8 1560.0,1007.5 1552.5,1008.8 1545.0,1007.5 1537.5,1010.0 1530.0,1012.5 1523.8,1013.8 1522.5,1007.5 1517.5,1002.5 1511.2,1000.0 1503.0,1001.2 1501.2,995.0 1497.5,991.2 1492.5,993.8 1490.0,997.5 1486.2,993.8 1485.0,990.0 1490.0,986.2 1486.2,978.8 1482.5,973.8 1476.2,970.0 1472.5,965.0 1467.5,961.2 1462.5,956.2 1458.8,950.0 1455.0,948.8 1453.8,952.5 1448.8,951.2 1443.8,947.5 1441.2,940.0 1442.5,935.0 1445.0,931.2"/>
<polyline class="k2" points="1470.8,1042.0 1470.0,1036.2 1475.0,1031.2 1472.5,1027.5 1473.8,1021.2 1480.0,1017.5 1485.0,1011.2 1492.5,1012.5 1500.0,1010.0 1503.0,1001.2"/>
<polyline class="k2" points="1632.5,1052.0 1633.8,1057.5 1631.2,1065.0 1630.0,1071.2 1625.0,1077.5 1620.0,1081.2 1612.5,1085.0 1605.0,1087.5 1597.5,1091.2 1590.0,1093.8 1582.5,1096.2 1577.5,1100.0 1575.0,1107.5 1570.0,1112.5 1568.8,1120.0 1567.5,1130.0 1565.0,1140.0 1565.0,1146.2 1561.2,1152.5 1560.0,1158.0"/>
<polyline class="k2" points="1560.0,1158.0 1561.2,1165.0 1561.2,1175.0 1557.5,1182.5 1555.0,1190.0 1550.0,1196.2 1545.0,1201.2 1537.5,1203.8 1530.0,1202.5 1522.5,1203.8 1515.0,1205.0 1511.2,1207.0"/>
<polyline class="k2" points="1511.2,1207.0 1510.0,1215.0 1508.8,1225.0 1506.2,1235.0 1505.0,1243.8 1497.5,1242.5 1490.0,1242.5 1482.5,1243.8 1477.5,1250.0 1472.5,1256.2 1466.2,1262.5 1461.2,1266.2 1455.0,1268.8 1448.8,1270.0 1442.5,1272.0 1440.0,1265.0 1436.2,1258.8 1431.2,1252.5 1425.0,1248.8 1418.8,1246.2 1417.5,1240.0 1413.8,1235.0 1407.5,1231.2 1401.2,1232.5 1395.0,1233.8 1388.8,1235.0 1383.8,1231.2 1378.8,1226.2 1372.5,1225.0 1367.5,1220.0 1365.0,1215.0 1357.5,1212.5 1350.0,1211.2 1343.8,1207.5 1340.0,1203.8 1333.8,1203.8 1332.5,1197.5 1333.8,1192.5 1331.2,1186.2 1330.0,1184.5"/>
<polyline class="k2" points="1470.8,1042.0 1465.0,1042.5 1460.0,1041.2 1453.8,1042.5 1447.5,1037.5 1443.8,1037.5 1441.2,1041.2 1433.8,1040.0 1431.2,1043.8 1430.0,1050.0 1423.8,1053.8 1417.5,1056.2 1411.2,1058.8 1403.8,1060.0 1401.2,1067.5 1396.2,1073.8 1392.5,1076.2 1387.5,1071.2 1382.5,1068.8 1375.0,1067.5 1367.5,1067.5 1366.2,1060.0 1363.8,1057.5 1357.5,1063.8 1360.0,1071.2 1362.5,1077.5 1360.0,1085.0 1355.0,1090.0 1350.0,1096.2 1343.8,1098.8 1337.5,1101.2 1330.0,1102.5 1322.5,1103.8 1317.5,1107.5 1313.8,1112.5 1308.8,1122.5 1310.0,1132.5 1313.8,1142.5 1315.0,1150.0 1322.5,1148.8 1323.8,1156.2 1320.0,1163.8 1311.2,1166.2 1310.0,1175.0 1303.8,1182.5 1303.8,1189.5 1310.0,1190.0 1317.5,1187.5 1325.0,1186.2 1330.0,1184.5"/>
<polyline class="k2" points="1225.0,937.0 1227.5,945.0 1227.5,955.0 1223.8,960.0 1220.0,965.0 1220.0,972.5 1218.8,980.0 1217.0,987.0 1212.5,983.8 1205.0,980.0 1197.5,980.0 1190.0,978.8 1183.8,980.0 1177.5,977.5 1171.2,978.8 1162.5,978.8 1153.8,980.0 1152.5,988.8 1146.2,990.0 1137.5,991.2 1127.5,993.8 1122.5,992.5 1117.5,996.2 1113.8,998.0 1108.8,992.5 1102.5,986.2 1096.2,981.2 1088.8,978.8 1082.5,975.0 1078.8,968.8 1072.5,966.2 1066.2,962.5 1060.0,957.5 1053.8,955.0 1047.5,955.0 1041.2,952.5 1036.2,948.8 1033.8,945.5"/>
<polyline class="k2" points="1217.0,987.0 1217.5,993.8 1207.5,992.5 1203.8,997.5 1205.0,1005.0 1202.5,1010.0 1210.0,1011.2 1217.5,1012.5 1223.8,1012.5 1217.5,1016.2 1215.0,1025.0 1216.2,1035.0 1220.0,1042.5 1222.5,1050.0 1226.2,1052.5 1220.0,1053.8 1217.5,1060.0 1223.8,1063.8 1230.0,1068.8 1233.8,1072.0 1240.0,1067.5 1242.5,1061.2 1247.5,1056.2 1247.5,1048.8 1243.8,1043.8 1241.2,1038.8 1235.0,1035.0 1237.5,1030.0 1246.2,1026.2 1252.5,1027.5 1257.5,1033.8 1262.5,1038.8 1265.0,1047.5 1271.2,1055.0 1276.2,1061.2 1281.2,1065.0 1283.8,1062.5 1285.0,1070.0 1283.8,1076.2 1287.5,1081.2 1293.8,1085.0 1301.2,1088.8 1306.2,1095.0 1310.0,1102.5 1312.5,1110.0 1314.2,1113.0"/>
<polyline class="k2" points="1113.8,998.0 1111.2,1005.0 1110.0,1011.2 1115.0,1016.2 1116.2,1022.5 1113.8,1027.5 1105.0,1028.8 1110.0,1032.5 1111.2,1038.8 1108.8,1046.2 1107.5,1053.8 1110.0,1061.2 1108.8,1068.8 1111.2,1073.8"/>
<polyline class="k2" points="1111.2,1073.8 1111.2,1082.5 1105.0,1087.5 1098.8,1091.2 1092.5,1096.2 1087.5,1102.5 1082.5,1110.0 1081.2,1116.2 1086.2,1121.2 1079.5,1126.2"/>
<polyline class="k2" points="1299.2,1302.8 1295.0,1308.5 1290.0,1316.0 1285.0,1324.8 1280.0,1332.2 1278.8,1338.5 1276.2,1346.0 1272.5,1353.5 1271.2,1361.0 1268.8,1368.5 1263.8,1372.2 1258.8,1369.8 1257.5,1361.0 1257.5,1353.5 1255.0,1347.2 1252.5,1339.8 1250.0,1334.8 1243.8,1333.5 1235.0,1334.8 1226.2,1337.2 1220.0,1333.5 1212.5,1332.2 1205.0,1328.5 1197.5,1326.0 1192.5,1322.2 1192.5,1316.0 1187.5,1311.0 1182.5,1308.5 1175.0,1308.5 1167.5,1304.8 1161.2,1302.2 1157.5,1298.5 1150.0,1302.2 1142.5,1302.2 1134.2,1303.0"/>
<polyline class="k2" points="1299.2,1302.8 1303.8,1294.8 1306.2,1286.0 1312.5,1282.2 1320.0,1277.2 1325.0,1271.0 1330.0,1268.5 1336.2,1271.0 1343.8,1273.5 1350.0,1274.8 1355.0,1279.8 1361.2,1283.5 1367.5,1287.2 1375.0,1291.0 1381.2,1287.2 1386.2,1282.2 1393.8,1278.5 1400.0,1279.8 1406.2,1284.8 1411.2,1289.8 1417.5,1284.8 1423.8,1287.2 1430.0,1282.2 1437.5,1278.5 1442.5,1272.0"/>
</g>
<text x="95.5" y="799.8" font-size="31">CH</text>
<text x="160.0" y="753.1" font-size="31">SO</text>
<text x="256.8" y="761.1" font-size="31">KV</text>
<text x="187.5" y="928.1" font-size="31">TC</text>
<text x="319.2" y="884.8" font-size="31">PS</text>
<text x="343.8" y="946.6" font-size="31">PM</text>
<text x="416.8" y="924.1" font-size="31">RO</text>
<text x="409.2" y="721.1" font-size="31">LN</text>
<text x="433.8" y="807.3" font-size="31">RA</text>
<text x="361.8" y="998.6" font-size="31">PJ</text>
<text x="221.8" y="1039.1" font-size="31">DO</text>
<text x="336.2" y="1129.1" font-size="31">KT</text>
<text x="466.2" y="1130.3" font-size="31">ST</text>
<text x="463.8" y="1243.6" font-size="31">PT</text>
<text x="323.0" y="671.6" font-size="31">CV</text>
<text x="399.2" y="625.3" font-size="31">MO</text>
<text x="454.2" y="607.3" font-size="31">TP</text>
<text x="516.2" y="573.6" font-size="31">UL</text>
<text x="603.8" y="512.8" font-size="31">DC</text>
<text x="663.0" y="586.6" font-size="31">CL</text>
<text x="551.8" y="655.3" font-size="31">LT</text>
<text x="628.8" y="710.3" font-size="31">ME</text>
<text x="730.0" y="682.3" font-size="31">MB</text>
<text x="767.5" y="536.1" font-size="31">LI</text>
<text x="526.8" y="769.1" font-size="31">KD</text>
<text x="621.8" y="814.8" font-size="31">PH</text>
<text x="507.5" y="881.1" font-size="31">BE</text>
<text x="587.5" y="885.3" font-size="31">PZ</text>
<text x="677.5" y="877.3" font-size="31">PY</text>
<text x="780.0" y="763.6" font-size="31">NB</text>
<text x="766.2" y="840.3" font-size="31">KO</text>
<text x="814.2" y="900.3" font-size="31">KH</text>
<text x="866.2" y="687.8" font-size="31">JC</text>
<text x="528.8" y="976.1" font-size="31">PB</text>
<text x="696.2" y="947.3" font-size="31">BN</text>
<text x="558.0" y="1087.8" font-size="31">PI</text>
<text x="671.8" y="1092.8" font-size="31">TA</text>
<text x="793.8" y="1069.1" font-size="31">PE</text>
<text x="616.8" y="1242.6" font-size="31">CB</text>
<text x="570.0" y="1340.1" font-size="31">CK</text>
<text x="775.0" y="1188.3" font-size="31">JH</text>
<text x="898.8" y="1111.6" font-size="31">JI</text>
<text x="986.2" y="1167.8" font-size="31">TR</text>
<text x="1045.0" y="1281.1" font-size="31">ZN</text>
<text x="1035.5" y="1044.1" font-size="31">ZR</text>
<text x="816.8" y="559.1" font-size="31">JN</text>
<text x="861.8" y="604.1" font-size="31">SM</text>
<text x="958.8" y="626.6" font-size="31">TU</text>
<text x="1044.2" y="659.1" font-size="31">NA</text>
<text x="933.0" y="756.6" font-size="31">HK</text>
<text x="1074.2" y="767.8" font-size="31">RK</text>
<text x="948.0" y="824.1" font-size="31">PU</text>
<text x="1133.0" y="840.3" font-size="31">UO</text>
<text x="975.0" y="898.6" font-size="31">CR</text>
<text x="1127.5" y="952.8" font-size="31">SY</text>
<text x="893.0" y="977.8" font-size="31">HB</text>
<text x="1297.5" y="736.6" font-size="31">JE</text>
<text x="1253.8" y="849.1" font-size="31">SU</text>
<text x="1373.0" y="827.3" font-size="31">BR</text>
<text x="1500.0" y="876.6" font-size="31">OP</text>
<text x="1328.0" y="968.6" font-size="31">OC</text>
<text x="1585.0" y="902.8" font-size="31">OV</text>
<text x="1641.2" y="895.3" font-size="31">KI</text>
<text x="1525.0" y="969.1" font-size="31">NJ</text>
<text x="1656.8" y="982.8" font-size="31">FM</text>
<text x="1419.2" y="1033.6" font-size="31">PR</text>
<text x="1559.2" y="1077.8" font-size="31">VS</text>
<text x="1385.0" y="1116.6" font-size="31">KM</text>
<text x="1475.0" y="1142.8" font-size="31">ZL</text>
<text x="1420.5" y="1217.8" font-size="31">UH</text>
<text x="1336.8" y="1256.6" font-size="31">HO</text>
<text x="1267.5" y="1139.1" font-size="31">VY</text>
<text x="1293.8" y="1044.1" font-size="31">PV</text>
<text x="1171.2" y="1050.3" font-size="31">BK</text>
<text x="1164.2" y="1156.3" font-size="31">BM</text>
<text x="1151.8" y="1203.3" font-size="31">BI</text>
<text x="1210.0" y="1283.8" font-size="31">BV</text>
<text x="1417.8" y="129.8" font-size="29.5">ULK</text>
<text x="1543.0" y="91.1" font-size="29.5">LBK</text>
<text x="1293.0" y="181.1" font-size="29.5">KVK</text>
<text x="1486.2" y="203.6" font-size="29.5">PHA</text>
<text x="1494.2" y="254.8" font-size="29.5">STČ</text>
<text x="1337.5" y="283.6" font-size="29.5">PLK</text>
<text x="1643.5" y="142.3" font-size="29.5">HKK</text>
<text x="1675.2" y="231.1" font-size="29.5">PAK</text>
<text x="1620.2" y="317.3" font-size="29.5">VYS</text>
<text x="1744.0" y="374.8" font-size="29.5">JHM</text>
<text x="1794.0" y="288.6" font-size="29.5">OLK</text>
<text x="1883.5" y="248.6" font-size="29.5">MSK</text>
<text x="1861.0" y="357.3" font-size="29.5">ZLK</text>
<text x="1480.0" y="378.6" font-size="29.5">JHČ</text>
</svg>
<div class="lt" style="top:471.6px;font-size:32px;line-height:36px">lůžka na</div>
<div class="lt" style="top:520.4px;font-size:30px;line-height:34px">1 000 obyvatel</div>
<div class="sw" style="top:566px;background:#ffffd4"></div><div class="lb" style="top:570.3px;left:1737px">do 4,19</div>
<div class="sw" style="top:614px;background:#fee3a5"></div><div class="lb" style="top:618.2px">4,20 - 4,99</div>
<div class="sw" style="top:662px;background:#fdba74"></div><div class="lb" style="top:666.4px">5,00 - 5,69</div>
<div class="sw" style="top:710px;background:#fda802"></div><div class="lb" style="top:714.3px">5,70 - 6,49</div>
<div class="sw" style="top:758px;background:#e54c04"></div><div class="lb" style="top:762.4px">6,50 a více</div>
</body></html>
